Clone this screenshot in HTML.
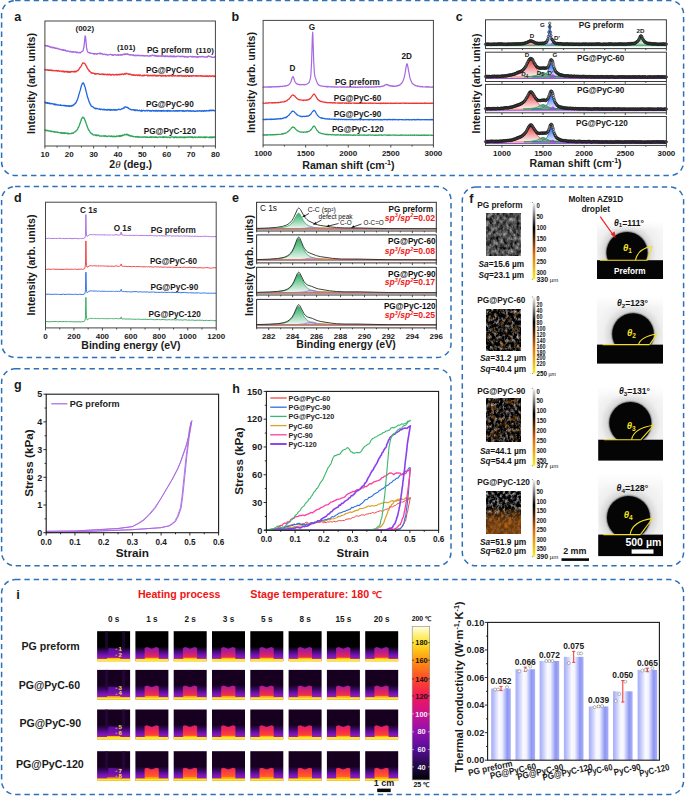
<!DOCTYPE html>
<html><head><meta charset="utf-8"><title>Figure</title>
<style>html,body{margin:0;padding:0;background:#fff;} svg{display:block;} text{font-family:"Liberation Sans", sans-serif;}</style>
</head><body>
<svg width="685" height="796" viewBox="0 0 685 796">
<defs>
<linearGradient id="cg0_0" x1="0" y1="0" x2="0" y2="1"><stop offset="0" stop-color="#e23a3a" stop-opacity="1"/><stop offset="0.55" stop-color="#e23a3a" stop-opacity="0.45"/><stop offset="1" stop-color="#e23a3a" stop-opacity="0.05"/></linearGradient>
<linearGradient id="cg0_1" x1="0" y1="0" x2="0" y2="1"><stop offset="0" stop-color="#1f5fe6" stop-opacity="1"/><stop offset="0.55" stop-color="#1f5fe6" stop-opacity="0.45"/><stop offset="1" stop-color="#1f5fe6" stop-opacity="0.05"/></linearGradient>
<linearGradient id="cg0_2" x1="0" y1="0" x2="0" y2="1"><stop offset="0" stop-color="#2a9a50" stop-opacity="1"/><stop offset="0.55" stop-color="#2a9a50" stop-opacity="0.45"/><stop offset="1" stop-color="#2a9a50" stop-opacity="0.05"/></linearGradient>
<linearGradient id="cg0_3" x1="0" y1="0" x2="0" y2="1"><stop offset="0" stop-color="#a040e0" stop-opacity="1"/><stop offset="0.55" stop-color="#a040e0" stop-opacity="0.45"/><stop offset="1" stop-color="#a040e0" stop-opacity="0.05"/></linearGradient>
<circle id="sc" cx="0" cy="0" r="1.2" fill="#999" fill-opacity="0.4" stroke="#000" stroke-width="0.5" stroke-opacity="0.9"/>
<linearGradient id="cg1_0" x1="0" y1="0" x2="0" y2="1"><stop offset="0" stop-color="#e23a3a" stop-opacity="1"/><stop offset="0.55" stop-color="#e23a3a" stop-opacity="0.45"/><stop offset="1" stop-color="#e23a3a" stop-opacity="0.05"/></linearGradient>
<linearGradient id="cg1_1" x1="0" y1="0" x2="0" y2="1"><stop offset="0" stop-color="#1f5fe6" stop-opacity="1"/><stop offset="0.55" stop-color="#1f5fe6" stop-opacity="0.45"/><stop offset="1" stop-color="#1f5fe6" stop-opacity="0.05"/></linearGradient>
<linearGradient id="cg1_2" x1="0" y1="0" x2="0" y2="1"><stop offset="0" stop-color="#2a9a50" stop-opacity="1"/><stop offset="0.55" stop-color="#2a9a50" stop-opacity="0.45"/><stop offset="1" stop-color="#2a9a50" stop-opacity="0.05"/></linearGradient>
<linearGradient id="cg1_3" x1="0" y1="0" x2="0" y2="1"><stop offset="0" stop-color="#a040e0" stop-opacity="1"/><stop offset="0.55" stop-color="#a040e0" stop-opacity="0.45"/><stop offset="1" stop-color="#a040e0" stop-opacity="0.05"/></linearGradient>
<linearGradient id="cg2_0" x1="0" y1="0" x2="0" y2="1"><stop offset="0" stop-color="#e23a3a" stop-opacity="1"/><stop offset="0.55" stop-color="#e23a3a" stop-opacity="0.45"/><stop offset="1" stop-color="#e23a3a" stop-opacity="0.05"/></linearGradient>
<linearGradient id="cg2_1" x1="0" y1="0" x2="0" y2="1"><stop offset="0" stop-color="#1f5fe6" stop-opacity="1"/><stop offset="0.55" stop-color="#1f5fe6" stop-opacity="0.45"/><stop offset="1" stop-color="#1f5fe6" stop-opacity="0.05"/></linearGradient>
<linearGradient id="cg2_2" x1="0" y1="0" x2="0" y2="1"><stop offset="0" stop-color="#2a9a50" stop-opacity="1"/><stop offset="0.55" stop-color="#2a9a50" stop-opacity="0.45"/><stop offset="1" stop-color="#2a9a50" stop-opacity="0.05"/></linearGradient>
<linearGradient id="cg2_3" x1="0" y1="0" x2="0" y2="1"><stop offset="0" stop-color="#a040e0" stop-opacity="1"/><stop offset="0.55" stop-color="#a040e0" stop-opacity="0.45"/><stop offset="1" stop-color="#a040e0" stop-opacity="0.05"/></linearGradient>
<linearGradient id="cg3_0" x1="0" y1="0" x2="0" y2="1"><stop offset="0" stop-color="#e23a3a" stop-opacity="1"/><stop offset="0.55" stop-color="#e23a3a" stop-opacity="0.45"/><stop offset="1" stop-color="#e23a3a" stop-opacity="0.05"/></linearGradient>
<linearGradient id="cg3_1" x1="0" y1="0" x2="0" y2="1"><stop offset="0" stop-color="#1f5fe6" stop-opacity="1"/><stop offset="0.55" stop-color="#1f5fe6" stop-opacity="0.45"/><stop offset="1" stop-color="#1f5fe6" stop-opacity="0.05"/></linearGradient>
<linearGradient id="cg3_2" x1="0" y1="0" x2="0" y2="1"><stop offset="0" stop-color="#2a9a50" stop-opacity="1"/><stop offset="0.55" stop-color="#2a9a50" stop-opacity="0.45"/><stop offset="1" stop-color="#2a9a50" stop-opacity="0.05"/></linearGradient>
<linearGradient id="cg3_3" x1="0" y1="0" x2="0" y2="1"><stop offset="0" stop-color="#a040e0" stop-opacity="1"/><stop offset="0.55" stop-color="#a040e0" stop-opacity="0.45"/><stop offset="1" stop-color="#a040e0" stop-opacity="0.05"/></linearGradient>
<linearGradient id="eg0" x1="0" y1="0" x2="0" y2="1"><stop offset="0" stop-color="#1fa85a" stop-opacity="0.95"/><stop offset="1" stop-color="#1fa85a" stop-opacity="0.05"/></linearGradient>
<linearGradient id="eg1" x1="0" y1="0" x2="0" y2="1"><stop offset="0" stop-color="#1fa85a" stop-opacity="0.95"/><stop offset="1" stop-color="#1fa85a" stop-opacity="0.05"/></linearGradient>
<linearGradient id="eg2" x1="0" y1="0" x2="0" y2="1"><stop offset="0" stop-color="#1fa85a" stop-opacity="0.95"/><stop offset="1" stop-color="#1fa85a" stop-opacity="0.05"/></linearGradient>
<linearGradient id="eg3" x1="0" y1="0" x2="0" y2="1"><stop offset="0" stop-color="#1fa85a" stop-opacity="0.95"/><stop offset="1" stop-color="#1fa85a" stop-opacity="0.05"/></linearGradient>
<filter id="tf0" x="0" y="0" width="100%" height="100%" filterUnits="objectBoundingBox" color-interpolation-filters="sRGB">
<feTurbulence type="fractalNoise" baseFrequency="0.3 0.22" numOctaves="4" seed="3"/>
<feColorMatrix type="matrix" values="0.95 0 0 0 -0.17  0.95 0 0 0 -0.17  0.95 0 0 0 -0.17  0 0 0 0 1"/>
</filter>
<filter id="tf0o" x="0" y="0" width="100%" height="100%" filterUnits="objectBoundingBox" color-interpolation-filters="sRGB">
<feTurbulence type="fractalNoise" baseFrequency="0.22 0.18" numOctaves="2" seed="14"/>
<feColorMatrix type="matrix" values="0 0 0 0 0.72  0 0 0 0 0.38  0 0 0 0 0.05  3.4 0 0 0 -2.2"/>
</filter>
<linearGradient id="fcb" x1="0" y1="0" x2="0" y2="1"><stop offset="0" stop-color="#f4f4f4"/><stop offset="0.33" stop-color="#000"/><stop offset="0.45" stop-color="#4a2000"/><stop offset="0.67" stop-color="#e07010"/><stop offset="1" stop-color="#f4f020"/></linearGradient>
<filter id="tf1" x="0" y="0" width="100%" height="100%" filterUnits="objectBoundingBox" color-interpolation-filters="sRGB">
<feTurbulence type="fractalNoise" baseFrequency="0.35 0.28" numOctaves="4" seed="8"/>
<feColorMatrix type="matrix" values="1.65 0 0 0 -0.72  1.65 0 0 0 -0.72  1.65 0 0 0 -0.72  0 0 0 0 1"/>
</filter>
<filter id="tf1o" x="0" y="0" width="100%" height="100%" filterUnits="objectBoundingBox" color-interpolation-filters="sRGB">
<feTurbulence type="fractalNoise" baseFrequency="0.22 0.18" numOctaves="2" seed="19"/>
<feColorMatrix type="matrix" values="0 0 0 0 0.72  0 0 0 0 0.38  0 0 0 0 0.05  3.4 0 0 0 -1.75"/>
</filter>
<filter id="tf2" x="0" y="0" width="100%" height="100%" filterUnits="objectBoundingBox" color-interpolation-filters="sRGB">
<feTurbulence type="fractalNoise" baseFrequency="0.35 0.28" numOctaves="4" seed="13"/>
<feColorMatrix type="matrix" values="1.65 0 0 0 -0.72  1.65 0 0 0 -0.72  1.65 0 0 0 -0.72  0 0 0 0 1"/>
</filter>
<filter id="tf2o" x="0" y="0" width="100%" height="100%" filterUnits="objectBoundingBox" color-interpolation-filters="sRGB">
<feTurbulence type="fractalNoise" baseFrequency="0.22 0.18" numOctaves="2" seed="24"/>
<feColorMatrix type="matrix" values="0 0 0 0 0.72  0 0 0 0 0.38  0 0 0 0 0.05  3.4 0 0 0 -1.7"/>
</filter>
<filter id="tf3" x="0" y="0" width="100%" height="100%" filterUnits="objectBoundingBox" color-interpolation-filters="sRGB">
<feTurbulence type="fractalNoise" baseFrequency="0.35 0.28" numOctaves="4" seed="18"/>
<feColorMatrix type="matrix" values="1.6 0 0 0 -0.66  1.6 0 0 0 -0.66  1.6 0 0 0 -0.66  0 0 0 0 1"/>
</filter>
<filter id="tf3o" x="0" y="0" width="100%" height="100%" filterUnits="objectBoundingBox" color-interpolation-filters="sRGB">
<feTurbulence type="fractalNoise" baseFrequency="0.22 0.18" numOctaves="2" seed="29"/>
<feColorMatrix type="matrix" values="0 0 0 0 0.72  0 0 0 0 0.38  0 0 0 0 0.05  3.4 0 0 0 -1.6"/>
</filter>
<linearGradient id="omask3g" x1="0" y1="0" x2="0" y2="1"><stop offset="0.35" stop-color="#000"/><stop offset="0.7" stop-color="#fff"/></linearGradient><mask id="omask3"><rect x="486.2" y="491.4" width="34.8" height="42.60000000000002" fill="url(#omask3g)"/></mask>
<radialGradient id="dbg0" cx="627.0" cy="252.5" r="38.949999999999996" gradientUnits="userSpaceOnUse"><stop offset="0.52" stop-color="#9a9a9a"/><stop offset="0.58" stop-color="#d8d8d8"/><stop offset="0.75" stop-color="#efefef"/><stop offset="1" stop-color="#f6f6f6"/></radialGradient>
<linearGradient id="dbg0v" x1="0" y1="0" x2="0" y2="1"><stop offset="0" stop-color="#fff" stop-opacity="1"/><stop offset="0.25" stop-color="#fff" stop-opacity="0"/></linearGradient>
<radialGradient id="dbg1" cx="633.0" cy="334.0" r="39.519999999999996" gradientUnits="userSpaceOnUse"><stop offset="0.52" stop-color="#9a9a9a"/><stop offset="0.58" stop-color="#d8d8d8"/><stop offset="0.75" stop-color="#efefef"/><stop offset="1" stop-color="#f6f6f6"/></radialGradient>
<linearGradient id="dbg1v" x1="0" y1="0" x2="0" y2="1"><stop offset="0" stop-color="#fff" stop-opacity="1"/><stop offset="0.25" stop-color="#fff" stop-opacity="0"/></linearGradient>
<radialGradient id="dbg2" cx="630.3" cy="423.0" r="39.9" gradientUnits="userSpaceOnUse"><stop offset="0.52" stop-color="#9a9a9a"/><stop offset="0.58" stop-color="#d8d8d8"/><stop offset="0.75" stop-color="#efefef"/><stop offset="1" stop-color="#f6f6f6"/></radialGradient>
<linearGradient id="dbg2v" x1="0" y1="0" x2="0" y2="1"><stop offset="0" stop-color="#fff" stop-opacity="1"/><stop offset="0.25" stop-color="#fff" stop-opacity="0"/></linearGradient>
<radialGradient id="dbg3" cx="628.5" cy="517.5" r="40.85" gradientUnits="userSpaceOnUse"><stop offset="0.52" stop-color="#9a9a9a"/><stop offset="0.58" stop-color="#d8d8d8"/><stop offset="0.75" stop-color="#efefef"/><stop offset="1" stop-color="#f6f6f6"/></radialGradient>
<linearGradient id="dbg3v" x1="0" y1="0" x2="0" y2="1"><stop offset="0" stop-color="#fff" stop-opacity="1"/><stop offset="0.25" stop-color="#fff" stop-opacity="0"/></linearGradient>
<linearGradient id="thbg0" x1="0" y1="0" x2="0" y2="1"><stop offset="0" stop-color="#000000"/><stop offset="0.52" stop-color="#000000"/><stop offset="0.66" stop-color="#3a0a66"/><stop offset="0.8" stop-color="#7412b4"/><stop offset="0.92" stop-color="#9a1cb8"/><stop offset="1" stop-color="#a822a0"/></linearGradient>
<linearGradient id="thsamp0" x1="0" y1="0" x2="0" y2="1"><stop offset="0" stop-color="#5a0c98"/><stop offset="0.6" stop-color="#7412b0"/><stop offset="0.85" stop-color="#a01898"/><stop offset="1" stop-color="#e83048"/></linearGradient>
<linearGradient id="thbg1" x1="0" y1="0" x2="0" y2="1"><stop offset="0" stop-color="#17001f"/><stop offset="0.52" stop-color="#17001f"/><stop offset="0.66" stop-color="#3a0a66"/><stop offset="0.8" stop-color="#7412b4"/><stop offset="0.92" stop-color="#9a1cb8"/><stop offset="1" stop-color="#a822a0"/></linearGradient>
<linearGradient id="thbg2" x1="0" y1="0" x2="0" y2="1"><stop offset="0" stop-color="#17001f"/><stop offset="0.52" stop-color="#17001f"/><stop offset="0.66" stop-color="#3a0a66"/><stop offset="0.8" stop-color="#7412b4"/><stop offset="0.92" stop-color="#9a1cb8"/><stop offset="1" stop-color="#a822a0"/></linearGradient>
<linearGradient id="thbg3" x1="0" y1="0" x2="0" y2="1"><stop offset="0" stop-color="#17001f"/><stop offset="0.52" stop-color="#17001f"/><stop offset="0.66" stop-color="#3a0a66"/><stop offset="0.8" stop-color="#7412b4"/><stop offset="0.92" stop-color="#9a1cb8"/><stop offset="1" stop-color="#a822a0"/></linearGradient>
<linearGradient id="thsampr0" x1="0" y1="0" x2="0" y2="1"><stop offset="0" stop-color="#8c1ca8"/><stop offset="0.4" stop-color="#b81c88"/><stop offset="0.8" stop-color="#e82858"/><stop offset="1" stop-color="#ff6a30"/></linearGradient>
<linearGradient id="thsampr1" x1="0" y1="0" x2="0" y2="1"><stop offset="0" stop-color="#a41c9c"/><stop offset="0.4" stop-color="#d02070"/><stop offset="0.8" stop-color="#f03048"/><stop offset="1" stop-color="#ff7028"/></linearGradient>
<linearGradient id="thsampr2" x1="0" y1="0" x2="0" y2="1"><stop offset="0" stop-color="#d0206c"/><stop offset="0.4" stop-color="#f02850"/><stop offset="0.8" stop-color="#ff4038"/><stop offset="1" stop-color="#ff8020"/></linearGradient>
<linearGradient id="thsampr3" x1="0" y1="0" x2="0" y2="1"><stop offset="0" stop-color="#ec2858"/><stop offset="0.4" stop-color="#ff4038"/><stop offset="0.8" stop-color="#ff6024"/><stop offset="1" stop-color="#ff9a18"/></linearGradient>
<linearGradient id="tcb" x1="0" y1="1" x2="0" y2="0"><stop offset="0" stop-color="#000004"/><stop offset="0.086" stop-color="#200a40"/><stop offset="0.2" stop-color="#560c96"/><stop offset="0.314" stop-color="#8e10b0"/><stop offset="0.43" stop-color="#cc1090"/><stop offset="0.543" stop-color="#f01858"/><stop offset="0.657" stop-color="#ff4a28"/><stop offset="0.771" stop-color="#ff9010"/><stop offset="0.886" stop-color="#ffe020"/><stop offset="1" stop-color="#ffffe0"/></linearGradient>
<linearGradient id="barg" x1="0" y1="0" x2="1" y2="0"><stop offset="0" stop-color="#a6aef8"/><stop offset="0.12" stop-color="#b8bef9"/><stop offset="0.4" stop-color="#fafaff"/><stop offset="0.55" stop-color="#f2f3ff"/><stop offset="0.82" stop-color="#8d96f3"/><stop offset="1" stop-color="#a9b0f6"/></linearGradient>
</defs>
<rect x="0" y="0" width="685" height="796" fill="#ffffff"/>
<rect x="1.6" y="0.6" width="682.0" height="174.9" rx="13.5" ry="13.5" fill="none" stroke="#2e70b8" stroke-width="1.5" stroke-dasharray="5.4 3.9"/>
<rect x="1.6" y="186.6" width="449.4" height="170.79999999999998" rx="13.5" ry="13.5" fill="none" stroke="#2e70b8" stroke-width="1.5" stroke-dasharray="5.4 3.9"/>
<rect x="462.3" y="187.0" width="221.3" height="378.79999999999995" rx="13.5" ry="13.5" fill="none" stroke="#2e70b8" stroke-width="1.5" stroke-dasharray="5.4 3.9"/>
<rect x="1.6" y="368.8" width="449.4" height="196.99999999999994" rx="13.5" ry="13.5" fill="none" stroke="#2e70b8" stroke-width="1.5" stroke-dasharray="5.4 3.9"/>
<rect x="1.6" y="579.6" width="682.0" height="214.79999999999995" rx="13.5" ry="13.5" fill="none" stroke="#2e70b8" stroke-width="1.5" stroke-dasharray="5.4 3.9"/>
<text x="14.30" y="20.50" font-size="12.5" text-anchor="start" font-weight="bold" fill="#1a1a1a">a</text>
<text x="35.38" y="83.50" font-size="10.5" text-anchor="middle" font-weight="bold" fill="#1a1a1a" textLength="101.00" lengthAdjust="spacingAndGlyphs" transform="rotate(-90 35.38 83.50)">Intensity (arb. units)</text>
<polyline points="44.9,45.4 45.3,45.4 45.6,45.9 46.0,45.5 46.4,46.0 47.1,45.7 47.5,46.2 47.8,45.9 48.2,46.3 48.6,46.1 48.9,46.2 49.6,47.0 50.0,46.5 51.1,47.5 51.8,47.2 52.2,47.8 52.6,47.1 52.9,47.9 53.3,47.5 54.0,47.5 54.8,48.3 55.1,47.8 55.5,48.3 55.9,48.4 56.2,48.2 56.6,48.5 57.0,48.1 57.7,48.5 58.1,49.0 58.8,48.8 59.1,49.1 59.9,49.1 60.2,49.6 60.6,49.6 61.0,49.3 62.1,50.1 62.8,49.7 63.2,50.4 63.5,49.7 64.3,50.5 64.6,50.0 65.0,50.4 65.4,50.1 65.7,50.8 66.1,50.9 66.5,50.8 66.8,51.2 67.2,50.8 67.6,51.2 68.6,51.2 69.4,51.8 69.7,51.5 70.1,51.7 70.5,51.2 70.8,51.8 71.2,51.8 71.6,52.2 71.9,52.1 72.3,51.6 73.0,52.1 73.4,51.6 73.8,52.0 74.1,51.8 74.9,51.8 75.2,52.4 75.6,51.9 76.3,52.2 76.7,52.7 77.1,52.0 78.1,52.8 78.9,52.8 79.2,52.3 80.0,52.4 80.3,52.8 80.7,52.8 81.1,52.0 82.5,51.4 82.9,50.9 83.3,49.8 84.0,46.7 85.1,36.0 85.5,36.6 86.6,47.9 87.3,51.0 88.0,52.3 88.4,52.6 89.5,52.7 89.8,53.3 90.2,52.9 91.7,53.5 92.4,53.3 93.5,53.8 93.9,53.5 94.2,54.3 95.0,53.6 96.0,53.8 96.4,53.6 96.8,54.2 97.1,54.3 97.5,53.8 98.6,53.3 99.0,53.4 99.3,53.3 99.7,53.8 100.1,53.2 100.4,53.1 100.8,54.0 101.5,53.5 101.9,53.9 102.3,53.6 103.0,54.6 103.7,54.4 104.1,54.1 104.5,54.2 104.8,54.1 105.2,54.7 105.5,54.5 105.9,54.7 106.3,54.4 106.6,54.3 107.0,54.9 107.4,55.0 108.8,54.9 109.2,54.5 109.6,54.7 110.3,54.3 110.7,54.3 111.4,54.6 112.1,55.2 112.5,54.8 112.9,55.2 113.2,55.3 113.6,55.3 114.0,54.7 114.3,54.6 115.4,54.6 116.1,55.3 116.5,55.2 116.9,54.9 117.6,55.2 118.0,54.5 118.7,55.3 119.4,55.1 120.2,54.5 120.5,55.1 120.9,54.6 121.6,55.1 122.0,54.6 122.4,54.5 122.7,55.0 123.5,54.1 123.8,54.0 124.2,54.0 124.5,54.6 124.9,54.4 125.3,53.8 125.6,54.3 126.0,54.4 126.7,53.9 127.1,54.1 127.5,53.8 127.8,53.7 128.2,54.7 128.9,54.5 129.3,54.9 129.7,54.6 130.0,55.0 130.4,55.1 130.8,54.6 131.9,54.8 132.2,55.2 132.6,54.9 133.0,55.1 133.3,54.9 133.7,55.6 134.0,55.1 135.1,55.7 135.5,55.3 135.9,55.8 136.2,55.4 137.0,55.5 137.3,55.1 137.7,55.5 138.4,55.1 138.8,55.8 139.2,55.3 139.9,55.8 140.6,55.5 141.7,55.9 142.1,55.3 142.5,55.7 142.8,55.5 143.2,55.5 143.5,56.0 143.9,55.7 145.0,56.1 145.4,55.7 146.8,55.9 147.2,55.7 147.9,55.8 148.3,56.2 148.7,56.0 149.4,56.2 149.8,55.5 150.5,56.1 150.9,56.0 151.2,55.4 151.6,55.3 151.9,55.6 152.3,55.2 152.7,55.3 153.0,55.1 153.4,55.6 154.1,55.9 154.5,55.3 154.9,55.8 155.2,55.8 155.6,55.4 156.0,56.1 156.3,56.3 156.7,55.6 157.1,56.3 157.4,55.9 157.8,56.0 158.2,56.4 158.5,56.3 158.9,55.7 159.6,56.1 160.4,55.8 161.1,56.3 161.4,55.7 161.8,56.2 162.5,55.7 163.3,56.3 163.6,56.2 164.0,55.8 164.4,56.6 164.7,56.5 165.1,56.7 165.5,55.9 165.8,56.0 166.2,55.8 166.6,56.5 166.9,56.1 167.3,55.9 168.0,56.7 168.4,56.6 168.8,56.1 169.1,56.0 169.5,56.7 169.9,56.4 170.2,56.5 170.6,56.0 170.9,56.0 171.3,56.5 172.0,56.0 172.4,56.8 172.8,56.5 173.1,56.7 173.5,56.0 173.9,56.7 174.2,56.0 174.6,56.8 175.3,56.3 176.1,56.9 176.4,56.3 176.8,56.2 177.2,56.5 177.9,56.2 178.6,56.1 179.7,56.4 180.1,56.8 180.4,56.4 180.8,56.6 181.2,56.3 181.5,56.5 181.9,56.2 182.3,56.4 182.6,56.2 183.0,56.8 183.7,56.4 184.5,57.0 184.8,56.3 185.2,57.0 185.6,56.6 186.3,57.0 186.7,56.6 187.8,57.2 188.1,56.6 188.5,57.0 190.3,56.4 191.0,56.4 191.4,57.0 191.8,56.6 192.5,56.4 192.9,57.1 193.2,57.2 194.0,56.6 195.1,56.8 195.4,56.5 195.8,56.8 196.2,56.7 196.5,57.3 196.9,57.3 197.6,56.7 198.0,57.3 198.3,56.7 198.7,56.8 199.1,56.5 199.4,56.8 200.2,56.9 200.5,56.7 200.9,56.9 201.3,56.5 201.6,56.7 202.0,56.6 202.4,56.9 202.7,56.5 203.1,56.5 203.5,56.8 203.8,56.7 204.2,57.0 206.0,57.2 206.4,56.8 206.8,56.7 207.1,57.2 207.5,56.4 207.8,56.8 208.2,56.5 208.6,55.8 208.9,56.4 209.7,56.4 210.4,56.9 210.8,56.5 211.1,56.9 211.5,56.9 211.9,57.3 212.6,57.3 213.0,57.1 213.3,57.4 214.1,57.3 214.8,56.7 215.2,56.8" fill="none" stroke="#a768e0" stroke-width="1.3" stroke-linejoin="round" stroke-linecap="round"/>
<polyline points="44.9,69.6 45.3,69.4 45.6,70.1 46.0,69.9 47.1,70.1 47.8,69.6 48.2,70.3 48.9,70.1 49.6,70.3 50.0,69.8 50.4,70.5 51.1,70.0 51.8,70.6 52.2,70.2 52.9,70.9 53.3,70.5 53.7,70.5 54.8,70.9 55.5,70.9 55.9,70.4 56.6,70.6 57.0,71.1 57.3,70.7 57.7,71.0 58.1,70.5 58.8,70.8 59.1,71.2 59.5,71.3 59.9,71.3 60.2,71.0 60.6,71.2 61.3,71.2 61.7,71.0 62.1,71.7 62.4,71.1 62.8,71.8 63.2,71.8 63.5,71.0 64.6,72.0 65.0,71.5 65.7,71.4 66.1,72.0 66.5,71.4 66.8,71.8 67.2,71.4 67.9,72.2 68.3,71.5 68.6,72.1 69.0,71.8 69.4,72.2 70.1,71.6 70.5,72.2 71.2,71.4 71.6,71.4 71.9,71.8 73.0,71.5 73.8,71.6 74.1,72.0 74.5,71.2 74.9,71.9 75.2,71.9 75.6,71.2 76.0,71.8 76.3,71.5 76.7,71.5 77.1,70.8 77.8,70.4 78.1,70.6 80.3,67.1 80.7,67.1 81.1,66.0 81.4,65.9 81.8,64.6 82.2,64.0 82.9,62.9 83.3,62.8 83.6,63.1 84.0,63.1 84.7,63.4 86.2,65.9 86.6,66.1 86.9,67.4 87.6,68.8 88.7,69.9 89.1,71.1 89.5,70.8 89.8,71.5 90.6,72.0 91.3,73.1 91.7,72.6 92.0,73.1 92.4,73.0 92.8,73.3 93.5,73.2 94.2,73.4 94.6,74.1 95.3,73.5 95.7,74.2 96.0,74.3 96.8,73.6 97.5,73.6 97.9,73.9 98.2,73.7 99.0,73.9 99.7,74.5 100.4,74.1 101.2,74.3 102.3,73.9 102.6,74.1 103.0,74.7 103.4,74.0 104.5,74.7 104.8,74.1 106.3,74.4 106.6,74.9 107.4,74.8 107.7,74.1 108.1,74.1 108.5,74.7 108.8,74.9 109.2,74.5 109.6,74.6 109.9,74.1 110.7,75.0 111.8,75.0 112.1,74.4 112.5,74.3 112.9,74.3 114.0,75.1 114.7,74.8 115.0,74.9 115.4,74.6 115.8,74.7 116.1,74.3 116.5,74.9 116.9,74.4 117.2,75.1 118.3,74.3 119.4,74.8 119.8,74.2 120.2,74.2 120.5,74.5 120.9,74.6 121.6,74.1 122.0,74.4 122.4,73.8 123.1,74.1 123.5,74.5 123.8,74.1 124.2,74.3 124.9,73.5 125.3,73.5 125.6,74.1 126.7,73.2 127.5,73.9 128.2,73.8 128.9,74.6 129.3,74.0 129.7,73.9 130.8,74.7 131.1,74.4 131.5,75.0 131.9,75.0 132.6,74.6 133.0,75.3 133.3,74.8 133.7,75.3 134.0,74.8 134.4,74.8 134.8,75.3 135.1,74.9 135.5,75.5 136.2,74.9 136.6,74.9 137.7,75.6 138.1,74.9 138.4,75.2 138.8,75.0 139.2,75.7 139.5,75.0 139.9,74.9 140.3,74.9 141.0,75.7 141.7,75.6 142.1,75.8 142.5,75.8 142.8,75.2 143.2,75.1 143.5,75.8 143.9,75.6 144.3,75.0 144.6,75.6 145.0,75.3 145.7,75.3 146.5,75.0 147.2,75.3 147.6,75.9 147.9,75.1 148.3,75.9 148.7,75.2 149.4,75.8 149.8,75.8 150.5,75.1 150.9,75.5 151.2,75.4 151.6,75.9 151.9,75.3 152.3,75.4 152.7,75.9 153.0,75.1 153.8,75.8 154.1,75.8 154.5,75.2 154.9,75.2 155.2,75.2 155.6,76.0 156.0,75.4 156.7,76.0 157.1,75.5 157.4,75.4 157.8,76.0 158.5,75.4 158.9,75.8 159.3,75.5 160.0,75.2 160.4,75.9 160.7,76.0 161.1,75.8 161.4,76.1 161.8,75.2 162.5,75.6 162.9,76.1 163.3,76.1 163.6,75.6 164.0,75.5 164.7,75.7 165.1,76.1 165.5,75.4 165.8,76.0 166.9,76.0 167.7,75.6 168.0,75.6 168.4,75.6 168.8,76.0 169.1,75.4 169.5,75.5 169.9,76.0 170.2,75.5 170.9,75.3 171.3,75.8 171.7,75.6 172.0,76.2 172.8,76.2 173.1,75.6 173.5,75.4 173.9,75.4 174.6,76.0 175.3,75.6 176.1,75.9 177.2,76.1 177.5,76.0 177.9,75.5 178.3,76.1 178.6,75.6 179.0,75.9 179.4,75.7 179.7,76.1 180.1,75.6 181.2,75.5 181.5,76.2 182.3,75.7 182.6,75.8 183.0,76.3 183.7,75.6 184.1,76.2 184.5,76.0 184.8,76.3 185.2,75.5 185.9,76.2 186.7,76.3 187.0,75.5 187.4,75.7 188.1,75.6 188.5,76.4 188.9,76.0 189.2,76.3 189.6,75.8 189.9,76.3 190.7,75.7 191.4,76.4 191.8,75.6 192.1,76.1 192.5,76.1 192.9,75.7 193.2,75.9 193.6,75.7 194.3,75.8 195.1,76.1 195.8,75.6 196.5,76.2 196.9,75.7 197.6,75.8 198.0,76.3 198.7,75.6 200.2,76.2 200.5,75.7 200.9,75.7 201.3,76.2 201.6,76.0 202.4,75.9 202.7,76.5 203.1,75.9 203.5,76.1 203.8,76.0 204.2,76.0 204.9,76.5 205.3,76.0 205.7,75.8 206.0,76.3 206.8,75.7 207.1,76.5 207.5,76.0 207.8,76.4 208.2,76.0 208.6,76.5 209.7,75.7 210.0,76.2 210.8,76.5 211.1,75.8 211.5,76.3 211.9,76.0 212.2,76.2 212.6,75.8 213.7,76.6 214.1,75.8 215.2,76.6" fill="none" stroke="#ee3535" stroke-width="1.3" stroke-linejoin="round" stroke-linecap="round"/>
<polyline points="44.9,102.1 45.3,102.2 45.6,103.0 46.0,103.1 46.7,102.4 47.1,103.2 47.5,102.8 47.8,103.4 48.2,103.2 48.6,103.5 48.9,102.9 49.3,103.6 49.6,103.1 50.4,103.8 50.7,103.9 51.1,103.4 52.2,103.9 52.9,103.7 54.0,104.6 54.4,103.9 55.1,104.7 55.5,104.1 55.9,104.9 56.2,104.3 56.6,104.8 57.3,105.0 57.7,104.7 58.4,105.1 58.8,105.0 59.1,105.3 59.9,105.2 60.2,104.8 60.6,105.4 61.3,105.2 61.7,105.7 62.1,105.7 62.8,105.3 63.2,105.6 63.5,105.3 63.9,105.4 64.3,105.7 64.6,105.4 65.4,105.9 65.7,105.5 66.1,106.0 66.5,105.6 66.8,106.2 67.2,106.2 67.9,105.6 68.3,106.0 68.6,105.9 69.0,106.5 69.4,105.7 69.7,106.3 70.1,106.4 70.5,106.1 70.8,106.1 71.2,105.5 71.6,106.1 71.9,105.6 72.3,105.9 72.7,105.7 73.0,104.9 73.4,105.3 73.8,105.2 74.1,104.1 74.9,104.1 75.2,103.2 75.6,103.4 76.0,102.3 76.3,102.2 76.7,100.9 77.4,99.9 80.0,90.9 80.3,90.2 81.4,85.6 81.8,85.0 82.2,83.6 83.3,82.8 83.6,83.6 84.0,84.0 84.7,86.3 85.1,86.8 85.5,89.0 86.9,94.3 87.3,96.3 89.5,102.7 89.8,102.9 90.2,104.3 90.6,104.4 91.3,106.2 91.7,106.2 92.0,106.7 92.8,106.7 93.5,107.4 93.9,108.0 94.6,108.2 95.0,108.7 95.3,108.1 96.0,108.7 96.4,108.3 96.8,108.3 97.1,108.7 97.5,108.5 97.9,108.8 98.2,108.8 98.6,109.1 99.0,109.2 99.3,108.9 99.7,109.3 100.4,109.0 100.8,109.7 101.2,109.1 101.9,109.1 102.6,109.8 104.1,109.2 104.5,109.8 105.2,109.5 105.5,109.8 105.9,109.7 106.3,110.1 107.0,109.5 107.4,110.1 107.7,109.4 108.1,109.8 109.2,109.5 109.6,110.1 109.9,109.4 110.7,110.3 111.0,109.6 111.4,109.6 111.8,110.0 112.1,109.9 112.9,110.2 113.2,109.6 114.0,109.8 114.3,109.5 114.7,110.3 115.4,110.1 115.8,109.5 116.1,110.2 116.9,109.8 117.2,110.1 118.0,109.5 119.1,109.2 119.8,109.7 120.5,109.7 121.3,108.9 121.6,109.0 122.0,108.8 122.4,108.9 123.1,108.1 123.8,108.3 124.2,107.4 124.5,107.8 124.9,106.8 125.6,106.8 126.4,107.4 127.1,107.1 127.5,107.8 127.8,107.6 128.2,107.7 128.6,108.6 128.9,108.5 129.7,109.0 130.0,109.4 130.4,109.1 130.8,109.6 131.1,109.6 131.5,109.9 131.9,109.6 132.2,109.9 133.3,109.7 133.7,110.1 134.0,109.7 134.4,110.5 134.8,109.9 135.1,109.8 135.5,109.9 135.9,110.7 136.2,110.2 137.0,110.0 137.3,110.0 137.7,110.6 138.8,110.7 139.2,110.1 139.5,110.6 139.9,110.4 140.3,110.9 141.0,111.0 141.4,110.2 141.7,111.0 142.5,111.1 142.8,110.3 143.9,110.3 144.3,111.0 145.0,110.8 145.4,111.0 146.5,110.4 146.8,110.4 147.2,111.0 147.6,110.5 148.3,110.7 148.7,110.3 149.4,110.6 149.8,111.0 150.1,110.7 150.5,110.6 150.9,111.2 151.2,110.8 151.6,111.1 151.9,110.9 152.3,110.4 153.4,111.0 153.8,110.7 154.1,111.0 154.9,110.6 155.2,111.1 155.6,110.5 156.0,111.1 156.3,110.5 156.7,110.4 157.8,111.3 158.2,110.4 158.5,110.8 158.9,110.8 159.3,111.1 159.6,110.6 160.0,110.8 160.4,110.7 160.7,111.1 161.1,110.6 161.4,111.3 161.8,110.7 162.2,110.6 162.5,111.0 163.3,110.5 163.6,111.0 164.0,110.5 164.4,111.1 165.1,111.1 165.8,110.7 166.6,110.8 166.9,111.2 167.3,110.5 167.7,111.2 168.0,110.5 168.8,110.7 169.1,111.2 169.9,110.8 170.2,111.2 170.6,110.6 172.0,111.1 173.5,110.6 173.9,111.2 174.6,111.1 175.0,110.6 175.7,111.1 176.4,110.6 177.2,111.3 177.5,110.7 178.3,110.7 179.0,111.2 179.4,110.6 180.8,110.9 181.2,110.6 181.5,110.8 181.9,110.6 182.3,111.3 183.0,110.6 183.4,111.3 183.7,110.6 184.5,111.4 185.9,110.7 186.3,111.1 186.7,110.6 187.4,110.8 187.8,110.5 188.5,111.2 189.2,110.9 189.6,111.1 190.3,110.6 190.7,111.0 191.0,110.9 191.8,111.3 192.1,110.9 192.9,111.2 193.6,110.7 194.3,111.3 195.1,111.1 195.4,111.3 196.9,110.8 197.3,111.1 197.6,110.6 198.3,111.2 199.1,111.1 199.4,110.7 200.5,111.0 200.9,110.9 201.6,111.3 202.0,110.6 202.4,111.1 202.7,111.2 203.1,110.8 203.5,110.9 203.8,111.3 204.2,110.5 204.6,110.9 204.9,110.6 205.3,111.1 205.7,111.2 206.4,110.4 206.8,110.8 207.5,110.9 207.8,110.7 208.6,110.9 209.3,110.4 209.7,110.8 210.0,110.1 210.4,110.5 210.8,110.3 211.1,110.6 211.5,110.1 211.9,110.9 212.6,110.1 213.3,110.5 213.7,110.2 214.1,110.6 214.8,110.8 215.2,110.5" fill="none" stroke="#1f66e0" stroke-width="1.3" stroke-linejoin="round" stroke-linecap="round"/>
<polyline points="44.9,129.9 45.3,129.9 46.0,130.7 46.7,130.2 47.1,130.8 47.5,130.5 48.2,130.4 48.6,131.0 48.9,131.1 49.6,131.0 50.0,131.1 50.4,130.9 50.7,131.6 51.1,131.1 51.8,131.7 52.2,131.7 52.9,131.4 53.3,131.7 53.7,131.4 54.0,132.1 54.4,131.7 54.8,132.2 55.1,131.8 56.2,132.1 57.0,131.9 57.3,132.6 57.7,132.2 59.9,132.8 60.2,132.6 60.6,133.1 61.0,133.1 61.3,132.4 61.7,133.2 62.1,133.3 62.4,133.2 62.8,132.7 63.2,133.3 63.5,133.2 63.9,132.7 64.3,132.7 64.6,133.6 65.7,132.9 66.5,133.1 66.8,133.6 67.6,133.1 67.9,133.8 68.3,133.7 68.6,133.2 69.0,133.8 69.4,133.6 70.5,133.7 71.2,133.6 71.6,133.0 71.9,133.4 72.3,133.2 72.7,133.3 73.0,132.9 73.4,133.2 74.1,132.3 74.9,131.8 75.2,131.9 75.6,131.2 76.0,131.2 76.3,130.5 76.7,130.3 77.8,128.9 78.1,127.4 78.5,127.4 80.0,123.6 80.7,121.2 81.1,120.7 81.4,119.0 82.2,118.1 82.5,117.1 83.3,117.4 83.6,117.9 84.0,117.8 84.4,119.0 84.7,119.4 85.1,120.4 85.5,121.7 85.8,122.0 86.2,123.7 86.9,125.5 87.3,126.9 87.6,127.4 88.7,130.2 89.1,130.4 90.6,133.0 90.9,132.9 91.3,133.7 91.7,133.6 92.0,133.9 92.4,133.9 93.1,135.0 93.5,134.8 93.9,135.1 94.2,134.8 95.0,134.9 96.0,135.6 96.4,134.9 96.8,135.6 97.1,135.8 97.9,135.1 98.2,135.4 98.6,135.2 99.0,135.4 99.3,136.1 99.7,135.8 100.8,136.2 101.2,136.0 103.0,136.1 103.4,135.8 103.7,136.2 104.1,136.0 104.5,136.3 104.8,135.7 105.5,135.7 105.9,136.4 106.3,136.5 107.0,136.1 107.4,136.5 107.7,136.5 108.5,136.0 109.9,136.2 110.7,136.7 111.0,135.9 111.4,136.4 111.8,135.9 112.1,136.0 112.5,136.6 112.9,136.4 113.2,136.7 114.0,135.9 115.0,136.8 115.4,136.8 115.8,136.3 116.5,136.0 116.9,136.5 117.2,136.1 118.3,135.8 118.7,136.4 119.1,135.8 119.4,136.6 119.8,135.7 120.2,136.4 120.5,135.6 120.9,135.5 121.3,136.0 121.6,135.5 122.0,135.8 122.7,135.0 123.1,135.5 123.8,135.3 124.2,135.0 124.5,134.3 124.9,134.7 125.3,134.7 125.6,134.4 126.0,134.8 126.4,134.2 126.7,134.9 127.1,134.8 127.5,134.3 127.8,134.5 128.2,135.2 128.6,135.5 128.9,135.0 129.7,135.8 130.0,135.5 130.4,136.2 131.1,135.7 131.9,136.3 132.2,136.2 132.6,136.5 133.0,136.1 133.3,136.7 133.7,136.4 134.0,136.7 135.1,136.6 135.9,137.1 137.3,136.4 137.7,137.3 138.1,137.0 138.4,137.2 138.8,136.7 139.5,137.4 140.6,136.8 141.0,136.9 141.4,137.3 141.7,136.9 142.8,137.4 143.2,137.3 143.9,136.6 145.7,137.4 146.1,136.7 146.5,137.4 147.2,137.4 147.9,136.9 148.3,137.4 149.0,137.3 149.4,137.5 150.1,136.7 150.9,137.4 151.2,136.8 151.6,137.3 151.9,137.5 152.3,136.9 153.0,137.3 153.8,136.9 154.1,136.9 154.5,137.4 154.9,137.4 155.6,136.8 156.0,137.4 156.3,137.4 156.7,136.9 157.4,137.5 157.8,137.5 158.2,137.2 158.9,137.2 159.3,136.9 160.0,136.9 160.4,137.3 160.7,137.0 161.1,137.2 161.4,137.1 161.8,137.2 162.5,136.8 162.9,137.6 163.6,136.8 164.0,137.3 164.4,137.4 164.7,136.9 165.1,137.3 165.5,137.0 165.8,137.2 166.2,136.8 166.6,136.8 166.9,137.6 168.4,137.0 168.8,137.4 169.1,137.1 169.5,137.6 169.9,137.4 170.6,137.6 170.9,137.0 171.3,136.8 171.7,136.9 172.8,136.8 173.5,137.5 173.9,137.2 174.2,137.6 174.6,137.6 175.0,136.8 175.3,137.3 176.1,136.9 176.4,137.6 176.8,137.0 177.9,137.6 178.6,137.1 179.0,137.2 179.4,136.9 179.7,137.6 180.1,137.7 180.4,137.0 180.8,136.8 181.5,137.1 181.9,137.6 182.6,137.5 183.0,136.8 183.4,137.5 184.1,137.4 184.5,137.7 184.8,136.8 185.2,136.9 185.6,137.5 185.9,137.6 186.7,137.1 187.4,137.5 187.8,136.9 188.1,137.1 188.9,136.9 189.2,137.2 189.6,136.9 190.3,136.9 190.7,137.4 191.0,136.8 191.4,137.4 191.8,137.0 192.1,136.8 192.5,137.6 192.9,137.0 193.2,137.6 194.0,137.6 194.3,136.9 194.7,137.2 195.1,136.9 195.4,137.6 196.9,137.1 197.3,137.5 197.6,137.2 198.0,137.4 198.3,136.9 199.1,136.9 199.4,137.5 200.2,136.9 200.5,137.6 200.9,137.1 201.3,137.2 201.6,137.0 202.0,137.1 202.4,137.6 203.1,137.0 203.5,137.3 203.8,137.1 204.2,137.6 204.6,136.9 204.9,137.7 205.3,136.9 205.7,137.6 206.4,137.0 206.8,137.3 207.8,137.0 208.2,137.2 208.6,137.7 209.3,137.7 209.7,136.9 210.0,137.1 210.4,137.6 210.8,136.9 211.1,137.5 211.5,137.1 211.9,137.7 212.2,136.8 212.6,137.6 213.0,137.1 213.7,136.8 214.1,137.6 214.8,137.0 215.2,137.2" fill="none" stroke="#2fa55a" stroke-width="1.3" stroke-linejoin="round" stroke-linecap="round"/>
<rect x="44.90" y="21.00" width="170.50" height="125.00" fill="none" stroke="#454545" stroke-width="1.0"/>
<line x1="44.90" y1="146.00" x2="44.90" y2="148.50" stroke="#3a3a3a" stroke-width="0.9"/>
<line x1="69.26" y1="146.00" x2="69.26" y2="148.50" stroke="#3a3a3a" stroke-width="0.9"/>
<line x1="93.61" y1="146.00" x2="93.61" y2="148.50" stroke="#3a3a3a" stroke-width="0.9"/>
<line x1="117.97" y1="146.00" x2="117.97" y2="148.50" stroke="#3a3a3a" stroke-width="0.9"/>
<line x1="142.33" y1="146.00" x2="142.33" y2="148.50" stroke="#3a3a3a" stroke-width="0.9"/>
<line x1="166.69" y1="146.00" x2="166.69" y2="148.50" stroke="#3a3a3a" stroke-width="0.9"/>
<line x1="191.04" y1="146.00" x2="191.04" y2="148.50" stroke="#3a3a3a" stroke-width="0.9"/>
<line x1="215.40" y1="146.00" x2="215.40" y2="148.50" stroke="#3a3a3a" stroke-width="0.9"/>
<line x1="57.08" y1="146.00" x2="57.08" y2="147.60" stroke="#3a3a3a" stroke-width="0.9"/>
<line x1="81.44" y1="146.00" x2="81.44" y2="147.60" stroke="#3a3a3a" stroke-width="0.9"/>
<line x1="105.79" y1="146.00" x2="105.79" y2="147.60" stroke="#3a3a3a" stroke-width="0.9"/>
<line x1="130.15" y1="146.00" x2="130.15" y2="147.60" stroke="#3a3a3a" stroke-width="0.9"/>
<line x1="154.51" y1="146.00" x2="154.51" y2="147.60" stroke="#3a3a3a" stroke-width="0.9"/>
<line x1="178.86" y1="146.00" x2="178.86" y2="147.60" stroke="#3a3a3a" stroke-width="0.9"/>
<line x1="203.22" y1="146.00" x2="203.22" y2="147.60" stroke="#3a3a3a" stroke-width="0.9"/>
<text x="44.90" y="157.20" font-size="8" text-anchor="middle" font-weight="bold" fill="#1a1a1a">10</text>
<text x="69.26" y="157.20" font-size="8" text-anchor="middle" font-weight="bold" fill="#1a1a1a">20</text>
<text x="93.61" y="157.20" font-size="8" text-anchor="middle" font-weight="bold" fill="#1a1a1a">30</text>
<text x="117.97" y="157.20" font-size="8" text-anchor="middle" font-weight="bold" fill="#1a1a1a">40</text>
<text x="142.33" y="157.20" font-size="8" text-anchor="middle" font-weight="bold" fill="#1a1a1a">50</text>
<text x="166.69" y="157.20" font-size="8" text-anchor="middle" font-weight="bold" fill="#1a1a1a">60</text>
<text x="191.04" y="157.20" font-size="8" text-anchor="middle" font-weight="bold" fill="#1a1a1a">70</text>
<text x="215.40" y="157.20" font-size="8" text-anchor="middle" font-weight="bold" fill="#1a1a1a">80</text>
<text x="84.80" y="31.00" font-size="7.6" text-anchor="middle" font-weight="bold" fill="#1a1a1a" textLength="18.60" lengthAdjust="spacingAndGlyphs">(002)</text>
<text x="126.20" y="49.80" font-size="7.6" text-anchor="middle" font-weight="bold" fill="#1a1a1a" textLength="18.60" lengthAdjust="spacingAndGlyphs">(101)</text>
<text x="146.90" y="53.30" font-size="8.2" text-anchor="start" font-weight="bold" fill="#1a1a1a" textLength="45.00" lengthAdjust="spacingAndGlyphs">PG preform</text>
<text x="204.80" y="53.30" font-size="7.6" text-anchor="middle" font-weight="bold" fill="#1a1a1a" textLength="18.20" lengthAdjust="spacingAndGlyphs">(110)</text>
<text x="146.00" y="73.00" font-size="8.2" text-anchor="start" font-weight="bold" fill="#1a1a1a" textLength="47.70" lengthAdjust="spacingAndGlyphs">PG@PyC-60</text>
<text x="146.00" y="107.20" font-size="8.2" text-anchor="start" font-weight="bold" fill="#1a1a1a" textLength="47.70" lengthAdjust="spacingAndGlyphs">PG@PyC-90</text>
<text x="143.70" y="133.80" font-size="8.2" text-anchor="start" font-weight="bold" fill="#1a1a1a" textLength="52.30" lengthAdjust="spacingAndGlyphs">PG@PyC-120</text>
<text x="109.3" y="168.0" font-size="10.5" font-weight="bold" fill="#1a1a1a">2<tspan font-family="Liberation Serif" font-style="italic" font-weight="normal" font-size="11">θ</tspan> (deg.)</text>
<text x="231.50" y="20.50" font-size="12.5" text-anchor="start" font-weight="bold" fill="#1a1a1a">b</text>
<text x="254.68" y="82.50" font-size="10.5" text-anchor="middle" font-weight="bold" fill="#1a1a1a" textLength="101.00" lengthAdjust="spacingAndGlyphs" transform="rotate(-90 254.68 82.50)">Intensity (arb. units)</text>
<polyline points="263.1,87.3 263.4,86.9 263.6,87.1 263.9,86.9 264.4,87.2 265.1,86.8 265.7,87.1 266.4,86.9 267.2,87.2 268.0,86.8 268.2,87.1 268.5,86.9 268.7,87.1 269.0,86.7 269.2,87.1 269.5,86.9 270.0,87.1 270.5,86.7 270.8,87.1 271.0,86.9 271.3,87.1 271.8,86.7 272.0,87.1 272.6,86.7 273.1,86.9 273.3,86.6 273.6,86.9 274.1,86.9 274.3,86.6 274.6,86.9 275.1,87.0 275.4,86.7 275.6,86.9 275.9,86.7 276.1,86.9 276.4,86.5 276.6,86.9 276.9,87.0 277.1,86.7 277.9,86.7 278.2,86.4 278.4,86.9 278.7,86.5 279.2,86.4 279.7,86.8 280.0,86.3 280.5,86.6 281.0,86.3 281.2,86.5 282.0,86.5 282.3,86.2 282.5,86.6 283.0,86.1 283.5,86.3 284.8,85.9 285.3,86.2 285.6,85.8 286.1,85.9 286.3,85.6 286.6,85.9 286.9,85.8 287.1,85.5 287.6,85.5 288.1,85.0 288.4,85.2 289.2,84.3 289.9,83.8 290.9,81.8 292.2,77.6 293.0,76.6 293.5,77.2 294.8,81.3 295.3,82.3 296.3,83.6 296.6,83.4 296.8,83.8 297.1,83.8 297.3,84.1 297.6,84.0 298.1,84.5 298.6,84.3 299.4,84.8 299.6,84.5 300.1,84.7 300.4,84.4 300.9,84.9 301.4,84.5 301.9,84.7 302.2,84.5 303.2,84.6 304.0,84.4 304.5,84.8 305.2,84.6 305.5,84.4 305.8,84.6 306.5,84.3 308.3,83.3 308.6,82.8 309.1,82.5 309.8,80.4 310.4,78.4 310.9,74.5 311.6,61.6 312.4,36.0 312.7,32.2 312.9,36.1 313.7,61.3 314.4,73.4 315.0,76.9 317.3,83.1 317.8,84.1 318.0,84.0 318.3,84.6 318.5,84.4 318.8,85.0 319.3,85.2 319.6,85.6 320.1,85.5 320.6,85.9 321.1,85.8 321.9,86.2 322.1,86.0 322.6,86.2 323.1,86.2 323.6,86.5 324.4,86.3 325.4,86.5 325.7,86.3 325.9,86.8 326.2,86.5 326.5,86.8 327.0,86.8 327.2,86.5 327.7,86.9 328.0,86.4 329.0,86.9 329.5,86.8 329.8,87.0 330.0,86.8 330.5,86.9 331.0,86.7 331.3,86.9 331.6,86.7 331.8,87.1 332.6,86.7 334.1,87.1 334.6,86.9 335.1,87.2 335.4,86.8 335.9,87.1 336.2,86.8 336.7,87.2 337.4,86.8 337.7,87.2 338.7,87.2 339.2,86.8 339.7,87.0 340.5,86.8 340.8,87.1 341.3,86.9 341.5,87.3 342.0,86.8 342.5,87.2 342.8,86.9 343.1,87.1 343.3,86.8 343.8,87.2 344.6,86.9 345.9,87.1 346.1,87.3 346.9,86.9 347.4,87.2 347.7,86.9 347.9,86.9 348.7,87.2 349.2,87.2 349.4,86.9 349.7,86.8 350.0,87.2 350.2,87.0 350.5,87.2 351.5,86.9 351.7,87.3 353.0,86.9 353.3,87.3 353.5,87.1 353.8,87.3 354.0,87.1 354.3,87.2 354.8,86.9 355.1,87.3 355.6,87.0 355.8,87.3 356.1,87.3 356.3,87.0 356.9,87.3 357.1,87.1 357.4,87.3 357.6,87.0 358.1,87.2 358.4,87.0 358.6,87.0 358.9,87.3 359.1,87.1 359.4,87.2 359.9,86.9 360.4,86.9 360.7,87.3 360.9,87.0 361.2,87.1 361.4,86.9 361.7,87.1 362.5,86.9 362.7,86.9 363.0,87.3 363.2,87.0 364.5,86.9 364.8,87.2 365.3,86.9 365.5,87.2 365.8,86.9 366.3,87.2 366.6,86.9 367.3,87.2 367.6,86.9 368.1,87.2 368.3,87.0 368.6,87.3 368.9,86.9 369.1,87.3 369.6,86.9 369.9,87.0 370.1,86.9 370.4,87.1 370.6,86.9 370.9,87.2 371.7,86.9 371.9,87.1 372.2,86.9 372.4,87.2 372.7,86.8 372.9,87.0 373.5,86.9 373.7,87.1 374.0,86.9 374.2,87.1 375.2,86.7 375.8,87.1 376.0,86.8 376.3,87.0 376.5,86.7 376.8,86.9 377.8,86.6 378.6,86.6 378.8,86.9 379.1,86.6 379.3,86.7 379.6,86.9 380.4,86.8 380.6,86.4 381.1,86.3 381.4,86.6 381.9,86.3 382.7,86.3 382.9,86.0 383.2,86.2 384.2,85.4 384.4,85.7 384.9,85.3 385.2,84.8 386.7,84.4 387.2,84.8 387.5,84.6 387.8,85.1 388.3,85.2 388.5,85.1 389.0,85.6 389.5,85.4 389.8,85.9 390.6,85.7 390.8,86.2 391.3,85.8 391.8,85.9 392.1,86.3 392.4,86.0 392.6,86.4 393.1,86.0 393.4,86.3 393.6,86.1 394.1,86.3 394.7,85.9 394.9,86.3 395.2,86.1 395.4,86.3 396.2,86.1 397.0,85.6 397.2,85.9 397.5,85.7 398.0,85.8 398.2,85.3 398.5,85.5 398.7,85.1 399.0,85.3 399.3,85.3 399.5,84.9 400.0,84.9 401.0,83.7 401.6,83.4 402.8,81.5 404.1,77.9 404.9,74.3 406.2,66.4 406.7,64.0 406.9,63.8 407.2,63.9 407.4,64.4 410.0,78.2 411.3,81.6 412.0,82.7 412.3,83.5 412.8,83.6 413.3,84.5 413.8,84.5 414.1,84.8 414.6,85.0 414.8,85.3 415.1,85.1 415.3,85.7 415.9,85.7 416.1,86.0 416.6,85.8 417.4,85.8 417.6,86.3 417.9,86.3 418.4,86.1 419.2,86.6 419.4,86.3 419.7,86.6 420.2,86.6 420.7,86.4 421.0,86.8 421.2,86.5 422.0,86.6 422.2,86.9 422.8,86.5 423.0,86.8 424.3,87.0 425.1,86.7 425.6,86.9 425.8,86.7 426.1,87.0 426.3,86.7 426.8,87.2 427.1,86.7 427.4,86.7 427.6,86.9 427.9,86.8 428.1,87.1 428.4,86.7 428.6,87.2 428.9,87.2 429.7,86.9 429.9,87.1 430.7,87.0 431.7,87.3 432.0,86.9 432.7,87.1 433.2,86.9" fill="none" stroke="#a768e0" stroke-width="1.2" stroke-linejoin="round" stroke-linecap="round"/>
<polyline points="263.1,102.9 263.9,103.3 265.4,103.2 265.7,102.8 265.9,103.1 266.4,102.9 266.9,103.2 267.7,102.9 268.2,103.2 268.5,102.7 269.0,103.0 269.5,102.7 269.7,103.0 270.0,102.9 271.0,102.9 271.5,102.7 271.8,102.7 272.0,103.1 272.6,102.7 272.8,103.0 273.3,102.6 273.6,102.8 273.8,102.7 274.3,102.8 274.6,102.6 274.9,102.8 275.1,102.5 275.6,102.8 275.9,102.5 276.1,102.6 276.4,102.5 276.9,102.8 277.1,102.6 277.7,102.7 277.9,102.4 278.2,102.8 278.7,102.3 278.9,102.6 279.4,102.3 279.7,102.6 280.0,102.4 280.2,102.5 280.5,102.1 280.7,102.4 281.0,102.0 281.5,102.1 281.7,101.9 282.0,102.1 282.3,101.9 282.8,102.0 283.0,101.9 283.3,102.0 284.0,101.7 284.3,101.8 284.8,101.2 285.1,101.5 285.3,101.2 285.6,101.3 286.1,101.1 286.3,100.6 287.1,100.6 287.6,99.8 287.9,99.9 288.1,99.4 288.6,99.3 288.9,98.8 289.2,98.9 289.9,97.7 290.4,97.4 291.5,95.8 291.7,95.8 292.0,95.3 292.5,95.0 292.7,95.1 293.2,94.9 293.5,95.3 293.8,95.3 294.5,96.1 294.8,95.9 295.8,97.5 296.1,97.7 296.3,97.6 296.8,98.5 297.8,98.9 298.1,99.4 298.4,99.3 298.6,99.6 299.1,99.5 299.6,99.7 299.9,100.1 300.4,99.8 301.4,100.2 302.2,100.0 302.4,100.3 303.0,100.0 303.5,100.5 303.7,100.0 304.2,100.3 304.5,100.1 305.2,100.1 306.3,100.3 306.5,99.8 306.8,100.0 307.3,100.1 308.6,99.4 308.8,99.6 309.3,99.4 309.8,98.7 310.1,98.8 310.9,98.0 313.4,94.3 314.2,94.1 314.4,94.1 314.7,94.8 315.0,95.0 316.2,96.9 317.5,99.3 317.8,99.2 318.0,99.8 318.5,99.9 319.3,100.9 319.6,100.7 320.3,101.4 320.6,101.1 321.1,101.7 321.3,101.4 321.9,101.5 322.6,102.0 322.9,101.8 323.4,101.9 323.9,102.3 324.4,102.1 324.9,102.5 325.4,102.2 325.7,102.6 325.9,102.6 326.5,102.3 327.2,102.7 327.5,102.6 327.7,102.8 328.0,102.5 328.5,102.8 329.0,102.6 329.3,102.8 329.8,102.5 330.0,102.7 330.3,102.5 330.5,102.8 330.8,102.7 331.3,102.8 331.6,102.7 331.8,102.8 332.1,102.6 332.3,103.0 332.6,102.9 332.8,103.1 333.1,102.6 333.6,103.0 334.1,102.7 334.6,102.7 334.9,103.1 335.1,102.7 335.4,103.1 335.6,102.9 336.7,103.0 337.2,102.9 337.4,103.1 337.7,102.9 338.2,103.1 338.7,102.9 339.2,103.3 339.7,102.9 340.2,103.3 340.5,102.9 340.8,102.8 341.5,103.2 341.8,103.0 342.0,103.3 342.3,102.9 342.5,103.2 342.8,102.9 343.1,102.8 344.1,103.1 344.3,102.9 344.6,103.3 344.8,103.0 345.4,102.9 345.9,103.3 346.4,102.9 346.6,103.3 346.9,103.0 347.1,103.4 347.4,103.1 347.9,103.0 348.2,103.3 348.7,103.0 348.9,103.3 349.2,102.9 349.4,103.3 349.7,102.9 350.0,103.2 350.2,103.1 350.5,103.3 350.7,102.9 351.5,103.4 352.3,103.0 353.5,103.0 353.8,103.3 354.3,103.1 354.6,103.4 354.8,103.0 355.1,103.2 355.3,103.0 355.6,103.4 355.8,103.4 356.1,103.1 356.3,103.3 356.6,103.3 356.9,103.1 357.6,103.4 357.9,103.0 358.1,103.3 358.6,103.2 359.1,103.4 359.4,103.0 359.7,103.4 359.9,103.1 360.4,103.4 360.7,103.0 361.2,103.4 361.7,103.0 362.0,103.0 362.2,103.4 362.5,103.0 362.7,103.4 363.0,103.0 363.2,103.3 363.5,103.0 364.0,103.3 364.3,103.0 364.8,103.4 365.5,103.5 365.8,103.0 366.3,103.4 366.8,103.0 367.1,103.2 368.1,103.0 368.3,103.5 368.6,103.1 368.9,103.4 369.1,103.0 369.4,103.2 369.6,103.0 369.9,103.2 370.1,103.1 370.4,103.3 370.6,103.0 370.9,103.3 371.4,103.0 372.2,103.4 372.7,103.1 372.9,103.5 374.0,103.1 374.7,103.0 375.0,103.2 375.5,103.3 376.0,103.0 376.3,103.3 377.0,103.3 377.5,103.5 378.6,103.1 379.1,103.5 379.3,103.2 380.1,103.1 380.4,103.5 380.6,103.0 381.1,103.5 381.4,103.1 381.6,103.3 382.7,103.1 382.9,103.4 383.4,103.5 383.7,103.0 383.9,103.3 384.2,103.2 384.4,103.3 384.9,103.2 385.2,103.5 385.5,103.0 385.7,103.4 386.2,103.3 386.7,103.5 387.0,103.1 387.5,103.4 387.8,103.2 388.0,103.4 388.3,103.2 389.0,103.3 389.3,103.2 389.5,103.3 390.1,103.1 390.3,103.3 390.6,103.1 390.8,103.5 391.1,103.2 391.3,103.4 392.4,103.1 392.6,103.5 392.9,103.3 393.6,103.4 394.1,103.1 394.4,103.4 394.7,103.2 395.7,103.4 395.9,103.0 396.4,103.4 396.7,103.4 397.0,103.1 397.7,103.1 398.2,103.4 399.0,103.1 399.5,103.5 400.0,103.2 400.8,103.4 401.0,103.1 401.3,103.4 402.1,103.1 402.8,103.2 403.1,103.0 403.6,103.3 403.9,103.0 404.1,103.1 404.4,103.4 404.6,103.2 405.1,103.1 405.4,103.4 405.6,103.1 406.2,103.4 406.4,103.1 406.9,103.4 407.7,103.0 408.5,103.4 408.7,103.2 409.5,103.4 409.7,103.2 410.5,103.5 410.8,103.1 411.0,103.5 412.3,103.1 412.5,103.4 412.8,103.2 413.6,103.5 414.1,103.0 414.3,103.3 414.8,103.3 415.1,103.4 415.3,103.2 415.9,103.5 416.1,103.2 417.4,103.4 417.9,103.0 418.2,103.4 418.7,103.4 418.9,103.4 419.2,103.1 419.7,103.1 419.9,103.4 420.2,103.1 420.5,103.1 420.7,103.4 421.2,103.1 421.5,103.4 421.7,103.4 422.2,103.1 422.5,103.4 422.8,103.2 423.3,103.5 423.8,103.5 424.0,103.1 424.5,103.3 424.8,103.0 425.1,103.5 425.3,103.2 426.1,103.2 426.3,103.5 427.4,103.1 427.9,103.5 428.4,103.5 428.6,103.2 429.1,103.1 429.4,103.3 430.7,103.2 430.9,103.4 431.2,103.1 431.4,103.5 432.0,103.1 432.5,103.3 433.2,103.2" fill="none" stroke="#ee3535" stroke-width="1.2" stroke-linejoin="round" stroke-linecap="round"/>
<polyline points="263.1,119.3 263.4,119.6 263.6,119.3 264.1,119.6 264.6,119.4 264.9,119.6 265.1,119.4 265.4,119.6 265.7,119.2 266.2,119.5 266.4,119.2 266.7,119.6 266.9,119.2 267.2,119.4 267.4,119.2 267.7,119.6 268.0,119.4 269.0,119.4 269.5,119.2 269.7,119.5 270.0,119.1 270.3,119.5 270.5,119.2 271.0,119.1 271.5,119.5 271.8,119.2 272.0,119.3 272.3,119.1 272.6,119.4 273.3,119.0 273.6,119.3 273.8,119.0 274.1,119.3 274.3,119.1 275.4,119.1 275.6,118.9 275.9,119.3 276.1,119.0 276.4,119.2 276.6,118.9 277.1,119.2 277.7,118.7 278.2,119.0 278.4,118.8 278.7,118.9 278.9,118.6 279.4,118.9 279.7,118.7 280.0,118.8 280.2,118.5 280.5,118.8 280.7,118.5 281.0,118.8 281.5,118.8 282.0,118.3 282.5,118.5 282.8,118.3 283.0,118.5 283.3,118.0 283.8,118.2 284.6,117.6 285.1,117.6 285.3,117.8 285.8,117.2 286.1,117.5 286.3,116.9 286.9,117.1 287.1,116.6 287.4,116.7 287.9,115.9 288.6,115.3 288.9,115.3 289.2,114.8 289.4,114.8 289.9,113.8 290.9,112.9 291.7,111.6 292.0,111.6 292.2,111.2 292.5,111.4 292.7,111.0 294.3,111.7 294.5,112.3 294.8,112.3 295.3,113.1 296.1,113.6 296.3,114.2 296.6,114.1 297.1,114.8 297.3,114.8 298.1,115.5 299.6,115.9 300.1,116.4 300.4,116.3 300.7,116.5 300.9,116.1 301.2,116.6 301.4,116.4 301.7,116.6 302.2,116.6 302.4,116.4 302.7,116.6 303.0,116.4 303.5,116.3 304.0,116.5 304.2,116.4 304.5,116.7 304.7,116.3 305.0,116.5 305.2,116.3 305.8,116.5 306.3,116.1 307.0,116.4 307.3,115.9 307.5,116.1 308.1,116.1 308.3,115.8 308.6,115.9 308.8,115.6 309.1,115.7 309.3,115.1 309.6,115.4 310.4,114.4 310.9,114.2 311.1,113.8 312.7,111.3 312.9,111.3 313.7,110.3 313.9,110.2 315.2,111.3 316.0,113.0 316.2,113.1 316.5,113.9 317.0,114.4 317.3,115.2 317.8,115.7 318.0,115.7 318.3,116.3 318.8,116.7 320.8,117.9 321.1,117.7 321.3,118.1 321.6,118.0 321.9,118.3 322.1,117.9 322.4,118.4 322.9,118.2 323.1,118.5 323.4,118.3 323.6,118.3 324.2,118.4 324.7,118.8 325.4,118.7 325.7,118.9 326.5,119.1 327.2,118.7 327.7,119.1 328.0,118.9 328.8,119.2 329.0,118.8 329.3,119.1 329.5,118.8 329.8,118.9 330.0,119.3 330.3,119.1 331.3,119.0 331.8,119.4 332.6,119.0 333.1,119.3 333.3,119.2 333.9,119.4 334.1,119.1 334.4,119.4 334.6,119.1 334.9,119.5 335.1,119.2 335.6,119.6 336.2,119.2 336.4,119.5 336.7,119.4 336.9,119.6 337.2,119.3 337.7,119.6 337.9,119.4 338.2,119.6 338.5,119.2 338.7,119.6 339.0,119.2 339.2,119.4 339.5,119.2 340.0,119.6 340.2,119.4 340.5,119.6 340.8,119.3 341.3,119.2 341.8,119.6 342.3,119.4 342.5,119.7 343.1,119.5 343.3,119.3 344.1,119.7 344.3,119.4 344.6,119.6 345.1,119.4 345.9,119.7 346.4,119.4 346.6,119.7 346.9,119.3 347.1,119.7 347.9,119.5 348.4,119.7 348.9,119.6 349.2,119.3 349.7,119.3 350.0,119.8 350.2,119.7 350.5,119.4 351.0,119.6 351.2,119.3 351.7,119.7 352.3,119.4 352.5,119.7 352.8,119.4 353.3,119.5 353.5,119.8 354.6,119.5 354.8,119.8 355.8,119.4 356.3,119.7 357.1,119.4 357.6,119.8 357.9,119.4 358.1,119.7 358.4,119.4 358.9,119.4 359.7,119.8 359.9,119.8 360.2,119.4 360.7,119.8 360.9,119.4 361.4,119.6 361.7,119.4 362.5,119.5 362.7,119.8 363.0,119.5 363.2,119.5 363.5,119.8 363.7,119.6 364.0,119.8 364.5,119.7 365.0,119.4 365.3,119.7 365.5,119.6 366.3,119.7 366.6,119.5 367.1,119.8 367.6,119.5 367.8,119.7 368.1,119.5 368.3,119.8 368.6,119.4 368.9,119.8 369.4,119.5 369.6,119.8 369.9,119.5 370.4,119.4 370.9,119.7 371.4,119.6 371.7,119.8 371.9,119.4 372.7,119.9 373.7,119.6 374.0,119.8 374.5,119.6 375.0,119.8 375.5,119.5 375.8,119.8 376.3,119.6 376.8,119.8 377.0,119.5 377.5,119.4 378.3,119.8 379.6,119.5 379.8,119.8 380.4,119.8 380.6,119.5 381.1,119.8 381.4,119.6 381.6,119.8 382.9,119.8 383.2,119.5 383.4,119.7 383.7,119.7 384.4,119.4 384.9,119.8 385.2,119.5 386.0,119.4 386.5,119.9 387.0,119.6 387.2,119.7 387.5,119.4 387.8,119.8 388.3,119.4 388.5,119.7 388.8,119.5 389.3,119.4 390.1,119.8 390.3,119.4 390.6,119.8 390.8,119.5 391.3,119.7 391.6,119.6 392.1,119.7 392.4,119.5 392.6,119.8 392.9,119.5 393.1,119.8 393.9,119.4 394.1,119.8 394.4,119.4 394.7,119.7 395.2,119.4 395.7,119.8 396.2,119.6 396.7,119.7 397.0,119.5 397.5,119.9 398.0,119.9 398.2,119.6 398.5,119.9 398.7,119.4 399.0,119.7 399.3,119.5 400.0,119.8 400.8,119.5 401.6,119.5 401.8,119.8 402.6,119.5 402.8,119.8 403.1,119.5 404.1,119.9 405.4,119.8 405.6,119.4 406.2,119.4 406.4,119.8 407.7,119.5 408.2,119.9 408.7,119.4 409.5,119.9 410.5,119.5 410.8,119.5 411.0,119.8 411.3,119.7 411.5,119.9 412.3,119.7 412.5,119.8 412.8,119.5 413.3,119.7 414.3,119.4 414.6,119.9 415.3,119.9 415.6,119.6 415.9,119.8 416.1,119.6 416.6,119.8 416.9,119.5 417.1,119.4 417.6,119.7 418.2,119.4 418.4,119.8 419.2,119.4 419.4,119.9 419.9,119.5 420.7,119.9 421.7,119.5 422.0,119.9 422.5,119.5 422.8,119.7 423.0,119.5 424.3,119.8 424.8,119.5 425.1,119.8 425.3,119.5 426.3,119.8 426.6,119.5 427.1,119.8 427.6,119.5 427.9,119.9 428.4,119.5 428.9,119.9 429.1,119.5 429.9,119.8 430.4,119.8 430.7,119.4 430.9,119.5 431.2,119.9 431.7,119.4 432.2,119.5 432.5,119.9 432.7,119.5 433.2,119.9" fill="none" stroke="#1f66e0" stroke-width="1.2" stroke-linejoin="round" stroke-linecap="round"/>
<polyline points="263.1,135.0 263.4,135.2 263.6,134.8 264.1,134.7 264.4,135.1 264.6,134.7 264.9,135.2 265.4,134.8 265.7,135.1 265.9,134.8 266.2,134.9 266.4,134.7 266.7,135.1 267.2,135.1 267.4,134.6 267.7,135.1 268.5,134.9 269.2,135.0 269.5,134.6 270.0,134.9 270.8,134.6 271.0,134.9 271.3,134.6 271.5,135.0 272.3,134.6 272.6,134.8 272.8,134.6 273.1,134.7 273.3,134.5 273.6,135.0 274.3,134.5 274.9,134.8 275.1,134.8 275.4,134.4 276.1,134.7 276.4,134.4 276.9,134.8 277.4,134.3 277.9,134.3 278.2,134.5 279.2,134.3 280.0,134.5 281.2,134.2 281.5,133.8 281.7,134.1 282.0,134.2 282.3,133.9 282.5,134.1 282.8,133.7 283.0,134.0 283.3,133.7 283.5,133.8 283.8,133.5 284.8,133.1 285.3,133.4 285.6,133.1 286.6,132.8 287.9,131.5 288.4,131.6 288.6,131.4 288.9,130.8 289.7,130.3 290.4,129.0 290.7,129.0 291.5,127.9 292.0,127.7 292.2,127.1 293.0,127.0 293.2,127.3 293.5,127.1 294.3,127.9 294.5,127.7 295.3,128.9 295.5,128.8 296.3,130.0 296.6,129.9 297.6,131.0 298.6,131.2 298.9,131.6 299.1,131.5 299.4,131.6 299.6,132.0 300.9,132.1 301.4,131.9 302.2,132.1 302.7,132.0 303.2,132.4 303.7,132.1 304.0,132.3 304.5,132.0 305.8,132.2 306.0,131.8 306.3,132.2 306.5,131.9 306.8,132.1 307.0,131.6 307.3,132.0 307.5,131.6 307.8,131.9 308.1,131.8 308.8,131.1 309.3,131.3 309.6,130.8 309.8,130.8 310.4,130.4 311.1,129.3 311.4,129.5 312.9,126.7 313.2,126.8 313.4,126.2 313.7,126.5 313.9,126.1 314.2,126.3 314.4,126.2 314.7,126.8 315.0,126.8 317.0,130.5 317.3,130.5 319.0,132.6 319.3,132.3 319.8,133.0 320.3,132.9 321.3,133.6 321.6,133.4 322.1,133.7 323.4,133.8 324.2,134.3 324.7,134.0 325.2,134.4 325.4,134.3 325.9,134.6 326.2,134.5 326.5,134.2 326.7,134.6 327.5,134.3 327.7,134.7 328.2,134.3 328.8,134.8 329.0,134.6 329.3,134.7 329.5,134.4 329.8,134.6 330.3,134.5 330.5,134.7 331.0,134.5 331.3,134.9 332.1,134.5 332.3,134.8 332.8,134.5 333.3,134.9 333.9,134.7 334.6,134.9 334.9,134.6 335.4,135.1 335.9,135.0 336.2,134.8 336.4,135.1 336.7,134.7 337.4,135.1 337.7,134.7 338.2,134.7 338.5,134.9 339.0,134.8 339.2,135.0 339.5,135.0 339.7,135.1 340.0,134.9 340.2,135.0 340.5,134.7 340.8,135.2 341.0,134.8 341.8,135.2 342.0,135.0 342.3,135.2 342.8,134.8 343.1,135.1 343.3,134.8 343.6,135.2 344.1,134.9 344.3,135.2 344.6,134.9 345.4,135.1 345.6,134.8 345.9,134.9 346.1,134.8 346.4,135.2 346.6,134.8 346.9,135.1 347.1,134.9 347.9,135.1 348.2,134.8 348.7,134.8 348.9,135.3 349.2,134.9 350.2,135.2 350.5,134.8 352.8,135.3 353.0,134.9 353.3,135.3 353.8,134.8 354.0,135.3 354.3,134.9 354.6,134.8 355.1,135.0 355.3,135.3 355.8,135.0 356.6,135.2 357.4,134.9 357.9,135.2 358.9,135.3 359.1,134.9 359.4,134.9 359.7,135.3 360.2,134.9 360.4,135.2 360.9,135.0 361.7,135.2 362.0,134.9 362.2,135.2 362.7,135.1 363.2,135.3 363.5,134.9 364.0,135.2 364.5,135.2 364.8,135.0 365.0,135.3 365.5,135.0 366.0,135.3 366.3,135.0 366.8,135.3 367.1,135.3 367.3,135.0 367.6,135.2 367.8,135.0 368.3,135.3 368.6,134.9 369.6,134.9 370.4,135.1 370.6,134.9 371.2,135.3 371.7,135.1 371.9,135.2 372.4,135.0 372.7,135.1 372.9,134.9 373.2,135.2 373.5,135.0 374.0,135.4 375.0,135.2 375.5,135.4 375.8,135.0 376.0,135.3 376.5,135.0 376.8,135.3 377.5,135.3 378.3,134.9 378.8,135.3 379.6,134.9 380.1,135.2 380.4,134.9 380.9,135.0 381.4,135.4 381.6,134.9 382.4,135.4 382.7,135.0 383.2,135.2 384.4,134.9 385.2,134.9 385.7,135.2 386.0,135.0 386.2,135.3 387.2,135.0 387.5,135.4 388.0,134.9 388.5,135.3 388.8,135.1 389.0,135.3 389.3,135.0 389.5,135.3 389.8,135.3 390.1,135.0 390.3,135.2 390.6,135.0 391.1,135.3 391.8,135.0 392.1,135.2 392.6,135.0 393.1,135.2 393.4,135.0 393.6,135.2 394.1,135.0 394.9,135.3 395.2,134.9 395.4,135.3 395.7,135.0 397.0,135.4 397.2,135.0 397.7,135.2 398.2,135.0 398.7,135.3 399.5,135.4 400.0,135.1 400.5,135.3 400.8,134.9 401.0,135.2 401.6,134.9 401.8,135.2 402.1,135.0 402.3,135.4 403.3,135.0 403.6,135.2 404.1,135.1 404.9,135.3 405.1,135.0 405.4,135.0 405.9,135.2 406.2,135.0 406.4,135.3 406.7,135.0 407.7,135.3 407.9,135.1 408.7,135.4 409.2,135.0 409.7,135.2 410.2,134.9 410.5,135.4 410.8,135.4 411.0,135.0 411.5,135.2 412.0,135.0 412.3,135.3 412.5,135.3 413.0,135.0 413.3,135.1 413.6,135.0 413.8,135.4 414.1,134.9 414.6,135.3 414.8,135.0 415.3,135.0 416.1,135.3 416.4,135.0 416.6,135.0 416.9,135.3 417.6,135.0 418.2,135.4 418.4,135.0 419.2,135.4 419.7,135.2 419.9,135.4 420.5,135.1 421.2,135.3 421.5,135.0 421.7,135.0 422.0,135.4 422.2,135.0 422.5,135.3 422.8,135.1 423.3,135.1 423.8,135.4 424.0,135.0 424.3,135.4 424.8,135.0 425.1,135.3 425.6,135.0 426.3,135.4 426.8,134.9 427.1,135.3 427.9,135.4 428.1,135.1 428.4,135.4 428.9,135.1 430.2,135.0 430.7,135.4 430.9,135.1 431.4,135.4 431.7,135.3 432.0,135.1 432.2,135.4 433.2,135.3" fill="none" stroke="#2fa55a" stroke-width="1.2" stroke-linejoin="round" stroke-linecap="round"/>
<rect x="263.10" y="20.40" width="170.30" height="124.60" fill="none" stroke="#454545" stroke-width="1.0"/>
<line x1="263.10" y1="145.00" x2="263.10" y2="147.50" stroke="#3a3a3a" stroke-width="0.9"/>
<line x1="305.68" y1="145.00" x2="305.68" y2="147.50" stroke="#3a3a3a" stroke-width="0.9"/>
<line x1="348.25" y1="145.00" x2="348.25" y2="147.50" stroke="#3a3a3a" stroke-width="0.9"/>
<line x1="390.82" y1="145.00" x2="390.82" y2="147.50" stroke="#3a3a3a" stroke-width="0.9"/>
<line x1="433.40" y1="145.00" x2="433.40" y2="147.50" stroke="#3a3a3a" stroke-width="0.9"/>
<line x1="284.39" y1="145.00" x2="284.39" y2="146.60" stroke="#3a3a3a" stroke-width="0.9"/>
<line x1="326.96" y1="145.00" x2="326.96" y2="146.60" stroke="#3a3a3a" stroke-width="0.9"/>
<line x1="369.54" y1="145.00" x2="369.54" y2="146.60" stroke="#3a3a3a" stroke-width="0.9"/>
<line x1="412.11" y1="145.00" x2="412.11" y2="146.60" stroke="#3a3a3a" stroke-width="0.9"/>
<text x="263.10" y="156.20" font-size="8" text-anchor="middle" font-weight="bold" fill="#1a1a1a">1000</text>
<text x="305.68" y="156.20" font-size="8" text-anchor="middle" font-weight="bold" fill="#1a1a1a">1500</text>
<text x="348.25" y="156.20" font-size="8" text-anchor="middle" font-weight="bold" fill="#1a1a1a">2000</text>
<text x="390.82" y="156.20" font-size="8" text-anchor="middle" font-weight="bold" fill="#1a1a1a">2500</text>
<text x="433.40" y="156.20" font-size="8" text-anchor="middle" font-weight="bold" fill="#1a1a1a">3000</text>
<text x="292.40" y="71.40" font-size="8.2" text-anchor="middle" font-weight="bold" fill="#1a1a1a">D</text>
<text x="311.90" y="29.60" font-size="8.2" text-anchor="middle" font-weight="bold" fill="#1a1a1a">G</text>
<text x="406.70" y="58.80" font-size="8.2" text-anchor="middle" font-weight="bold" fill="#1a1a1a">2D</text>
<text x="334.90" y="84.60" font-size="8.2" text-anchor="start" font-weight="bold" fill="#1a1a1a" textLength="45.00" lengthAdjust="spacingAndGlyphs">PG preform</text>
<text x="333.70" y="100.90" font-size="8.2" text-anchor="start" font-weight="bold" fill="#1a1a1a" textLength="47.60" lengthAdjust="spacingAndGlyphs">PG@PyC-60</text>
<text x="333.70" y="116.70" font-size="8.2" text-anchor="start" font-weight="bold" fill="#1a1a1a" textLength="47.60" lengthAdjust="spacingAndGlyphs">PG@PyC-90</text>
<text x="331.90" y="131.90" font-size="8.2" text-anchor="start" font-weight="bold" fill="#1a1a1a" textLength="52.00" lengthAdjust="spacingAndGlyphs">PG@PyC-120</text>
<text x="302.3" y="168.7" font-size="10.5" font-weight="bold" fill="#1a1a1a" textLength="92.3" lengthAdjust="spacingAndGlyphs">Raman shift (cm<tspan font-size="7" dy="-4">-1</tspan><tspan dy="4">)</tspan></text>
<text x="455.80" y="20.50" font-size="12.5" text-anchor="start" font-weight="bold" fill="#1a1a1a">c</text>
<text x="480.28" y="83.50" font-size="10.5" text-anchor="middle" font-weight="bold" fill="#1a1a1a" textLength="99.80" lengthAdjust="spacingAndGlyphs" transform="rotate(-90 480.28 83.50)">Intensity (arb. units)</text>
<path d="M519.0,44.2 L519.0,43.9 L523.0,43.6 L525.6,43.0 L527.3,42.4 L529.6,41.1 L530.6,40.8 L531.5,41.0 L534.2,42.4 L535.8,43.0 L538.5,43.6 L542.4,43.9 L542.4,44.2 Z" fill="url(#cg0_0)" stroke="#e23a3a" stroke-width="0.8"/>
<path d="M541.1,44.2 L541.1,43.9 L543.7,43.6 L545.4,43.0 L546.3,42.3 L547.3,40.8 L548.3,36.6 L549.6,23.8 L550.0,24.7 L551.3,37.7 L552.3,41.1 L552.9,42.2 L553.9,42.9 L555.6,43.5 L558.2,43.9 L558.2,44.2 Z" fill="url(#cg0_1)" stroke="#1f5fe6" stroke-width="0.8"/>
<path d="M628.2,44.2 L628.2,43.9 L633.8,43.3 L635.2,42.9 L636.5,42.2 L638.1,40.5 L640.1,36.6 L640.7,35.8 L641.1,35.8 L641.4,36.1 L643.7,40.5 L645.3,42.2 L646.7,42.9 L648.0,43.3 L653.6,43.9 L653.6,44.2 Z" fill="url(#cg0_2)" stroke="#2a9a50" stroke-width="0.8"/>
<path d="M551.3,44.2 L551.3,43.8 L552.9,42.7 L554.6,43.8 L554.6,44.2 Z" fill="url(#cg0_3)" stroke="#a040e0" stroke-width="0.8"/>
<line x1="485.50" y1="45.70" x2="666.40" y2="45.70" stroke="#2f9a5a" stroke-width="1.0"/>
<use href="#sc" x="485.5" y="44.4"/><use href="#sc" x="486.0" y="44.0"/><use href="#sc" x="486.4" y="44.3"/><use href="#sc" x="486.9" y="44.1"/><use href="#sc" x="487.3" y="44.4"/><use href="#sc" x="487.8" y="43.9"/><use href="#sc" x="488.2" y="44.2"/><use href="#sc" x="488.7" y="44.1"/><use href="#sc" x="489.1" y="44.4"/><use href="#sc" x="489.6" y="44.1"/><use href="#sc" x="490.0" y="44.4"/><use href="#sc" x="490.5" y="44.4"/><use href="#sc" x="490.9" y="44.4"/><use href="#sc" x="491.4" y="43.9"/><use href="#sc" x="491.8" y="44.5"/><use href="#sc" x="492.3" y="44.3"/><use href="#sc" x="492.7" y="44.3"/><use href="#sc" x="493.2" y="44.3"/><use href="#sc" x="493.6" y="43.8"/><use href="#sc" x="494.1" y="44.4"/><use href="#sc" x="494.5" y="44.2"/><use href="#sc" x="495.0" y="44.1"/><use href="#sc" x="495.4" y="44.0"/><use href="#sc" x="495.9" y="44.3"/><use href="#sc" x="496.4" y="44.3"/><use href="#sc" x="496.8" y="44.4"/><use href="#sc" x="497.3" y="43.9"/><use href="#sc" x="497.7" y="44.0"/><use href="#sc" x="498.2" y="44.0"/><use href="#sc" x="498.6" y="43.9"/><use href="#sc" x="499.1" y="44.0"/><use href="#sc" x="499.5" y="43.8"/><use href="#sc" x="500.0" y="44.3"/><use href="#sc" x="500.4" y="43.9"/><use href="#sc" x="500.9" y="43.8"/><use href="#sc" x="501.3" y="43.8"/><use href="#sc" x="501.8" y="44.3"/><use href="#sc" x="502.2" y="43.9"/><use href="#sc" x="502.7" y="44.1"/><use href="#sc" x="503.1" y="44.1"/><use href="#sc" x="503.6" y="44.3"/><use href="#sc" x="504.0" y="44.4"/><use href="#sc" x="504.5" y="44.0"/><use href="#sc" x="504.9" y="44.2"/><use href="#sc" x="505.4" y="44.4"/><use href="#sc" x="505.9" y="44.1"/><use href="#sc" x="506.3" y="44.4"/><use href="#sc" x="506.8" y="44.3"/><use href="#sc" x="507.2" y="44.0"/><use href="#sc" x="507.7" y="44.4"/><use href="#sc" x="508.1" y="44.1"/><use href="#sc" x="508.6" y="43.8"/><use href="#sc" x="509.0" y="44.1"/><use href="#sc" x="509.5" y="44.3"/><use href="#sc" x="509.9" y="44.1"/><use href="#sc" x="510.4" y="44.1"/><use href="#sc" x="510.8" y="44.0"/><use href="#sc" x="511.3" y="44.3"/><use href="#sc" x="511.7" y="44.2"/><use href="#sc" x="512.2" y="43.8"/><use href="#sc" x="512.6" y="43.9"/><use href="#sc" x="513.1" y="43.9"/><use href="#sc" x="513.5" y="44.3"/><use href="#sc" x="514.0" y="44.2"/><use href="#sc" x="514.4" y="43.7"/><use href="#sc" x="514.9" y="44.3"/><use href="#sc" x="515.3" y="43.7"/><use href="#sc" x="515.8" y="44.0"/><use href="#sc" x="516.3" y="43.9"/><use href="#sc" x="516.7" y="44.1"/><use href="#sc" x="517.2" y="43.9"/><use href="#sc" x="517.6" y="43.6"/><use href="#sc" x="518.1" y="43.9"/><use href="#sc" x="518.5" y="44.1"/><use href="#sc" x="519.0" y="44.1"/><use href="#sc" x="519.4" y="43.7"/><use href="#sc" x="519.9" y="43.6"/><use href="#sc" x="520.3" y="44.0"/><use href="#sc" x="520.8" y="44.0"/><use href="#sc" x="521.2" y="43.5"/><use href="#sc" x="521.7" y="43.9"/><use href="#sc" x="522.1" y="44.0"/><use href="#sc" x="522.6" y="43.5"/><use href="#sc" x="523.0" y="43.4"/><use href="#sc" x="523.5" y="43.6"/><use href="#sc" x="523.9" y="43.7"/><use href="#sc" x="524.4" y="43.1"/><use href="#sc" x="524.8" y="43.1"/><use href="#sc" x="525.3" y="43.0"/><use href="#sc" x="525.8" y="43.1"/><use href="#sc" x="526.2" y="42.6"/><use href="#sc" x="526.7" y="42.6"/><use href="#sc" x="527.1" y="42.4"/><use href="#sc" x="527.6" y="42.3"/><use href="#sc" x="528.0" y="41.7"/><use href="#sc" x="528.5" y="42.0"/><use href="#sc" x="528.9" y="41.7"/><use href="#sc" x="529.4" y="41.2"/><use href="#sc" x="529.8" y="41.1"/><use href="#sc" x="530.3" y="40.6"/><use href="#sc" x="530.7" y="41.0"/><use href="#sc" x="531.2" y="40.8"/><use href="#sc" x="531.6" y="41.1"/><use href="#sc" x="532.1" y="41.4"/><use href="#sc" x="532.5" y="41.3"/><use href="#sc" x="533.0" y="41.9"/><use href="#sc" x="533.4" y="41.7"/><use href="#sc" x="533.9" y="41.8"/><use href="#sc" x="534.3" y="42.4"/><use href="#sc" x="534.8" y="42.8"/><use href="#sc" x="535.2" y="43.0"/><use href="#sc" x="535.7" y="43.2"/><use href="#sc" x="536.2" y="43.0"/><use href="#sc" x="536.6" y="43.4"/><use href="#sc" x="537.1" y="43.2"/><use href="#sc" x="537.5" y="43.0"/><use href="#sc" x="538.0" y="43.4"/><use href="#sc" x="538.4" y="43.6"/><use href="#sc" x="538.9" y="43.4"/><use href="#sc" x="539.3" y="43.5"/><use href="#sc" x="539.8" y="43.3"/><use href="#sc" x="540.2" y="43.3"/><use href="#sc" x="540.7" y="43.4"/><use href="#sc" x="541.1" y="43.5"/><use href="#sc" x="541.6" y="43.5"/><use href="#sc" x="542.0" y="43.2"/><use href="#sc" x="542.5" y="43.1"/><use href="#sc" x="542.9" y="43.3"/><use href="#sc" x="543.4" y="43.5"/><use href="#sc" x="543.8" y="43.4"/><use href="#sc" x="544.3" y="43.0"/><use href="#sc" x="544.7" y="42.9"/><use href="#sc" x="545.2" y="42.9"/><use href="#sc" x="545.6" y="42.4"/><use href="#sc" x="546.1" y="42.4"/><use href="#sc" x="546.6" y="42.2"/><use href="#sc" x="547.0" y="41.0"/><use href="#sc" x="547.5" y="40.3"/><use href="#sc" x="547.9" y="38.8"/><use href="#sc" x="548.4" y="36.3"/><use href="#sc" x="548.8" y="32.2"/><use href="#sc" x="549.3" y="26.7"/><use href="#sc" x="549.7" y="23.3"/><use href="#sc" x="550.2" y="26.8"/><use href="#sc" x="550.6" y="32.2"/><use href="#sc" x="551.1" y="35.6"/><use href="#sc" x="551.5" y="38.6"/><use href="#sc" x="552.0" y="39.5"/><use href="#sc" x="552.4" y="39.9"/><use href="#sc" x="552.9" y="40.2"/><use href="#sc" x="553.3" y="41.4"/><use href="#sc" x="553.8" y="42.1"/><use href="#sc" x="554.2" y="42.2"/><use href="#sc" x="554.7" y="42.8"/><use href="#sc" x="555.1" y="43.2"/><use href="#sc" x="555.6" y="43.6"/><use href="#sc" x="556.1" y="43.3"/><use href="#sc" x="556.5" y="43.7"/><use href="#sc" x="557.0" y="43.4"/><use href="#sc" x="557.4" y="43.5"/><use href="#sc" x="557.9" y="43.5"/><use href="#sc" x="558.3" y="43.7"/><use href="#sc" x="558.8" y="43.9"/><use href="#sc" x="559.2" y="43.7"/><use href="#sc" x="559.7" y="43.6"/><use href="#sc" x="560.1" y="43.7"/><use href="#sc" x="560.6" y="43.6"/><use href="#sc" x="561.0" y="43.7"/><use href="#sc" x="561.5" y="43.8"/><use href="#sc" x="561.9" y="44.0"/><use href="#sc" x="562.4" y="43.8"/><use href="#sc" x="562.8" y="44.0"/><use href="#sc" x="563.3" y="44.0"/><use href="#sc" x="563.7" y="44.3"/><use href="#sc" x="564.2" y="44.0"/><use href="#sc" x="564.6" y="44.3"/><use href="#sc" x="565.1" y="44.0"/><use href="#sc" x="565.5" y="43.8"/><use href="#sc" x="566.0" y="44.1"/><use href="#sc" x="566.5" y="43.8"/><use href="#sc" x="566.9" y="43.8"/><use href="#sc" x="567.4" y="43.8"/><use href="#sc" x="567.8" y="44.2"/><use href="#sc" x="568.3" y="44.4"/><use href="#sc" x="568.7" y="44.0"/><use href="#sc" x="569.2" y="44.0"/><use href="#sc" x="569.6" y="44.0"/><use href="#sc" x="570.1" y="44.0"/><use href="#sc" x="570.5" y="44.2"/><use href="#sc" x="571.0" y="44.0"/><use href="#sc" x="571.4" y="43.9"/><use href="#sc" x="571.9" y="44.4"/><use href="#sc" x="572.3" y="44.2"/><use href="#sc" x="572.8" y="43.8"/><use href="#sc" x="573.2" y="44.4"/><use href="#sc" x="573.7" y="44.3"/><use href="#sc" x="574.1" y="44.0"/><use href="#sc" x="574.6" y="44.2"/><use href="#sc" x="575.0" y="44.4"/><use href="#sc" x="575.5" y="44.1"/><use href="#sc" x="576.0" y="44.1"/><use href="#sc" x="576.4" y="44.0"/><use href="#sc" x="576.9" y="44.2"/><use href="#sc" x="577.3" y="44.2"/><use href="#sc" x="577.8" y="44.3"/><use href="#sc" x="578.2" y="44.4"/><use href="#sc" x="578.7" y="43.9"/><use href="#sc" x="579.1" y="44.0"/><use href="#sc" x="579.6" y="44.4"/><use href="#sc" x="580.0" y="44.3"/><use href="#sc" x="580.5" y="44.2"/><use href="#sc" x="580.9" y="44.3"/><use href="#sc" x="581.4" y="44.0"/><use href="#sc" x="581.8" y="44.5"/><use href="#sc" x="582.3" y="44.2"/><use href="#sc" x="582.7" y="44.1"/><use href="#sc" x="583.2" y="43.9"/><use href="#sc" x="583.6" y="43.9"/><use href="#sc" x="584.1" y="44.4"/><use href="#sc" x="584.5" y="44.4"/><use href="#sc" x="585.0" y="43.8"/><use href="#sc" x="585.4" y="44.0"/><use href="#sc" x="585.9" y="44.1"/><use href="#sc" x="586.4" y="44.1"/><use href="#sc" x="586.8" y="44.1"/><use href="#sc" x="587.3" y="44.4"/><use href="#sc" x="587.7" y="44.0"/><use href="#sc" x="588.2" y="44.2"/><use href="#sc" x="588.6" y="44.5"/><use href="#sc" x="589.1" y="44.2"/><use href="#sc" x="589.5" y="44.1"/><use href="#sc" x="590.0" y="44.0"/><use href="#sc" x="590.4" y="44.1"/><use href="#sc" x="590.9" y="44.2"/><use href="#sc" x="591.3" y="44.4"/><use href="#sc" x="591.8" y="44.0"/><use href="#sc" x="592.2" y="44.1"/><use href="#sc" x="592.7" y="44.1"/><use href="#sc" x="593.1" y="44.1"/><use href="#sc" x="593.6" y="44.4"/><use href="#sc" x="594.0" y="44.2"/><use href="#sc" x="594.5" y="44.0"/><use href="#sc" x="594.9" y="44.0"/><use href="#sc" x="595.4" y="44.4"/><use href="#sc" x="595.8" y="43.9"/><use href="#sc" x="596.3" y="44.3"/><use href="#sc" x="596.8" y="43.8"/><use href="#sc" x="597.2" y="43.9"/><use href="#sc" x="597.7" y="43.8"/><use href="#sc" x="598.1" y="44.4"/><use href="#sc" x="598.6" y="43.9"/><use href="#sc" x="599.0" y="44.0"/><use href="#sc" x="599.5" y="43.8"/><use href="#sc" x="599.9" y="44.0"/><use href="#sc" x="600.4" y="44.3"/><use href="#sc" x="600.8" y="44.3"/><use href="#sc" x="601.3" y="44.4"/><use href="#sc" x="601.7" y="44.5"/><use href="#sc" x="602.2" y="44.2"/><use href="#sc" x="602.6" y="44.4"/><use href="#sc" x="603.1" y="43.9"/><use href="#sc" x="603.5" y="44.4"/><use href="#sc" x="604.0" y="44.1"/><use href="#sc" x="604.4" y="43.9"/><use href="#sc" x="604.9" y="44.3"/><use href="#sc" x="605.3" y="44.4"/><use href="#sc" x="605.8" y="44.1"/><use href="#sc" x="606.3" y="43.9"/><use href="#sc" x="606.7" y="44.4"/><use href="#sc" x="607.2" y="44.3"/><use href="#sc" x="607.6" y="44.2"/><use href="#sc" x="608.1" y="44.5"/><use href="#sc" x="608.5" y="43.8"/><use href="#sc" x="609.0" y="43.8"/><use href="#sc" x="609.4" y="43.9"/><use href="#sc" x="609.9" y="43.8"/><use href="#sc" x="610.3" y="44.3"/><use href="#sc" x="610.8" y="44.2"/><use href="#sc" x="611.2" y="43.9"/><use href="#sc" x="611.7" y="43.9"/><use href="#sc" x="612.1" y="43.9"/><use href="#sc" x="612.6" y="44.2"/><use href="#sc" x="613.0" y="44.2"/><use href="#sc" x="613.5" y="44.4"/><use href="#sc" x="613.9" y="44.0"/><use href="#sc" x="614.4" y="44.5"/><use href="#sc" x="614.8" y="44.1"/><use href="#sc" x="615.3" y="44.0"/><use href="#sc" x="615.7" y="43.9"/><use href="#sc" x="616.2" y="43.9"/><use href="#sc" x="616.7" y="44.4"/><use href="#sc" x="617.1" y="44.4"/><use href="#sc" x="617.6" y="44.2"/><use href="#sc" x="618.0" y="43.9"/><use href="#sc" x="618.5" y="43.9"/><use href="#sc" x="618.9" y="43.8"/><use href="#sc" x="619.4" y="44.0"/><use href="#sc" x="619.8" y="44.2"/><use href="#sc" x="620.3" y="43.8"/><use href="#sc" x="620.7" y="44.1"/><use href="#sc" x="621.2" y="44.2"/><use href="#sc" x="621.6" y="43.7"/><use href="#sc" x="622.1" y="44.0"/><use href="#sc" x="622.5" y="44.2"/><use href="#sc" x="623.0" y="44.1"/><use href="#sc" x="623.4" y="44.0"/><use href="#sc" x="623.9" y="44.3"/><use href="#sc" x="624.3" y="44.1"/><use href="#sc" x="624.8" y="43.9"/><use href="#sc" x="625.2" y="43.9"/><use href="#sc" x="625.7" y="44.3"/><use href="#sc" x="626.1" y="44.2"/><use href="#sc" x="626.6" y="44.2"/><use href="#sc" x="627.1" y="44.0"/><use href="#sc" x="627.5" y="43.7"/><use href="#sc" x="628.0" y="43.7"/><use href="#sc" x="628.4" y="43.8"/><use href="#sc" x="628.9" y="44.0"/><use href="#sc" x="629.3" y="43.5"/><use href="#sc" x="629.8" y="44.0"/><use href="#sc" x="630.2" y="44.0"/><use href="#sc" x="630.7" y="43.7"/><use href="#sc" x="631.1" y="43.3"/><use href="#sc" x="631.6" y="43.9"/><use href="#sc" x="632.0" y="43.5"/><use href="#sc" x="632.5" y="43.6"/><use href="#sc" x="632.9" y="43.5"/><use href="#sc" x="633.4" y="43.5"/><use href="#sc" x="633.8" y="43.2"/><use href="#sc" x="634.3" y="43.5"/><use href="#sc" x="634.7" y="43.4"/><use href="#sc" x="635.2" y="43.2"/><use href="#sc" x="635.6" y="42.8"/><use href="#sc" x="636.1" y="42.3"/><use href="#sc" x="636.6" y="42.1"/><use href="#sc" x="637.0" y="41.6"/><use href="#sc" x="637.5" y="41.6"/><use href="#sc" x="637.9" y="41.0"/><use href="#sc" x="638.4" y="40.3"/><use href="#sc" x="638.8" y="39.5"/><use href="#sc" x="639.3" y="38.7"/><use href="#sc" x="639.7" y="37.5"/><use href="#sc" x="640.2" y="36.4"/><use href="#sc" x="640.6" y="36.1"/><use href="#sc" x="641.1" y="35.7"/><use href="#sc" x="641.5" y="36.4"/><use href="#sc" x="642.0" y="36.9"/><use href="#sc" x="642.4" y="38.4"/><use href="#sc" x="642.9" y="39.1"/><use href="#sc" x="643.3" y="39.8"/><use href="#sc" x="643.8" y="40.9"/><use href="#sc" x="644.2" y="40.9"/><use href="#sc" x="644.7" y="42.0"/><use href="#sc" x="645.1" y="42.2"/><use href="#sc" x="645.6" y="42.1"/><use href="#sc" x="646.0" y="42.8"/><use href="#sc" x="646.5" y="42.9"/><use href="#sc" x="647.0" y="43.3"/><use href="#sc" x="647.4" y="43.2"/><use href="#sc" x="647.9" y="43.2"/><use href="#sc" x="648.3" y="43.7"/><use href="#sc" x="648.8" y="43.2"/><use href="#sc" x="649.2" y="43.7"/><use href="#sc" x="649.7" y="43.3"/><use href="#sc" x="650.1" y="43.5"/><use href="#sc" x="650.6" y="43.4"/><use href="#sc" x="651.0" y="44.0"/><use href="#sc" x="651.5" y="43.7"/><use href="#sc" x="651.9" y="44.0"/><use href="#sc" x="652.4" y="43.7"/><use href="#sc" x="652.8" y="44.0"/><use href="#sc" x="653.3" y="44.0"/><use href="#sc" x="653.7" y="43.6"/><use href="#sc" x="654.2" y="43.9"/><use href="#sc" x="654.6" y="44.1"/><use href="#sc" x="655.1" y="43.7"/><use href="#sc" x="655.5" y="44.1"/><use href="#sc" x="656.0" y="43.8"/><use href="#sc" x="656.5" y="43.9"/><use href="#sc" x="656.9" y="44.3"/><use href="#sc" x="657.4" y="44.3"/><use href="#sc" x="657.8" y="44.4"/><use href="#sc" x="658.3" y="44.0"/><use href="#sc" x="658.7" y="44.1"/><use href="#sc" x="659.2" y="44.3"/><use href="#sc" x="659.6" y="44.2"/><use href="#sc" x="660.1" y="44.0"/><use href="#sc" x="660.5" y="44.3"/><use href="#sc" x="661.0" y="44.0"/><use href="#sc" x="661.4" y="44.4"/><use href="#sc" x="661.9" y="44.1"/><use href="#sc" x="662.3" y="43.8"/><use href="#sc" x="662.8" y="44.3"/><use href="#sc" x="663.2" y="43.8"/><use href="#sc" x="663.7" y="44.2"/><use href="#sc" x="664.1" y="43.8"/><use href="#sc" x="664.6" y="44.4"/><use href="#sc" x="665.0" y="44.1"/><use href="#sc" x="665.5" y="44.3"/><use href="#sc" x="665.9" y="43.9"/><use href="#sc" x="666.4" y="44.2"/>
<rect x="485.50" y="19.80" width="180.90" height="28.80" fill="none" stroke="#3c3c3c" stroke-width="1.0"/>
<line x1="501.95" y1="48.60" x2="501.95" y2="50.80" stroke="#3a3a3a" stroke-width="0.9"/>
<line x1="543.06" y1="48.60" x2="543.06" y2="50.80" stroke="#3a3a3a" stroke-width="0.9"/>
<line x1="584.17" y1="48.60" x2="584.17" y2="50.80" stroke="#3a3a3a" stroke-width="0.9"/>
<line x1="625.29" y1="48.60" x2="625.29" y2="50.80" stroke="#3a3a3a" stroke-width="0.9"/>
<line x1="666.40" y1="48.60" x2="666.40" y2="50.80" stroke="#3a3a3a" stroke-width="0.9"/>
<line x1="522.50" y1="48.60" x2="522.50" y2="50.00" stroke="#3a3a3a" stroke-width="0.9"/>
<line x1="563.62" y1="48.60" x2="563.62" y2="50.00" stroke="#3a3a3a" stroke-width="0.9"/>
<line x1="604.73" y1="48.60" x2="604.73" y2="50.00" stroke="#3a3a3a" stroke-width="0.9"/>
<line x1="645.84" y1="48.60" x2="645.84" y2="50.00" stroke="#3a3a3a" stroke-width="0.9"/>
<text x="578.80" y="27.80" font-size="8.2" text-anchor="start" font-weight="bold" fill="#1a1a1a" textLength="44.90" lengthAdjust="spacingAndGlyphs">PG preform</text>
<path d="M489.8,77.0 L489.8,76.7 L502.3,76.4 L510.5,75.8 L515.4,75.0 L519.0,73.9 L521.7,72.4 L524.0,70.1 L526.0,67.1 L529.2,60.7 L529.9,59.9 L530.6,59.5 L531.2,59.6 L532.2,60.7 L535.5,67.1 L537.5,70.1 L539.8,72.4 L542.4,73.9 L546.0,75.0 L551.0,75.8 L559.2,76.4 L571.7,76.7 L571.7,77.0 Z" fill="url(#cg1_0)" stroke="#e23a3a" stroke-width="0.8"/>
<path d="M532.5,77.0 L532.5,76.7 L537.8,76.4 L541.4,75.9 L543.7,75.3 L545.4,74.3 L546.7,73.0 L547.7,71.5 L548.7,69.1 L550.3,64.1 L551.0,63.0 L551.3,63.0 L551.9,64.1 L553.6,69.1 L554.6,71.5 L555.6,73.0 L556.9,74.3 L558.5,75.3 L560.8,75.9 L564.4,76.4 L569.7,76.7 L569.7,77.0 Z" fill="url(#cg1_1)" stroke="#1f5fe6" stroke-width="0.8"/>
<path d="M524.0,77.0 L524.0,76.7 L530.9,76.3 L535.2,75.6 L537.8,74.8 L541.7,72.7 L543.1,72.4 L544.4,72.7 L548.3,74.8 L551.0,75.6 L555.2,76.3 L562.1,76.7 L562.1,77.0 Z" fill="url(#cg1_2)" stroke="#2a9a50" stroke-width="0.8"/>
<path d="M550.0,77.0 L550.0,76.7 L551.3,76.1 L552.9,74.4 L554.6,76.1 L555.9,76.7 L555.9,77.0 Z" fill="url(#cg1_3)" stroke="#a040e0" stroke-width="0.8"/>
<line x1="485.50" y1="78.50" x2="666.40" y2="78.50" stroke="#9a5ad8" stroke-width="1.0"/>
<use href="#sc" x="485.5" y="76.5"/><use href="#sc" x="486.0" y="76.4"/><use href="#sc" x="486.4" y="76.8"/><use href="#sc" x="486.9" y="76.3"/><use href="#sc" x="487.3" y="76.6"/><use href="#sc" x="487.8" y="76.3"/><use href="#sc" x="488.2" y="76.8"/><use href="#sc" x="488.7" y="76.8"/><use href="#sc" x="489.1" y="76.2"/><use href="#sc" x="489.6" y="76.5"/><use href="#sc" x="490.0" y="76.5"/><use href="#sc" x="490.5" y="76.7"/><use href="#sc" x="490.9" y="76.7"/><use href="#sc" x="491.4" y="76.4"/><use href="#sc" x="491.8" y="76.8"/><use href="#sc" x="492.3" y="76.3"/><use href="#sc" x="492.7" y="76.2"/><use href="#sc" x="493.2" y="76.7"/><use href="#sc" x="493.6" y="76.2"/><use href="#sc" x="494.1" y="76.2"/><use href="#sc" x="494.5" y="76.4"/><use href="#sc" x="495.0" y="76.3"/><use href="#sc" x="495.4" y="76.2"/><use href="#sc" x="495.9" y="76.7"/><use href="#sc" x="496.4" y="76.3"/><use href="#sc" x="496.8" y="76.5"/><use href="#sc" x="497.3" y="76.1"/><use href="#sc" x="497.7" y="76.6"/><use href="#sc" x="498.2" y="76.1"/><use href="#sc" x="498.6" y="76.5"/><use href="#sc" x="499.1" y="76.3"/><use href="#sc" x="499.5" y="76.5"/><use href="#sc" x="500.0" y="76.4"/><use href="#sc" x="500.4" y="76.3"/><use href="#sc" x="500.9" y="76.2"/><use href="#sc" x="501.3" y="76.4"/><use href="#sc" x="501.8" y="76.0"/><use href="#sc" x="502.2" y="75.8"/><use href="#sc" x="502.7" y="76.3"/><use href="#sc" x="503.1" y="76.2"/><use href="#sc" x="503.6" y="76.1"/><use href="#sc" x="504.0" y="76.1"/><use href="#sc" x="504.5" y="75.7"/><use href="#sc" x="504.9" y="75.8"/><use href="#sc" x="505.4" y="76.0"/><use href="#sc" x="505.9" y="76.1"/><use href="#sc" x="506.3" y="76.0"/><use href="#sc" x="506.8" y="75.4"/><use href="#sc" x="507.2" y="75.7"/><use href="#sc" x="507.7" y="75.6"/><use href="#sc" x="508.1" y="75.4"/><use href="#sc" x="508.6" y="75.2"/><use href="#sc" x="509.0" y="75.1"/><use href="#sc" x="509.5" y="75.2"/><use href="#sc" x="509.9" y="75.1"/><use href="#sc" x="510.4" y="74.9"/><use href="#sc" x="510.8" y="74.9"/><use href="#sc" x="511.3" y="74.9"/><use href="#sc" x="511.7" y="74.9"/><use href="#sc" x="512.2" y="74.7"/><use href="#sc" x="512.6" y="74.3"/><use href="#sc" x="513.1" y="74.6"/><use href="#sc" x="513.5" y="74.1"/><use href="#sc" x="514.0" y="74.4"/><use href="#sc" x="514.4" y="74.3"/><use href="#sc" x="514.9" y="73.5"/><use href="#sc" x="515.3" y="73.6"/><use href="#sc" x="515.8" y="73.7"/><use href="#sc" x="516.3" y="73.2"/><use href="#sc" x="516.7" y="73.1"/><use href="#sc" x="517.2" y="72.7"/><use href="#sc" x="517.6" y="72.4"/><use href="#sc" x="518.1" y="72.3"/><use href="#sc" x="518.5" y="72.1"/><use href="#sc" x="519.0" y="72.0"/><use href="#sc" x="519.4" y="72.0"/><use href="#sc" x="519.9" y="71.8"/><use href="#sc" x="520.3" y="71.9"/><use href="#sc" x="520.8" y="71.4"/><use href="#sc" x="521.2" y="71.0"/><use href="#sc" x="521.7" y="71.1"/><use href="#sc" x="522.1" y="70.6"/><use href="#sc" x="522.6" y="70.2"/><use href="#sc" x="523.0" y="70.0"/><use href="#sc" x="523.5" y="69.4"/><use href="#sc" x="523.9" y="68.7"/><use href="#sc" x="524.4" y="68.4"/><use href="#sc" x="524.8" y="67.5"/><use href="#sc" x="525.3" y="67.3"/><use href="#sc" x="525.8" y="66.1"/><use href="#sc" x="526.2" y="65.8"/><use href="#sc" x="526.7" y="64.3"/><use href="#sc" x="527.1" y="63.4"/><use href="#sc" x="527.6" y="62.8"/><use href="#sc" x="528.0" y="61.6"/><use href="#sc" x="528.5" y="60.9"/><use href="#sc" x="528.9" y="59.8"/><use href="#sc" x="529.4" y="59.6"/><use href="#sc" x="529.8" y="58.9"/><use href="#sc" x="530.3" y="58.5"/><use href="#sc" x="530.7" y="58.5"/><use href="#sc" x="531.2" y="58.7"/><use href="#sc" x="531.6" y="58.7"/><use href="#sc" x="532.1" y="59.3"/><use href="#sc" x="532.5" y="59.4"/><use href="#sc" x="533.0" y="60.2"/><use href="#sc" x="533.4" y="61.3"/><use href="#sc" x="533.9" y="62.6"/><use href="#sc" x="534.3" y="63.0"/><use href="#sc" x="534.8" y="64.0"/><use href="#sc" x="535.2" y="64.3"/><use href="#sc" x="535.7" y="65.3"/><use href="#sc" x="536.2" y="66.2"/><use href="#sc" x="536.6" y="66.6"/><use href="#sc" x="537.1" y="67.2"/><use href="#sc" x="537.5" y="67.0"/><use href="#sc" x="538.0" y="67.4"/><use href="#sc" x="538.4" y="67.6"/><use href="#sc" x="538.9" y="68.3"/><use href="#sc" x="539.3" y="67.8"/><use href="#sc" x="539.8" y="68.5"/><use href="#sc" x="540.2" y="68.0"/><use href="#sc" x="540.7" y="68.4"/><use href="#sc" x="541.1" y="68.1"/><use href="#sc" x="541.6" y="67.9"/><use href="#sc" x="542.0" y="68.3"/><use href="#sc" x="542.5" y="67.9"/><use href="#sc" x="542.9" y="68.1"/><use href="#sc" x="543.4" y="67.6"/><use href="#sc" x="543.8" y="68.2"/><use href="#sc" x="544.3" y="68.4"/><use href="#sc" x="544.7" y="67.9"/><use href="#sc" x="545.2" y="68.4"/><use href="#sc" x="545.6" y="68.1"/><use href="#sc" x="546.1" y="68.0"/><use href="#sc" x="546.6" y="68.0"/><use href="#sc" x="547.0" y="67.9"/><use href="#sc" x="547.5" y="67.7"/><use href="#sc" x="547.9" y="67.1"/><use href="#sc" x="548.4" y="66.3"/><use href="#sc" x="548.8" y="65.0"/><use href="#sc" x="549.3" y="63.8"/><use href="#sc" x="549.7" y="62.2"/><use href="#sc" x="550.2" y="61.3"/><use href="#sc" x="550.6" y="60.2"/><use href="#sc" x="551.1" y="59.6"/><use href="#sc" x="551.5" y="60.1"/><use href="#sc" x="552.0" y="60.2"/><use href="#sc" x="552.4" y="61.0"/><use href="#sc" x="552.9" y="62.1"/><use href="#sc" x="553.3" y="64.0"/><use href="#sc" x="553.8" y="66.3"/><use href="#sc" x="554.2" y="68.1"/><use href="#sc" x="554.7" y="69.0"/><use href="#sc" x="555.1" y="70.3"/><use href="#sc" x="555.6" y="71.2"/><use href="#sc" x="556.1" y="71.9"/><use href="#sc" x="556.5" y="72.4"/><use href="#sc" x="557.0" y="72.9"/><use href="#sc" x="557.4" y="72.9"/><use href="#sc" x="557.9" y="73.3"/><use href="#sc" x="558.3" y="73.8"/><use href="#sc" x="558.8" y="74.0"/><use href="#sc" x="559.2" y="74.5"/><use href="#sc" x="559.7" y="74.4"/><use href="#sc" x="560.1" y="74.9"/><use href="#sc" x="560.6" y="74.7"/><use href="#sc" x="561.0" y="74.7"/><use href="#sc" x="561.5" y="75.1"/><use href="#sc" x="561.9" y="75.1"/><use href="#sc" x="562.4" y="75.2"/><use href="#sc" x="562.8" y="75.6"/><use href="#sc" x="563.3" y="75.3"/><use href="#sc" x="563.7" y="75.7"/><use href="#sc" x="564.2" y="75.9"/><use href="#sc" x="564.6" y="75.7"/><use href="#sc" x="565.1" y="75.8"/><use href="#sc" x="565.5" y="76.1"/><use href="#sc" x="566.0" y="75.9"/><use href="#sc" x="566.5" y="75.7"/><use href="#sc" x="566.9" y="75.6"/><use href="#sc" x="567.4" y="75.7"/><use href="#sc" x="567.8" y="75.9"/><use href="#sc" x="568.3" y="75.8"/><use href="#sc" x="568.7" y="76.2"/><use href="#sc" x="569.2" y="76.1"/><use href="#sc" x="569.6" y="76.0"/><use href="#sc" x="570.1" y="76.2"/><use href="#sc" x="570.5" y="76.5"/><use href="#sc" x="571.0" y="76.1"/><use href="#sc" x="571.4" y="76.0"/><use href="#sc" x="571.9" y="76.1"/><use href="#sc" x="572.3" y="76.2"/><use href="#sc" x="572.8" y="76.6"/><use href="#sc" x="573.2" y="76.5"/><use href="#sc" x="573.7" y="76.3"/><use href="#sc" x="574.1" y="76.1"/><use href="#sc" x="574.6" y="76.1"/><use href="#sc" x="575.0" y="76.1"/><use href="#sc" x="575.5" y="76.7"/><use href="#sc" x="576.0" y="76.5"/><use href="#sc" x="576.4" y="76.2"/><use href="#sc" x="576.9" y="76.6"/><use href="#sc" x="577.3" y="76.2"/><use href="#sc" x="577.8" y="76.5"/><use href="#sc" x="578.2" y="76.4"/><use href="#sc" x="578.7" y="76.2"/><use href="#sc" x="579.1" y="76.7"/><use href="#sc" x="579.6" y="76.7"/><use href="#sc" x="580.0" y="76.6"/><use href="#sc" x="580.5" y="76.3"/><use href="#sc" x="580.9" y="76.7"/><use href="#sc" x="581.4" y="76.5"/><use href="#sc" x="581.8" y="76.7"/><use href="#sc" x="582.3" y="76.3"/><use href="#sc" x="582.7" y="76.9"/><use href="#sc" x="583.2" y="76.3"/><use href="#sc" x="583.6" y="76.4"/><use href="#sc" x="584.1" y="76.6"/><use href="#sc" x="584.5" y="76.4"/><use href="#sc" x="585.0" y="76.4"/><use href="#sc" x="585.4" y="76.8"/><use href="#sc" x="585.9" y="77.0"/><use href="#sc" x="586.4" y="76.6"/><use href="#sc" x="586.8" y="76.5"/><use href="#sc" x="587.3" y="76.8"/><use href="#sc" x="587.7" y="76.5"/><use href="#sc" x="588.2" y="76.6"/><use href="#sc" x="588.6" y="76.8"/><use href="#sc" x="589.1" y="76.7"/><use href="#sc" x="589.5" y="76.5"/><use href="#sc" x="590.0" y="76.4"/><use href="#sc" x="590.4" y="76.7"/><use href="#sc" x="590.9" y="77.1"/><use href="#sc" x="591.3" y="77.0"/><use href="#sc" x="591.8" y="76.5"/><use href="#sc" x="592.2" y="76.7"/><use href="#sc" x="592.7" y="76.7"/><use href="#sc" x="593.1" y="76.5"/><use href="#sc" x="593.6" y="76.9"/><use href="#sc" x="594.0" y="76.8"/><use href="#sc" x="594.5" y="77.0"/><use href="#sc" x="594.9" y="76.6"/><use href="#sc" x="595.4" y="77.1"/><use href="#sc" x="595.8" y="77.0"/><use href="#sc" x="596.3" y="76.8"/><use href="#sc" x="596.8" y="76.5"/><use href="#sc" x="597.2" y="76.8"/><use href="#sc" x="597.7" y="76.5"/><use href="#sc" x="598.1" y="76.9"/><use href="#sc" x="598.6" y="76.9"/><use href="#sc" x="599.0" y="76.8"/><use href="#sc" x="599.5" y="77.1"/><use href="#sc" x="599.9" y="76.5"/><use href="#sc" x="600.4" y="77.0"/><use href="#sc" x="600.8" y="77.0"/><use href="#sc" x="601.3" y="76.5"/><use href="#sc" x="601.7" y="76.7"/><use href="#sc" x="602.2" y="76.5"/><use href="#sc" x="602.6" y="76.9"/><use href="#sc" x="603.1" y="77.0"/><use href="#sc" x="603.5" y="76.7"/><use href="#sc" x="604.0" y="77.0"/><use href="#sc" x="604.4" y="76.7"/><use href="#sc" x="604.9" y="77.0"/><use href="#sc" x="605.3" y="76.7"/><use href="#sc" x="605.8" y="77.2"/><use href="#sc" x="606.3" y="76.8"/><use href="#sc" x="606.7" y="76.5"/><use href="#sc" x="607.2" y="76.6"/><use href="#sc" x="607.6" y="77.0"/><use href="#sc" x="608.1" y="77.1"/><use href="#sc" x="608.5" y="76.9"/><use href="#sc" x="609.0" y="76.6"/><use href="#sc" x="609.4" y="77.1"/><use href="#sc" x="609.9" y="77.0"/><use href="#sc" x="610.3" y="76.6"/><use href="#sc" x="610.8" y="76.8"/><use href="#sc" x="611.2" y="77.0"/><use href="#sc" x="611.7" y="76.5"/><use href="#sc" x="612.1" y="76.5"/><use href="#sc" x="612.6" y="76.8"/><use href="#sc" x="613.0" y="77.1"/><use href="#sc" x="613.5" y="77.2"/><use href="#sc" x="613.9" y="76.7"/><use href="#sc" x="614.4" y="77.2"/><use href="#sc" x="614.8" y="77.1"/><use href="#sc" x="615.3" y="77.1"/><use href="#sc" x="615.7" y="76.9"/><use href="#sc" x="616.2" y="77.2"/><use href="#sc" x="616.7" y="77.0"/><use href="#sc" x="617.1" y="77.2"/><use href="#sc" x="617.6" y="76.9"/><use href="#sc" x="618.0" y="76.7"/><use href="#sc" x="618.5" y="76.9"/><use href="#sc" x="618.9" y="76.9"/><use href="#sc" x="619.4" y="76.8"/><use href="#sc" x="619.8" y="76.8"/><use href="#sc" x="620.3" y="76.9"/><use href="#sc" x="620.7" y="76.9"/><use href="#sc" x="621.2" y="76.7"/><use href="#sc" x="621.6" y="76.7"/><use href="#sc" x="622.1" y="76.9"/><use href="#sc" x="622.5" y="76.9"/><use href="#sc" x="623.0" y="76.8"/><use href="#sc" x="623.4" y="77.0"/><use href="#sc" x="623.9" y="76.7"/><use href="#sc" x="624.3" y="76.9"/><use href="#sc" x="624.8" y="76.7"/><use href="#sc" x="625.2" y="77.1"/><use href="#sc" x="625.7" y="77.0"/><use href="#sc" x="626.1" y="77.1"/><use href="#sc" x="626.6" y="76.9"/><use href="#sc" x="627.1" y="76.7"/><use href="#sc" x="627.5" y="77.2"/><use href="#sc" x="628.0" y="76.9"/><use href="#sc" x="628.4" y="76.8"/><use href="#sc" x="628.9" y="76.8"/><use href="#sc" x="629.3" y="76.8"/><use href="#sc" x="629.8" y="77.1"/><use href="#sc" x="630.2" y="77.1"/><use href="#sc" x="630.7" y="76.9"/><use href="#sc" x="631.1" y="77.1"/><use href="#sc" x="631.6" y="76.7"/><use href="#sc" x="632.0" y="76.9"/><use href="#sc" x="632.5" y="76.8"/><use href="#sc" x="632.9" y="76.8"/><use href="#sc" x="633.4" y="76.8"/><use href="#sc" x="633.8" y="77.1"/><use href="#sc" x="634.3" y="77.1"/><use href="#sc" x="634.7" y="76.7"/><use href="#sc" x="635.2" y="76.7"/><use href="#sc" x="635.6" y="77.1"/><use href="#sc" x="636.1" y="77.0"/><use href="#sc" x="636.6" y="77.0"/><use href="#sc" x="637.0" y="77.0"/><use href="#sc" x="637.5" y="77.1"/><use href="#sc" x="637.9" y="76.8"/><use href="#sc" x="638.4" y="76.6"/><use href="#sc" x="638.8" y="76.8"/><use href="#sc" x="639.3" y="76.6"/><use href="#sc" x="639.7" y="77.2"/><use href="#sc" x="640.2" y="76.9"/><use href="#sc" x="640.6" y="77.0"/><use href="#sc" x="641.1" y="77.3"/><use href="#sc" x="641.5" y="77.1"/><use href="#sc" x="642.0" y="76.7"/><use href="#sc" x="642.4" y="76.8"/><use href="#sc" x="642.9" y="76.7"/><use href="#sc" x="643.3" y="77.1"/><use href="#sc" x="643.8" y="77.1"/><use href="#sc" x="644.2" y="76.9"/><use href="#sc" x="644.7" y="76.8"/><use href="#sc" x="645.1" y="76.8"/><use href="#sc" x="645.6" y="76.9"/><use href="#sc" x="646.0" y="77.1"/><use href="#sc" x="646.5" y="77.2"/><use href="#sc" x="647.0" y="77.2"/><use href="#sc" x="647.4" y="77.2"/><use href="#sc" x="647.9" y="76.9"/><use href="#sc" x="648.3" y="76.9"/><use href="#sc" x="648.8" y="76.8"/><use href="#sc" x="649.2" y="77.3"/><use href="#sc" x="649.7" y="76.7"/><use href="#sc" x="650.1" y="76.7"/><use href="#sc" x="650.6" y="76.8"/><use href="#sc" x="651.0" y="77.2"/><use href="#sc" x="651.5" y="77.2"/><use href="#sc" x="651.9" y="76.8"/><use href="#sc" x="652.4" y="77.2"/><use href="#sc" x="652.8" y="77.2"/><use href="#sc" x="653.3" y="76.9"/><use href="#sc" x="653.7" y="76.7"/><use href="#sc" x="654.2" y="77.1"/><use href="#sc" x="654.6" y="76.9"/><use href="#sc" x="655.1" y="76.7"/><use href="#sc" x="655.5" y="77.2"/><use href="#sc" x="656.0" y="76.9"/><use href="#sc" x="656.5" y="76.9"/><use href="#sc" x="656.9" y="77.0"/><use href="#sc" x="657.4" y="76.8"/><use href="#sc" x="657.8" y="76.6"/><use href="#sc" x="658.3" y="76.9"/><use href="#sc" x="658.7" y="76.9"/><use href="#sc" x="659.2" y="76.6"/><use href="#sc" x="659.6" y="76.9"/><use href="#sc" x="660.1" y="77.1"/><use href="#sc" x="660.5" y="76.8"/><use href="#sc" x="661.0" y="77.1"/><use href="#sc" x="661.4" y="77.0"/><use href="#sc" x="661.9" y="76.7"/><use href="#sc" x="662.3" y="76.6"/><use href="#sc" x="662.8" y="77.1"/><use href="#sc" x="663.2" y="77.0"/><use href="#sc" x="663.7" y="76.8"/><use href="#sc" x="664.1" y="76.7"/><use href="#sc" x="664.6" y="77.2"/><use href="#sc" x="665.0" y="77.2"/><use href="#sc" x="665.5" y="76.8"/><use href="#sc" x="665.9" y="77.0"/><use href="#sc" x="666.4" y="77.0"/>
<rect x="485.50" y="52.20" width="180.90" height="29.30" fill="none" stroke="#3c3c3c" stroke-width="1.0"/>
<line x1="501.95" y1="81.50" x2="501.95" y2="83.70" stroke="#3a3a3a" stroke-width="0.9"/>
<line x1="543.06" y1="81.50" x2="543.06" y2="83.70" stroke="#3a3a3a" stroke-width="0.9"/>
<line x1="584.17" y1="81.50" x2="584.17" y2="83.70" stroke="#3a3a3a" stroke-width="0.9"/>
<line x1="625.29" y1="81.50" x2="625.29" y2="83.70" stroke="#3a3a3a" stroke-width="0.9"/>
<line x1="666.40" y1="81.50" x2="666.40" y2="83.70" stroke="#3a3a3a" stroke-width="0.9"/>
<line x1="522.50" y1="81.50" x2="522.50" y2="82.90" stroke="#3a3a3a" stroke-width="0.9"/>
<line x1="563.62" y1="81.50" x2="563.62" y2="82.90" stroke="#3a3a3a" stroke-width="0.9"/>
<line x1="604.73" y1="81.50" x2="604.73" y2="82.90" stroke="#3a3a3a" stroke-width="0.9"/>
<line x1="645.84" y1="81.50" x2="645.84" y2="82.90" stroke="#3a3a3a" stroke-width="0.9"/>
<text x="577.00" y="61.00" font-size="8.2" text-anchor="start" font-weight="bold" fill="#1a1a1a" textLength="47.30" lengthAdjust="spacingAndGlyphs">PG@PyC-60</text>
<path d="M491.7,109.2 L491.7,108.9 L503.3,108.6 L510.8,108.1 L515.4,107.4 L519.0,106.4 L521.7,105.0 L524.0,102.9 L526.0,100.2 L529.2,94.3 L529.9,93.6 L530.6,93.2 L531.2,93.3 L532.2,94.3 L535.5,100.2 L537.5,102.9 L539.8,105.0 L542.4,106.4 L546.0,107.4 L550.6,108.1 L558.2,108.6 L569.7,108.9 L569.7,109.2 Z" fill="url(#cg2_0)" stroke="#e23a3a" stroke-width="0.8"/>
<path d="M531.9,109.2 L531.9,108.9 L537.8,108.6 L541.4,108.1 L543.7,107.3 L545.4,106.3 L546.7,104.9 L547.7,103.3 L548.7,100.8 L550.3,95.4 L551.0,94.3 L551.3,94.3 L551.9,95.4 L553.6,100.8 L554.6,103.3 L555.6,104.9 L556.9,106.3 L558.5,107.3 L560.8,108.1 L564.4,108.6 L570.4,108.9 L570.4,109.2 Z" fill="url(#cg2_1)" stroke="#1f5fe6" stroke-width="0.8"/>
<path d="M523.3,109.2 L523.3,108.9 L530.2,108.5 L534.8,107.9 L537.5,107.0 L541.4,104.9 L543.1,104.4 L544.7,104.9 L548.7,107.0 L551.3,107.9 L555.9,108.5 L562.8,108.9 L562.8,109.2 Z" fill="url(#cg2_2)" stroke="#2a9a50" stroke-width="0.8"/>
<path d="M550.0,109.2 L550.0,108.9 L551.3,108.3 L552.9,106.6 L554.6,108.3 L555.9,108.9 L555.9,109.2 Z" fill="url(#cg2_3)" stroke="#a040e0" stroke-width="0.8"/>
<line x1="485.50" y1="110.70" x2="666.40" y2="110.70" stroke="#9a5ad8" stroke-width="1.0"/>
<use href="#sc" x="485.5" y="108.7"/><use href="#sc" x="486.0" y="108.5"/><use href="#sc" x="486.4" y="108.7"/><use href="#sc" x="486.9" y="108.9"/><use href="#sc" x="487.3" y="108.9"/><use href="#sc" x="487.8" y="108.8"/><use href="#sc" x="488.2" y="108.5"/><use href="#sc" x="488.7" y="108.6"/><use href="#sc" x="489.1" y="108.7"/><use href="#sc" x="489.6" y="108.7"/><use href="#sc" x="490.0" y="108.7"/><use href="#sc" x="490.5" y="109.0"/><use href="#sc" x="490.9" y="108.5"/><use href="#sc" x="491.4" y="109.1"/><use href="#sc" x="491.8" y="108.5"/><use href="#sc" x="492.3" y="109.0"/><use href="#sc" x="492.7" y="108.5"/><use href="#sc" x="493.2" y="108.8"/><use href="#sc" x="493.6" y="108.6"/><use href="#sc" x="494.1" y="108.3"/><use href="#sc" x="494.5" y="108.9"/><use href="#sc" x="495.0" y="108.9"/><use href="#sc" x="495.4" y="108.5"/><use href="#sc" x="495.9" y="108.8"/><use href="#sc" x="496.4" y="108.6"/><use href="#sc" x="496.8" y="108.9"/><use href="#sc" x="497.3" y="108.2"/><use href="#sc" x="497.7" y="108.5"/><use href="#sc" x="498.2" y="108.3"/><use href="#sc" x="498.6" y="108.6"/><use href="#sc" x="499.1" y="108.7"/><use href="#sc" x="499.5" y="108.7"/><use href="#sc" x="500.0" y="108.5"/><use href="#sc" x="500.4" y="108.3"/><use href="#sc" x="500.9" y="108.6"/><use href="#sc" x="501.3" y="108.1"/><use href="#sc" x="501.8" y="108.2"/><use href="#sc" x="502.2" y="108.5"/><use href="#sc" x="502.7" y="108.2"/><use href="#sc" x="503.1" y="108.6"/><use href="#sc" x="503.6" y="107.9"/><use href="#sc" x="504.0" y="108.1"/><use href="#sc" x="504.5" y="107.9"/><use href="#sc" x="504.9" y="107.7"/><use href="#sc" x="505.4" y="107.8"/><use href="#sc" x="505.9" y="107.7"/><use href="#sc" x="506.3" y="107.9"/><use href="#sc" x="506.8" y="107.9"/><use href="#sc" x="507.2" y="107.9"/><use href="#sc" x="507.7" y="107.6"/><use href="#sc" x="508.1" y="107.9"/><use href="#sc" x="508.6" y="107.7"/><use href="#sc" x="509.0" y="107.9"/><use href="#sc" x="509.5" y="107.3"/><use href="#sc" x="509.9" y="107.4"/><use href="#sc" x="510.4" y="107.3"/><use href="#sc" x="510.8" y="107.2"/><use href="#sc" x="511.3" y="107.4"/><use href="#sc" x="511.7" y="106.8"/><use href="#sc" x="512.2" y="107.2"/><use href="#sc" x="512.6" y="106.7"/><use href="#sc" x="513.1" y="106.6"/><use href="#sc" x="513.5" y="106.6"/><use href="#sc" x="514.0" y="106.5"/><use href="#sc" x="514.4" y="106.1"/><use href="#sc" x="514.9" y="105.8"/><use href="#sc" x="515.3" y="106.3"/><use href="#sc" x="515.8" y="105.7"/><use href="#sc" x="516.3" y="105.3"/><use href="#sc" x="516.7" y="105.5"/><use href="#sc" x="517.2" y="105.3"/><use href="#sc" x="517.6" y="105.0"/><use href="#sc" x="518.1" y="104.8"/><use href="#sc" x="518.5" y="105.0"/><use href="#sc" x="519.0" y="104.5"/><use href="#sc" x="519.4" y="104.3"/><use href="#sc" x="519.9" y="104.5"/><use href="#sc" x="520.3" y="103.9"/><use href="#sc" x="520.8" y="103.8"/><use href="#sc" x="521.2" y="103.4"/><use href="#sc" x="521.7" y="103.5"/><use href="#sc" x="522.1" y="103.2"/><use href="#sc" x="522.6" y="102.7"/><use href="#sc" x="523.0" y="102.4"/><use href="#sc" x="523.5" y="101.9"/><use href="#sc" x="523.9" y="101.8"/><use href="#sc" x="524.4" y="101.1"/><use href="#sc" x="524.8" y="100.8"/><use href="#sc" x="525.3" y="99.9"/><use href="#sc" x="525.8" y="99.4"/><use href="#sc" x="526.2" y="98.2"/><use href="#sc" x="526.7" y="97.6"/><use href="#sc" x="527.1" y="97.3"/><use href="#sc" x="527.6" y="96.2"/><use href="#sc" x="528.0" y="95.3"/><use href="#sc" x="528.5" y="94.4"/><use href="#sc" x="528.9" y="93.6"/><use href="#sc" x="529.4" y="92.7"/><use href="#sc" x="529.8" y="92.1"/><use href="#sc" x="530.3" y="92.1"/><use href="#sc" x="530.7" y="92.0"/><use href="#sc" x="531.2" y="91.8"/><use href="#sc" x="531.6" y="92.3"/><use href="#sc" x="532.1" y="92.4"/><use href="#sc" x="532.5" y="93.4"/><use href="#sc" x="533.0" y="93.7"/><use href="#sc" x="533.4" y="94.7"/><use href="#sc" x="533.9" y="95.4"/><use href="#sc" x="534.3" y="96.3"/><use href="#sc" x="534.8" y="96.7"/><use href="#sc" x="535.2" y="97.7"/><use href="#sc" x="535.7" y="98.4"/><use href="#sc" x="536.2" y="98.6"/><use href="#sc" x="536.6" y="99.1"/><use href="#sc" x="537.1" y="99.8"/><use href="#sc" x="537.5" y="100.0"/><use href="#sc" x="538.0" y="100.3"/><use href="#sc" x="538.4" y="100.6"/><use href="#sc" x="538.9" y="100.6"/><use href="#sc" x="539.3" y="100.4"/><use href="#sc" x="539.8" y="100.5"/><use href="#sc" x="540.2" y="100.8"/><use href="#sc" x="540.7" y="100.5"/><use href="#sc" x="541.1" y="100.5"/><use href="#sc" x="541.6" y="100.2"/><use href="#sc" x="542.0" y="100.1"/><use href="#sc" x="542.5" y="100.4"/><use href="#sc" x="542.9" y="100.3"/><use href="#sc" x="543.4" y="100.2"/><use href="#sc" x="543.8" y="99.8"/><use href="#sc" x="544.3" y="100.2"/><use href="#sc" x="544.7" y="99.9"/><use href="#sc" x="545.2" y="100.6"/><use href="#sc" x="545.6" y="100.6"/><use href="#sc" x="546.1" y="100.3"/><use href="#sc" x="546.6" y="99.8"/><use href="#sc" x="547.0" y="99.9"/><use href="#sc" x="547.5" y="99.0"/><use href="#sc" x="547.9" y="98.8"/><use href="#sc" x="548.4" y="97.7"/><use href="#sc" x="548.8" y="96.2"/><use href="#sc" x="549.3" y="95.5"/><use href="#sc" x="549.7" y="93.8"/><use href="#sc" x="550.2" y="92.7"/><use href="#sc" x="550.6" y="91.6"/><use href="#sc" x="551.1" y="91.0"/><use href="#sc" x="551.5" y="91.4"/><use href="#sc" x="552.0" y="91.5"/><use href="#sc" x="552.4" y="92.9"/><use href="#sc" x="552.9" y="93.8"/><use href="#sc" x="553.3" y="95.5"/><use href="#sc" x="553.8" y="97.8"/><use href="#sc" x="554.2" y="99.4"/><use href="#sc" x="554.7" y="100.8"/><use href="#sc" x="555.1" y="102.3"/><use href="#sc" x="555.6" y="102.9"/><use href="#sc" x="556.1" y="103.6"/><use href="#sc" x="556.5" y="104.3"/><use href="#sc" x="557.0" y="104.8"/><use href="#sc" x="557.4" y="105.6"/><use href="#sc" x="557.9" y="106.0"/><use href="#sc" x="558.3" y="106.3"/><use href="#sc" x="558.8" y="106.6"/><use href="#sc" x="559.2" y="106.4"/><use href="#sc" x="559.7" y="106.9"/><use href="#sc" x="560.1" y="106.7"/><use href="#sc" x="560.6" y="107.3"/><use href="#sc" x="561.0" y="107.4"/><use href="#sc" x="561.5" y="107.4"/><use href="#sc" x="561.9" y="107.2"/><use href="#sc" x="562.4" y="107.2"/><use href="#sc" x="562.8" y="107.9"/><use href="#sc" x="563.3" y="107.7"/><use href="#sc" x="563.7" y="107.8"/><use href="#sc" x="564.2" y="108.1"/><use href="#sc" x="564.6" y="107.6"/><use href="#sc" x="565.1" y="108.1"/><use href="#sc" x="565.5" y="108.0"/><use href="#sc" x="566.0" y="108.2"/><use href="#sc" x="566.5" y="108.1"/><use href="#sc" x="566.9" y="107.9"/><use href="#sc" x="567.4" y="108.5"/><use href="#sc" x="567.8" y="108.1"/><use href="#sc" x="568.3" y="108.4"/><use href="#sc" x="568.7" y="108.5"/><use href="#sc" x="569.2" y="108.1"/><use href="#sc" x="569.6" y="108.5"/><use href="#sc" x="570.1" y="108.3"/><use href="#sc" x="570.5" y="108.2"/><use href="#sc" x="571.0" y="108.2"/><use href="#sc" x="571.4" y="108.8"/><use href="#sc" x="571.9" y="108.4"/><use href="#sc" x="572.3" y="108.5"/><use href="#sc" x="572.8" y="108.5"/><use href="#sc" x="573.2" y="108.2"/><use href="#sc" x="573.7" y="108.7"/><use href="#sc" x="574.1" y="108.8"/><use href="#sc" x="574.6" y="108.9"/><use href="#sc" x="575.0" y="108.5"/><use href="#sc" x="575.5" y="108.4"/><use href="#sc" x="576.0" y="108.5"/><use href="#sc" x="576.4" y="108.8"/><use href="#sc" x="576.9" y="108.8"/><use href="#sc" x="577.3" y="108.6"/><use href="#sc" x="577.8" y="108.7"/><use href="#sc" x="578.2" y="108.5"/><use href="#sc" x="578.7" y="109.0"/><use href="#sc" x="579.1" y="108.7"/><use href="#sc" x="579.6" y="108.8"/><use href="#sc" x="580.0" y="109.0"/><use href="#sc" x="580.5" y="108.6"/><use href="#sc" x="580.9" y="108.9"/><use href="#sc" x="581.4" y="108.7"/><use href="#sc" x="581.8" y="109.0"/><use href="#sc" x="582.3" y="108.5"/><use href="#sc" x="582.7" y="108.7"/><use href="#sc" x="583.2" y="108.9"/><use href="#sc" x="583.6" y="108.8"/><use href="#sc" x="584.1" y="108.8"/><use href="#sc" x="584.5" y="108.9"/><use href="#sc" x="585.0" y="108.7"/><use href="#sc" x="585.4" y="108.8"/><use href="#sc" x="585.9" y="108.5"/><use href="#sc" x="586.4" y="109.1"/><use href="#sc" x="586.8" y="108.7"/><use href="#sc" x="587.3" y="109.1"/><use href="#sc" x="587.7" y="108.9"/><use href="#sc" x="588.2" y="109.0"/><use href="#sc" x="588.6" y="109.0"/><use href="#sc" x="589.1" y="108.6"/><use href="#sc" x="589.5" y="109.1"/><use href="#sc" x="590.0" y="108.8"/><use href="#sc" x="590.4" y="109.2"/><use href="#sc" x="590.9" y="109.1"/><use href="#sc" x="591.3" y="109.1"/><use href="#sc" x="591.8" y="109.2"/><use href="#sc" x="592.2" y="108.9"/><use href="#sc" x="592.7" y="109.1"/><use href="#sc" x="593.1" y="109.3"/><use href="#sc" x="593.6" y="108.7"/><use href="#sc" x="594.0" y="108.7"/><use href="#sc" x="594.5" y="108.9"/><use href="#sc" x="594.9" y="109.0"/><use href="#sc" x="595.4" y="108.7"/><use href="#sc" x="595.8" y="108.8"/><use href="#sc" x="596.3" y="109.2"/><use href="#sc" x="596.8" y="108.9"/><use href="#sc" x="597.2" y="108.7"/><use href="#sc" x="597.7" y="108.8"/><use href="#sc" x="598.1" y="109.0"/><use href="#sc" x="598.6" y="108.8"/><use href="#sc" x="599.0" y="109.0"/><use href="#sc" x="599.5" y="109.0"/><use href="#sc" x="599.9" y="109.0"/><use href="#sc" x="600.4" y="109.0"/><use href="#sc" x="600.8" y="109.2"/><use href="#sc" x="601.3" y="108.7"/><use href="#sc" x="601.7" y="109.3"/><use href="#sc" x="602.2" y="108.8"/><use href="#sc" x="602.6" y="108.7"/><use href="#sc" x="603.1" y="109.2"/><use href="#sc" x="603.5" y="109.1"/><use href="#sc" x="604.0" y="109.1"/><use href="#sc" x="604.4" y="108.8"/><use href="#sc" x="604.9" y="109.2"/><use href="#sc" x="605.3" y="108.9"/><use href="#sc" x="605.8" y="109.2"/><use href="#sc" x="606.3" y="108.8"/><use href="#sc" x="606.7" y="109.1"/><use href="#sc" x="607.2" y="109.1"/><use href="#sc" x="607.6" y="109.0"/><use href="#sc" x="608.1" y="109.0"/><use href="#sc" x="608.5" y="108.7"/><use href="#sc" x="609.0" y="109.2"/><use href="#sc" x="609.4" y="109.2"/><use href="#sc" x="609.9" y="108.8"/><use href="#sc" x="610.3" y="109.1"/><use href="#sc" x="610.8" y="109.2"/><use href="#sc" x="611.2" y="108.8"/><use href="#sc" x="611.7" y="109.3"/><use href="#sc" x="612.1" y="109.3"/><use href="#sc" x="612.6" y="108.8"/><use href="#sc" x="613.0" y="108.9"/><use href="#sc" x="613.5" y="108.8"/><use href="#sc" x="613.9" y="108.9"/><use href="#sc" x="614.4" y="108.8"/><use href="#sc" x="614.8" y="109.1"/><use href="#sc" x="615.3" y="108.9"/><use href="#sc" x="615.7" y="108.9"/><use href="#sc" x="616.2" y="109.1"/><use href="#sc" x="616.7" y="109.0"/><use href="#sc" x="617.1" y="109.3"/><use href="#sc" x="617.6" y="109.2"/><use href="#sc" x="618.0" y="108.8"/><use href="#sc" x="618.5" y="108.9"/><use href="#sc" x="618.9" y="108.7"/><use href="#sc" x="619.4" y="109.0"/><use href="#sc" x="619.8" y="108.8"/><use href="#sc" x="620.3" y="109.2"/><use href="#sc" x="620.7" y="109.3"/><use href="#sc" x="621.2" y="109.4"/><use href="#sc" x="621.6" y="108.9"/><use href="#sc" x="622.1" y="108.8"/><use href="#sc" x="622.5" y="109.3"/><use href="#sc" x="623.0" y="109.0"/><use href="#sc" x="623.4" y="109.4"/><use href="#sc" x="623.9" y="109.0"/><use href="#sc" x="624.3" y="109.0"/><use href="#sc" x="624.8" y="108.8"/><use href="#sc" x="625.2" y="109.4"/><use href="#sc" x="625.7" y="109.1"/><use href="#sc" x="626.1" y="109.1"/><use href="#sc" x="626.6" y="109.1"/><use href="#sc" x="627.1" y="109.3"/><use href="#sc" x="627.5" y="109.3"/><use href="#sc" x="628.0" y="109.1"/><use href="#sc" x="628.4" y="108.9"/><use href="#sc" x="628.9" y="109.0"/><use href="#sc" x="629.3" y="109.4"/><use href="#sc" x="629.8" y="109.0"/><use href="#sc" x="630.2" y="109.2"/><use href="#sc" x="630.7" y="109.2"/><use href="#sc" x="631.1" y="109.1"/><use href="#sc" x="631.6" y="109.2"/><use href="#sc" x="632.0" y="108.9"/><use href="#sc" x="632.5" y="109.2"/><use href="#sc" x="632.9" y="109.4"/><use href="#sc" x="633.4" y="108.8"/><use href="#sc" x="633.8" y="109.0"/><use href="#sc" x="634.3" y="109.4"/><use href="#sc" x="634.7" y="109.5"/><use href="#sc" x="635.2" y="108.8"/><use href="#sc" x="635.6" y="109.2"/><use href="#sc" x="636.1" y="109.2"/><use href="#sc" x="636.6" y="109.4"/><use href="#sc" x="637.0" y="109.1"/><use href="#sc" x="637.5" y="108.9"/><use href="#sc" x="637.9" y="109.0"/><use href="#sc" x="638.4" y="109.3"/><use href="#sc" x="638.8" y="109.3"/><use href="#sc" x="639.3" y="108.9"/><use href="#sc" x="639.7" y="109.2"/><use href="#sc" x="640.2" y="109.2"/><use href="#sc" x="640.6" y="109.2"/><use href="#sc" x="641.1" y="108.8"/><use href="#sc" x="641.5" y="109.1"/><use href="#sc" x="642.0" y="109.0"/><use href="#sc" x="642.4" y="109.2"/><use href="#sc" x="642.9" y="109.0"/><use href="#sc" x="643.3" y="108.9"/><use href="#sc" x="643.8" y="109.3"/><use href="#sc" x="644.2" y="109.0"/><use href="#sc" x="644.7" y="109.3"/><use href="#sc" x="645.1" y="109.0"/><use href="#sc" x="645.6" y="109.2"/><use href="#sc" x="646.0" y="109.4"/><use href="#sc" x="646.5" y="108.9"/><use href="#sc" x="647.0" y="109.3"/><use href="#sc" x="647.4" y="108.8"/><use href="#sc" x="647.9" y="109.4"/><use href="#sc" x="648.3" y="108.8"/><use href="#sc" x="648.8" y="109.3"/><use href="#sc" x="649.2" y="109.0"/><use href="#sc" x="649.7" y="108.9"/><use href="#sc" x="650.1" y="109.1"/><use href="#sc" x="650.6" y="109.1"/><use href="#sc" x="651.0" y="109.1"/><use href="#sc" x="651.5" y="108.9"/><use href="#sc" x="651.9" y="109.2"/><use href="#sc" x="652.4" y="109.0"/><use href="#sc" x="652.8" y="109.5"/><use href="#sc" x="653.3" y="109.1"/><use href="#sc" x="653.7" y="109.1"/><use href="#sc" x="654.2" y="109.0"/><use href="#sc" x="654.6" y="109.5"/><use href="#sc" x="655.1" y="109.0"/><use href="#sc" x="655.5" y="109.2"/><use href="#sc" x="656.0" y="109.4"/><use href="#sc" x="656.5" y="109.1"/><use href="#sc" x="656.9" y="109.3"/><use href="#sc" x="657.4" y="109.0"/><use href="#sc" x="657.8" y="108.9"/><use href="#sc" x="658.3" y="108.8"/><use href="#sc" x="658.7" y="109.1"/><use href="#sc" x="659.2" y="109.4"/><use href="#sc" x="659.6" y="108.9"/><use href="#sc" x="660.1" y="109.1"/><use href="#sc" x="660.5" y="109.3"/><use href="#sc" x="661.0" y="109.0"/><use href="#sc" x="661.4" y="108.9"/><use href="#sc" x="661.9" y="109.2"/><use href="#sc" x="662.3" y="109.1"/><use href="#sc" x="662.8" y="109.5"/><use href="#sc" x="663.2" y="109.4"/><use href="#sc" x="663.7" y="109.0"/><use href="#sc" x="664.1" y="109.2"/><use href="#sc" x="664.6" y="109.1"/><use href="#sc" x="665.0" y="108.8"/><use href="#sc" x="665.5" y="109.1"/><use href="#sc" x="665.9" y="109.4"/><use href="#sc" x="666.4" y="109.0"/>
<rect x="485.50" y="84.40" width="180.90" height="28.40" fill="none" stroke="#3c3c3c" stroke-width="1.0"/>
<line x1="501.95" y1="112.80" x2="501.95" y2="115.00" stroke="#3a3a3a" stroke-width="0.9"/>
<line x1="543.06" y1="112.80" x2="543.06" y2="115.00" stroke="#3a3a3a" stroke-width="0.9"/>
<line x1="584.17" y1="112.80" x2="584.17" y2="115.00" stroke="#3a3a3a" stroke-width="0.9"/>
<line x1="625.29" y1="112.80" x2="625.29" y2="115.00" stroke="#3a3a3a" stroke-width="0.9"/>
<line x1="666.40" y1="112.80" x2="666.40" y2="115.00" stroke="#3a3a3a" stroke-width="0.9"/>
<line x1="522.50" y1="112.80" x2="522.50" y2="114.20" stroke="#3a3a3a" stroke-width="0.9"/>
<line x1="563.62" y1="112.80" x2="563.62" y2="114.20" stroke="#3a3a3a" stroke-width="0.9"/>
<line x1="604.73" y1="112.80" x2="604.73" y2="114.20" stroke="#3a3a3a" stroke-width="0.9"/>
<line x1="645.84" y1="112.80" x2="645.84" y2="114.20" stroke="#3a3a3a" stroke-width="0.9"/>
<text x="577.00" y="93.30" font-size="8.2" text-anchor="start" font-weight="bold" fill="#1a1a1a" textLength="47.30" lengthAdjust="spacingAndGlyphs">PG@PyC-90</text>
<path d="M491.7,142.0 L491.7,141.7 L503.3,141.4 L510.8,140.9 L515.4,140.2 L519.0,139.2 L521.7,137.8 L524.0,135.7 L526.0,133.0 L529.2,127.1 L529.9,126.4 L530.6,126.0 L531.2,126.1 L532.2,127.1 L535.5,133.0 L537.5,135.7 L539.8,137.8 L542.4,139.2 L546.0,140.2 L550.6,140.9 L558.2,141.4 L569.7,141.7 L569.7,142.0 Z" fill="url(#cg3_0)" stroke="#e23a3a" stroke-width="0.8"/>
<path d="M531.9,142.0 L531.9,141.7 L537.8,141.4 L541.4,140.9 L543.7,140.2 L545.4,139.2 L546.7,137.8 L547.7,136.1 L548.7,133.7 L550.3,128.4 L551.0,127.3 L551.3,127.3 L551.9,128.4 L553.6,133.7 L554.6,136.1 L555.6,137.8 L556.9,139.2 L558.5,140.2 L560.8,140.9 L564.4,141.4 L570.4,141.7 L570.4,142.0 Z" fill="url(#cg3_1)" stroke="#1f5fe6" stroke-width="0.8"/>
<path d="M524.0,142.0 L524.0,141.7 L530.9,141.3 L535.2,140.6 L537.8,139.8 L541.7,137.7 L543.1,137.4 L544.4,137.7 L548.3,139.8 L551.0,140.6 L555.2,141.3 L562.1,141.7 L562.1,142.0 Z" fill="url(#cg3_2)" stroke="#2a9a50" stroke-width="0.8"/>
<path d="M550.3,142.0 L550.3,141.7 L551.6,141.1 L552.9,140.0 L554.2,141.1 L555.6,141.7 L555.6,142.0 Z" fill="url(#cg3_3)" stroke="#a040e0" stroke-width="0.8"/>
<line x1="485.50" y1="143.50" x2="666.40" y2="143.50" stroke="#9a5ad8" stroke-width="1.0"/>
<use href="#sc" x="485.5" y="141.7"/><use href="#sc" x="486.0" y="141.8"/><use href="#sc" x="486.4" y="141.3"/><use href="#sc" x="486.9" y="141.9"/><use href="#sc" x="487.3" y="141.3"/><use href="#sc" x="487.8" y="141.5"/><use href="#sc" x="488.2" y="141.8"/><use href="#sc" x="488.7" y="141.3"/><use href="#sc" x="489.1" y="141.5"/><use href="#sc" x="489.6" y="141.3"/><use href="#sc" x="490.0" y="141.6"/><use href="#sc" x="490.5" y="141.2"/><use href="#sc" x="490.9" y="141.3"/><use href="#sc" x="491.4" y="141.3"/><use href="#sc" x="491.8" y="141.2"/><use href="#sc" x="492.3" y="141.2"/><use href="#sc" x="492.7" y="141.3"/><use href="#sc" x="493.2" y="141.5"/><use href="#sc" x="493.6" y="141.2"/><use href="#sc" x="494.1" y="141.7"/><use href="#sc" x="494.5" y="141.4"/><use href="#sc" x="495.0" y="141.3"/><use href="#sc" x="495.4" y="141.2"/><use href="#sc" x="495.9" y="141.6"/><use href="#sc" x="496.4" y="141.1"/><use href="#sc" x="496.8" y="141.5"/><use href="#sc" x="497.3" y="141.1"/><use href="#sc" x="497.7" y="141.7"/><use href="#sc" x="498.2" y="141.3"/><use href="#sc" x="498.6" y="141.4"/><use href="#sc" x="499.1" y="141.5"/><use href="#sc" x="499.5" y="141.0"/><use href="#sc" x="500.0" y="140.9"/><use href="#sc" x="500.4" y="141.4"/><use href="#sc" x="500.9" y="141.3"/><use href="#sc" x="501.3" y="141.3"/><use href="#sc" x="501.8" y="141.0"/><use href="#sc" x="502.2" y="141.1"/><use href="#sc" x="502.7" y="140.9"/><use href="#sc" x="503.1" y="141.0"/><use href="#sc" x="503.6" y="140.9"/><use href="#sc" x="504.0" y="141.0"/><use href="#sc" x="504.5" y="140.8"/><use href="#sc" x="504.9" y="140.7"/><use href="#sc" x="505.4" y="141.0"/><use href="#sc" x="505.9" y="140.5"/><use href="#sc" x="506.3" y="141.0"/><use href="#sc" x="506.8" y="140.7"/><use href="#sc" x="507.2" y="140.5"/><use href="#sc" x="507.7" y="140.3"/><use href="#sc" x="508.1" y="140.5"/><use href="#sc" x="508.6" y="140.5"/><use href="#sc" x="509.0" y="140.6"/><use href="#sc" x="509.5" y="140.2"/><use href="#sc" x="509.9" y="140.2"/><use href="#sc" x="510.4" y="140.4"/><use href="#sc" x="510.8" y="139.9"/><use href="#sc" x="511.3" y="140.3"/><use href="#sc" x="511.7" y="140.1"/><use href="#sc" x="512.2" y="140.1"/><use href="#sc" x="512.6" y="139.9"/><use href="#sc" x="513.1" y="139.3"/><use href="#sc" x="513.5" y="139.6"/><use href="#sc" x="514.0" y="139.3"/><use href="#sc" x="514.4" y="138.9"/><use href="#sc" x="514.9" y="139.3"/><use href="#sc" x="515.3" y="138.9"/><use href="#sc" x="515.8" y="138.8"/><use href="#sc" x="516.3" y="138.5"/><use href="#sc" x="516.7" y="137.9"/><use href="#sc" x="517.2" y="138.3"/><use href="#sc" x="517.6" y="137.7"/><use href="#sc" x="518.1" y="137.6"/><use href="#sc" x="518.5" y="137.6"/><use href="#sc" x="519.0" y="137.2"/><use href="#sc" x="519.4" y="137.2"/><use href="#sc" x="519.9" y="137.2"/><use href="#sc" x="520.3" y="136.6"/><use href="#sc" x="520.8" y="136.8"/><use href="#sc" x="521.2" y="136.2"/><use href="#sc" x="521.7" y="136.2"/><use href="#sc" x="522.1" y="136.0"/><use href="#sc" x="522.6" y="135.7"/><use href="#sc" x="523.0" y="134.9"/><use href="#sc" x="523.5" y="134.6"/><use href="#sc" x="523.9" y="134.7"/><use href="#sc" x="524.4" y="133.8"/><use href="#sc" x="524.8" y="133.3"/><use href="#sc" x="525.3" y="132.7"/><use href="#sc" x="525.8" y="132.2"/><use href="#sc" x="526.2" y="131.5"/><use href="#sc" x="526.7" y="130.7"/><use href="#sc" x="527.1" y="129.7"/><use href="#sc" x="527.6" y="128.9"/><use href="#sc" x="528.0" y="128.0"/><use href="#sc" x="528.5" y="127.0"/><use href="#sc" x="528.9" y="126.7"/><use href="#sc" x="529.4" y="126.1"/><use href="#sc" x="529.8" y="125.4"/><use href="#sc" x="530.3" y="125.2"/><use href="#sc" x="530.7" y="124.7"/><use href="#sc" x="531.2" y="125.0"/><use href="#sc" x="531.6" y="124.9"/><use href="#sc" x="532.1" y="125.7"/><use href="#sc" x="532.5" y="126.3"/><use href="#sc" x="533.0" y="127.1"/><use href="#sc" x="533.4" y="127.8"/><use href="#sc" x="533.9" y="128.6"/><use href="#sc" x="534.3" y="129.0"/><use href="#sc" x="534.8" y="130.1"/><use href="#sc" x="535.2" y="130.5"/><use href="#sc" x="535.7" y="131.0"/><use href="#sc" x="536.2" y="131.6"/><use href="#sc" x="536.6" y="132.4"/><use href="#sc" x="537.1" y="132.8"/><use href="#sc" x="537.5" y="133.1"/><use href="#sc" x="538.0" y="133.3"/><use href="#sc" x="538.4" y="133.1"/><use href="#sc" x="538.9" y="133.2"/><use href="#sc" x="539.3" y="133.6"/><use href="#sc" x="539.8" y="133.3"/><use href="#sc" x="540.2" y="133.4"/><use href="#sc" x="540.7" y="133.2"/><use href="#sc" x="541.1" y="133.1"/><use href="#sc" x="541.6" y="133.4"/><use href="#sc" x="542.0" y="133.0"/><use href="#sc" x="542.5" y="133.4"/><use href="#sc" x="542.9" y="133.0"/><use href="#sc" x="543.4" y="133.3"/><use href="#sc" x="543.8" y="133.0"/><use href="#sc" x="544.3" y="133.0"/><use href="#sc" x="544.7" y="133.2"/><use href="#sc" x="545.2" y="132.9"/><use href="#sc" x="545.6" y="133.2"/><use href="#sc" x="546.1" y="133.1"/><use href="#sc" x="546.6" y="132.7"/><use href="#sc" x="547.0" y="132.9"/><use href="#sc" x="547.5" y="132.1"/><use href="#sc" x="547.9" y="131.2"/><use href="#sc" x="548.4" y="131.0"/><use href="#sc" x="548.8" y="129.4"/><use href="#sc" x="549.3" y="128.2"/><use href="#sc" x="549.7" y="126.6"/><use href="#sc" x="550.2" y="125.4"/><use href="#sc" x="550.6" y="124.8"/><use href="#sc" x="551.1" y="124.3"/><use href="#sc" x="551.5" y="124.4"/><use href="#sc" x="552.0" y="124.9"/><use href="#sc" x="552.4" y="126.0"/><use href="#sc" x="552.9" y="127.8"/><use href="#sc" x="553.3" y="129.2"/><use href="#sc" x="553.8" y="131.6"/><use href="#sc" x="554.2" y="133.2"/><use href="#sc" x="554.7" y="134.0"/><use href="#sc" x="555.1" y="135.5"/><use href="#sc" x="555.6" y="135.8"/><use href="#sc" x="556.1" y="137.0"/><use href="#sc" x="556.5" y="137.6"/><use href="#sc" x="557.0" y="138.0"/><use href="#sc" x="557.4" y="138.3"/><use href="#sc" x="557.9" y="138.8"/><use href="#sc" x="558.3" y="138.6"/><use href="#sc" x="558.8" y="139.2"/><use href="#sc" x="559.2" y="139.2"/><use href="#sc" x="559.7" y="139.5"/><use href="#sc" x="560.1" y="139.5"/><use href="#sc" x="560.6" y="140.0"/><use href="#sc" x="561.0" y="140.0"/><use href="#sc" x="561.5" y="140.3"/><use href="#sc" x="561.9" y="140.3"/><use href="#sc" x="562.4" y="140.4"/><use href="#sc" x="562.8" y="140.7"/><use href="#sc" x="563.3" y="140.7"/><use href="#sc" x="563.7" y="140.6"/><use href="#sc" x="564.2" y="140.5"/><use href="#sc" x="564.6" y="141.0"/><use href="#sc" x="565.1" y="140.7"/><use href="#sc" x="565.5" y="140.5"/><use href="#sc" x="566.0" y="140.7"/><use href="#sc" x="566.5" y="141.1"/><use href="#sc" x="566.9" y="141.3"/><use href="#sc" x="567.4" y="141.1"/><use href="#sc" x="567.8" y="141.1"/><use href="#sc" x="568.3" y="141.4"/><use href="#sc" x="568.7" y="141.3"/><use href="#sc" x="569.2" y="141.1"/><use href="#sc" x="569.6" y="141.1"/><use href="#sc" x="570.1" y="141.4"/><use href="#sc" x="570.5" y="141.1"/><use href="#sc" x="571.0" y="141.0"/><use href="#sc" x="571.4" y="141.4"/><use href="#sc" x="571.9" y="141.5"/><use href="#sc" x="572.3" y="141.1"/><use href="#sc" x="572.8" y="141.5"/><use href="#sc" x="573.2" y="141.6"/><use href="#sc" x="573.7" y="141.1"/><use href="#sc" x="574.1" y="141.1"/><use href="#sc" x="574.6" y="141.4"/><use href="#sc" x="575.0" y="141.3"/><use href="#sc" x="575.5" y="141.8"/><use href="#sc" x="576.0" y="141.8"/><use href="#sc" x="576.4" y="141.4"/><use href="#sc" x="576.9" y="141.7"/><use href="#sc" x="577.3" y="141.6"/><use href="#sc" x="577.8" y="141.3"/><use href="#sc" x="578.2" y="141.9"/><use href="#sc" x="578.7" y="141.3"/><use href="#sc" x="579.1" y="141.2"/><use href="#sc" x="579.6" y="141.5"/><use href="#sc" x="580.0" y="141.2"/><use href="#sc" x="580.5" y="141.6"/><use href="#sc" x="580.9" y="141.5"/><use href="#sc" x="581.4" y="141.9"/><use href="#sc" x="581.8" y="141.5"/><use href="#sc" x="582.3" y="141.9"/><use href="#sc" x="582.7" y="141.8"/><use href="#sc" x="583.2" y="141.7"/><use href="#sc" x="583.6" y="141.5"/><use href="#sc" x="584.1" y="141.5"/><use href="#sc" x="584.5" y="141.6"/><use href="#sc" x="585.0" y="141.6"/><use href="#sc" x="585.4" y="141.8"/><use href="#sc" x="585.9" y="141.7"/><use href="#sc" x="586.4" y="141.6"/><use href="#sc" x="586.8" y="141.8"/><use href="#sc" x="587.3" y="142.0"/><use href="#sc" x="587.7" y="141.5"/><use href="#sc" x="588.2" y="141.6"/><use href="#sc" x="588.6" y="141.4"/><use href="#sc" x="589.1" y="141.4"/><use href="#sc" x="589.5" y="141.4"/><use href="#sc" x="590.0" y="141.7"/><use href="#sc" x="590.4" y="142.0"/><use href="#sc" x="590.9" y="141.9"/><use href="#sc" x="591.3" y="142.1"/><use href="#sc" x="591.8" y="142.0"/><use href="#sc" x="592.2" y="141.8"/><use href="#sc" x="592.7" y="141.8"/><use href="#sc" x="593.1" y="141.4"/><use href="#sc" x="593.6" y="141.7"/><use href="#sc" x="594.0" y="141.6"/><use href="#sc" x="594.5" y="141.9"/><use href="#sc" x="594.9" y="141.5"/><use href="#sc" x="595.4" y="141.8"/><use href="#sc" x="595.8" y="141.7"/><use href="#sc" x="596.3" y="141.8"/><use href="#sc" x="596.8" y="141.7"/><use href="#sc" x="597.2" y="141.5"/><use href="#sc" x="597.7" y="142.0"/><use href="#sc" x="598.1" y="142.0"/><use href="#sc" x="598.6" y="141.9"/><use href="#sc" x="599.0" y="141.5"/><use href="#sc" x="599.5" y="141.9"/><use href="#sc" x="599.9" y="142.1"/><use href="#sc" x="600.4" y="142.1"/><use href="#sc" x="600.8" y="142.0"/><use href="#sc" x="601.3" y="141.5"/><use href="#sc" x="601.7" y="142.1"/><use href="#sc" x="602.2" y="141.9"/><use href="#sc" x="602.6" y="141.7"/><use href="#sc" x="603.1" y="142.1"/><use href="#sc" x="603.5" y="142.1"/><use href="#sc" x="604.0" y="142.1"/><use href="#sc" x="604.4" y="141.7"/><use href="#sc" x="604.9" y="141.9"/><use href="#sc" x="605.3" y="141.8"/><use href="#sc" x="605.8" y="141.7"/><use href="#sc" x="606.3" y="142.0"/><use href="#sc" x="606.7" y="141.9"/><use href="#sc" x="607.2" y="141.7"/><use href="#sc" x="607.6" y="141.9"/><use href="#sc" x="608.1" y="142.1"/><use href="#sc" x="608.5" y="141.9"/><use href="#sc" x="609.0" y="142.1"/><use href="#sc" x="609.4" y="141.9"/><use href="#sc" x="609.9" y="142.2"/><use href="#sc" x="610.3" y="141.5"/><use href="#sc" x="610.8" y="141.8"/><use href="#sc" x="611.2" y="141.9"/><use href="#sc" x="611.7" y="142.0"/><use href="#sc" x="612.1" y="142.2"/><use href="#sc" x="612.6" y="142.0"/><use href="#sc" x="613.0" y="141.9"/><use href="#sc" x="613.5" y="142.0"/><use href="#sc" x="613.9" y="141.9"/><use href="#sc" x="614.4" y="142.0"/><use href="#sc" x="614.8" y="142.2"/><use href="#sc" x="615.3" y="141.5"/><use href="#sc" x="615.7" y="141.8"/><use href="#sc" x="616.2" y="142.1"/><use href="#sc" x="616.7" y="141.6"/><use href="#sc" x="617.1" y="142.1"/><use href="#sc" x="617.6" y="141.6"/><use href="#sc" x="618.0" y="142.0"/><use href="#sc" x="618.5" y="142.1"/><use href="#sc" x="618.9" y="141.7"/><use href="#sc" x="619.4" y="141.8"/><use href="#sc" x="619.8" y="141.7"/><use href="#sc" x="620.3" y="142.0"/><use href="#sc" x="620.7" y="141.9"/><use href="#sc" x="621.2" y="142.0"/><use href="#sc" x="621.6" y="141.8"/><use href="#sc" x="622.1" y="142.0"/><use href="#sc" x="622.5" y="142.2"/><use href="#sc" x="623.0" y="142.1"/><use href="#sc" x="623.4" y="142.2"/><use href="#sc" x="623.9" y="141.7"/><use href="#sc" x="624.3" y="141.9"/><use href="#sc" x="624.8" y="141.8"/><use href="#sc" x="625.2" y="141.8"/><use href="#sc" x="625.7" y="142.1"/><use href="#sc" x="626.1" y="141.7"/><use href="#sc" x="626.6" y="141.9"/><use href="#sc" x="627.1" y="142.1"/><use href="#sc" x="627.5" y="142.2"/><use href="#sc" x="628.0" y="141.6"/><use href="#sc" x="628.4" y="141.7"/><use href="#sc" x="628.9" y="141.9"/><use href="#sc" x="629.3" y="142.2"/><use href="#sc" x="629.8" y="141.7"/><use href="#sc" x="630.2" y="142.2"/><use href="#sc" x="630.7" y="141.8"/><use href="#sc" x="631.1" y="141.9"/><use href="#sc" x="631.6" y="142.2"/><use href="#sc" x="632.0" y="141.6"/><use href="#sc" x="632.5" y="141.8"/><use href="#sc" x="632.9" y="141.7"/><use href="#sc" x="633.4" y="141.7"/><use href="#sc" x="633.8" y="141.8"/><use href="#sc" x="634.3" y="142.1"/><use href="#sc" x="634.7" y="142.0"/><use href="#sc" x="635.2" y="141.7"/><use href="#sc" x="635.6" y="142.1"/><use href="#sc" x="636.1" y="141.9"/><use href="#sc" x="636.6" y="141.7"/><use href="#sc" x="637.0" y="142.1"/><use href="#sc" x="637.5" y="142.1"/><use href="#sc" x="637.9" y="141.7"/><use href="#sc" x="638.4" y="142.2"/><use href="#sc" x="638.8" y="142.1"/><use href="#sc" x="639.3" y="141.7"/><use href="#sc" x="639.7" y="141.6"/><use href="#sc" x="640.2" y="142.2"/><use href="#sc" x="640.6" y="142.2"/><use href="#sc" x="641.1" y="141.6"/><use href="#sc" x="641.5" y="142.1"/><use href="#sc" x="642.0" y="142.1"/><use href="#sc" x="642.4" y="142.0"/><use href="#sc" x="642.9" y="142.2"/><use href="#sc" x="643.3" y="142.3"/><use href="#sc" x="643.8" y="141.8"/><use href="#sc" x="644.2" y="142.2"/><use href="#sc" x="644.7" y="142.2"/><use href="#sc" x="645.1" y="141.8"/><use href="#sc" x="645.6" y="142.1"/><use href="#sc" x="646.0" y="142.1"/><use href="#sc" x="646.5" y="142.2"/><use href="#sc" x="647.0" y="142.0"/><use href="#sc" x="647.4" y="141.8"/><use href="#sc" x="647.9" y="141.8"/><use href="#sc" x="648.3" y="142.0"/><use href="#sc" x="648.8" y="141.7"/><use href="#sc" x="649.2" y="142.2"/><use href="#sc" x="649.7" y="142.2"/><use href="#sc" x="650.1" y="141.8"/><use href="#sc" x="650.6" y="142.1"/><use href="#sc" x="651.0" y="142.1"/><use href="#sc" x="651.5" y="141.7"/><use href="#sc" x="651.9" y="142.1"/><use href="#sc" x="652.4" y="142.1"/><use href="#sc" x="652.8" y="141.8"/><use href="#sc" x="653.3" y="141.7"/><use href="#sc" x="653.7" y="141.8"/><use href="#sc" x="654.2" y="142.1"/><use href="#sc" x="654.6" y="141.9"/><use href="#sc" x="655.1" y="142.2"/><use href="#sc" x="655.5" y="141.7"/><use href="#sc" x="656.0" y="141.7"/><use href="#sc" x="656.5" y="141.8"/><use href="#sc" x="656.9" y="142.2"/><use href="#sc" x="657.4" y="141.7"/><use href="#sc" x="657.8" y="141.6"/><use href="#sc" x="658.3" y="142.1"/><use href="#sc" x="658.7" y="141.7"/><use href="#sc" x="659.2" y="142.1"/><use href="#sc" x="659.6" y="141.7"/><use href="#sc" x="660.1" y="141.8"/><use href="#sc" x="660.5" y="142.1"/><use href="#sc" x="661.0" y="142.2"/><use href="#sc" x="661.4" y="141.9"/><use href="#sc" x="661.9" y="141.9"/><use href="#sc" x="662.3" y="141.6"/><use href="#sc" x="662.8" y="141.8"/><use href="#sc" x="663.2" y="141.8"/><use href="#sc" x="663.7" y="142.2"/><use href="#sc" x="664.1" y="142.1"/><use href="#sc" x="664.6" y="142.2"/><use href="#sc" x="665.0" y="142.0"/><use href="#sc" x="665.5" y="142.1"/><use href="#sc" x="665.9" y="141.7"/><use href="#sc" x="666.4" y="141.9"/>
<rect x="485.50" y="116.50" width="180.90" height="28.90" fill="none" stroke="#3c3c3c" stroke-width="1.0"/>
<line x1="501.95" y1="145.40" x2="501.95" y2="147.60" stroke="#3a3a3a" stroke-width="0.9"/>
<line x1="543.06" y1="145.40" x2="543.06" y2="147.60" stroke="#3a3a3a" stroke-width="0.9"/>
<line x1="584.17" y1="145.40" x2="584.17" y2="147.60" stroke="#3a3a3a" stroke-width="0.9"/>
<line x1="625.29" y1="145.40" x2="625.29" y2="147.60" stroke="#3a3a3a" stroke-width="0.9"/>
<line x1="666.40" y1="145.40" x2="666.40" y2="147.60" stroke="#3a3a3a" stroke-width="0.9"/>
<line x1="522.50" y1="145.40" x2="522.50" y2="146.80" stroke="#3a3a3a" stroke-width="0.9"/>
<line x1="563.62" y1="145.40" x2="563.62" y2="146.80" stroke="#3a3a3a" stroke-width="0.9"/>
<line x1="604.73" y1="145.40" x2="604.73" y2="146.80" stroke="#3a3a3a" stroke-width="0.9"/>
<line x1="645.84" y1="145.40" x2="645.84" y2="146.80" stroke="#3a3a3a" stroke-width="0.9"/>
<text x="576.00" y="125.70" font-size="8.2" text-anchor="start" font-weight="bold" fill="#1a1a1a" textLength="51.90" lengthAdjust="spacingAndGlyphs">PG@PyC-120</text>
<text x="501.95" y="155.90" font-size="8" text-anchor="middle" font-weight="bold" fill="#1a1a1a">1000</text>
<text x="543.06" y="155.90" font-size="8" text-anchor="middle" font-weight="bold" fill="#1a1a1a">1500</text>
<text x="584.17" y="155.90" font-size="8" text-anchor="middle" font-weight="bold" fill="#1a1a1a">2000</text>
<text x="625.29" y="155.90" font-size="8" text-anchor="middle" font-weight="bold" fill="#1a1a1a">2500</text>
<text x="666.40" y="155.90" font-size="8" text-anchor="middle" font-weight="bold" fill="#1a1a1a">3000</text>
<text x="529.6" y="166.5" font-size="10.5" font-weight="bold" fill="#1a1a1a" textLength="92" lengthAdjust="spacingAndGlyphs">Raman shift (cm<tspan font-size="7" dy="-4">-1</tspan><tspan dy="4">)</tspan></text>
<text x="532.00" y="38.00" font-size="6.2" text-anchor="middle" font-weight="bold" fill="#1a1a1a">D</text>
<text x="542.50" y="27.00" font-size="6.2" text-anchor="middle" font-weight="bold" fill="#1a1a1a">G</text>
<text x="557.00" y="40.00" font-size="6.2" text-anchor="middle" font-weight="bold" fill="#1a1a1a">D'</text>
<text x="640.50" y="32.80" font-size="6.2" text-anchor="middle" font-weight="bold" fill="#1a1a1a">2D</text>
<text x="527.00" y="57.00" font-size="6.2" text-anchor="middle" font-weight="bold" fill="#1a1a1a">D</text>
<text x="555.00" y="57.00" font-size="6.2" text-anchor="middle" font-weight="bold" fill="#1a1a1a">G</text>
<text x="523.50" y="76.00" font-size="6.2" text-anchor="middle" font-weight="bold" fill="#1a1a1a">D</text>
<text x="527.00" y="77.50" font-size="4.5" text-anchor="middle" font-weight="bold" fill="#1a1a1a">4</text>
<text x="539.00" y="74.50" font-size="6.2" text-anchor="middle" font-weight="bold" fill="#1a1a1a">D</text>
<text x="542.50" y="76.00" font-size="4.5" text-anchor="middle" font-weight="bold" fill="#1a1a1a">3</text>
<text x="550.50" y="74.50" font-size="6.2" text-anchor="middle" font-weight="bold" fill="#1a1a1a">D'</text>
<text x="14.00" y="201.80" font-size="12.5" text-anchor="start" font-weight="bold" fill="#1a1a1a">d</text>
<text x="35.38" y="265.00" font-size="10.5" text-anchor="middle" font-weight="bold" fill="#1a1a1a" textLength="101.00" lengthAdjust="spacingAndGlyphs" transform="rotate(-90 35.38 265.00)">Intensity (arb. units)</text>
<polyline points="45.5,238.3 47.2,238.5 48.1,238.3 49.8,238.3 50.6,238.6 53.2,238.4 54.9,238.6 55.7,238.4 57.4,238.6 58.3,238.3 60.0,238.3 61.7,238.6 62.6,238.3 64.3,238.7 66.0,238.4 67.7,238.6 69.4,238.3 72.0,238.7 75.4,238.4 77.9,238.7 79.6,238.7 80.5,238.5 81.3,238.7 82.2,238.3 83.1,238.6 84.8,237.8 85.2,236.8 85.5,234.2 85.9,214.6 86.3,232.0 86.6,235.2 86.8,236.1 87.0,236.1 87.1,236.4 88.6,235.4 88.8,235.4 89.4,234.5 90.3,234.8 90.5,234.5 90.7,234.8 91.8,234.5 92.0,234.8 92.4,234.7 92.6,234.9 93.3,234.6 93.7,234.8 94.5,234.6 94.7,234.9 96.0,234.7 96.2,234.9 98.2,234.7 98.4,235.0 99.2,234.7 99.7,234.7 99.9,235.0 100.1,234.7 100.5,235.0 101.4,234.8 101.6,235.0 102.2,234.8 103.1,235.1 103.3,234.9 103.5,235.1 103.7,234.7 103.9,235.1 104.1,234.7 104.8,235.0 105.2,234.8 105.4,235.0 105.8,235.0 106.3,234.8 106.5,235.1 107.1,234.8 107.8,235.1 108.6,235.0 108.8,234.9 109.5,235.1 109.7,234.9 110.3,234.8 110.8,235.1 111.2,234.9 111.4,235.1 111.6,234.9 111.8,235.1 112.2,234.9 112.7,235.0 112.9,234.9 113.3,235.2 113.5,235.0 113.7,235.1 114.4,234.9 114.8,235.2 115.0,234.8 115.2,234.9 115.9,234.7 116.3,234.2 116.5,234.9 116.9,234.8 117.2,235.2 117.4,235.0 117.8,234.9 119.7,235.1 120.1,234.8 120.4,235.0 120.6,234.7 121.1,232.1 121.8,234.7 121.8,234.5 121.9,234.8 121.9,234.6 122.8,235.1 123.0,235.0 123.2,235.3 123.4,235.0 123.9,235.3 124.1,235.0 124.9,235.4 125.1,235.1 126.2,235.4 127.1,235.2 127.9,235.5 128.8,235.4 129.6,235.2 131.3,235.5 132.2,235.2 133.0,235.5 135.6,235.4 136.4,235.2 137.3,235.6 138.1,235.3 139.0,235.6 140.7,235.4 143.3,235.6 144.1,235.3 145.0,235.7 145.8,235.5 148.4,235.7 150.9,235.4 151.8,235.6 152.7,235.5 153.5,235.8 155.2,235.7 156.1,235.9 157.8,235.9 158.6,235.6 160.3,235.9 162.0,235.6 162.9,236.0 163.8,235.8 165.5,236.0 167.2,235.7 168.0,236.0 169.7,235.7 170.6,235.8 171.4,236.1 174.0,235.8 174.8,236.1 177.4,235.9 179.1,236.2 180.0,235.9 180.8,236.0 181.7,235.9 182.5,236.3 183.4,235.9 185.9,236.2 186.8,235.9 187.7,236.2 190.2,236.1 191.9,236.4 192.8,236.1 193.6,236.4 196.2,236.2 199.6,236.5 201.3,236.4 202.2,236.6 203.9,236.2 207.3,236.4 208.1,236.3 209.0,236.7 209.8,236.5 210.7,236.7 213.3,236.7 214.1,236.5 215.0,236.7 215.8,236.5" fill="none" stroke="#a768e0" stroke-width="0.9" stroke-linejoin="round" stroke-linecap="round"/>
<polyline points="45.5,269.2 47.2,269.3 48.1,269.1 51.5,269.4 52.3,269.1 54.0,269.1 54.9,269.3 58.3,269.3 60.0,269.4 64.3,269.4 66.0,269.1 69.4,269.3 72.8,269.2 73.7,269.5 74.5,269.1 75.4,269.1 76.2,269.4 81.3,269.1 82.2,269.4 83.1,269.3 84.8,268.3 85.2,266.8 85.5,262.9 85.9,240.9 86.3,261.6 86.6,265.7 87.0,267.1 87.9,266.9 88.6,266.6 88.8,266.1 89.0,266.2 89.2,265.8 89.6,265.9 89.8,265.6 90.1,265.8 90.3,265.6 90.9,265.8 91.3,265.6 91.8,265.8 92.0,265.7 92.6,266.0 93.0,265.7 93.3,265.9 93.5,265.8 93.7,266.0 93.9,265.7 94.5,266.0 94.7,265.7 95.2,265.7 96.0,266.0 96.7,265.9 97.1,266.1 97.3,265.9 97.5,266.1 97.7,265.8 97.9,266.1 99.0,265.8 99.2,266.1 99.4,265.9 99.7,266.0 100.5,265.9 100.9,266.1 101.4,265.8 101.6,266.1 102.0,265.8 102.4,265.9 102.6,266.1 103.3,265.9 104.8,266.2 105.4,265.9 106.3,266.2 106.9,266.0 107.1,266.3 107.8,265.9 108.0,266.3 108.2,266.0 108.4,266.3 108.6,266.0 109.3,266.3 109.7,266.0 110.3,266.3 111.4,266.0 111.6,266.4 111.8,266.0 112.0,266.2 112.5,266.1 112.9,266.4 113.1,266.1 113.7,266.3 114.2,266.1 114.4,266.4 114.6,266.0 115.7,266.1 116.3,265.5 116.7,266.2 116.9,266.0 117.8,266.4 118.0,266.1 118.4,266.4 118.9,266.1 119.3,266.4 119.7,266.1 119.9,266.2 120.6,265.7 121.2,263.9 121.7,265.8 121.8,265.7 121.9,265.9 121.9,265.8 122.1,266.2 122.8,266.4 123.2,266.2 123.4,266.4 124.3,266.2 124.5,266.5 125.3,266.3 127.9,266.6 128.8,266.4 131.3,266.7 134.7,266.5 135.6,266.8 138.1,266.5 139.0,266.5 139.9,266.9 140.7,266.5 141.6,266.8 145.8,266.8 146.7,266.6 147.5,267.0 148.4,266.7 153.5,267.1 154.4,266.7 155.2,266.7 156.9,267.1 157.8,266.8 159.5,267.1 160.3,266.9 162.0,267.2 165.5,267.0 166.3,267.3 168.9,267.1 171.4,267.3 172.3,267.2 173.1,267.4 177.4,267.3 178.3,267.5 179.1,267.2 180.0,267.5 181.7,267.4 182.5,267.5 184.2,267.1 185.9,267.5 186.8,267.4 187.7,267.7 189.4,267.3 191.1,267.4 191.9,267.6 195.3,267.5 196.2,267.8 201.3,267.7 202.2,267.9 204.7,267.9 205.6,267.6 208.1,267.7 209.8,268.1 211.5,268.1 212.4,267.8 215.8,267.8" fill="none" stroke="#ee3535" stroke-width="0.9" stroke-linejoin="round" stroke-linecap="round"/>
<polyline points="45.5,294.3 49.8,294.2 52.3,294.4 55.7,294.2 57.4,294.4 58.3,294.2 59.2,294.5 60.0,294.5 63.4,294.2 66.0,294.6 66.8,294.2 67.7,294.2 70.3,294.4 71.1,294.2 72.0,294.5 72.8,294.3 73.7,294.6 74.5,294.3 76.2,294.3 77.1,294.6 77.9,294.4 78.8,294.5 79.6,294.2 82.2,294.5 83.1,294.5 84.8,293.6 85.0,293.5 85.2,292.5 85.5,289.3 85.9,272.2 86.4,289.2 86.7,291.7 86.9,292.4 87.0,292.3 87.3,292.6 87.9,292.0 88.3,292.0 89.2,291.1 89.6,291.1 89.8,290.8 90.1,291.1 90.3,290.8 90.5,291.0 90.9,290.8 91.1,291.2 91.5,290.9 92.0,291.0 92.4,290.8 92.8,291.1 93.0,290.9 93.9,291.2 94.3,290.9 94.5,291.2 95.2,290.9 96.0,291.3 96.5,290.9 96.7,291.2 96.9,291.0 97.5,291.3 97.7,291.1 98.4,291.0 98.8,291.2 99.0,291.1 99.2,291.3 99.7,291.0 100.3,291.4 100.5,291.0 100.7,291.3 101.4,291.1 101.8,291.3 103.1,291.1 103.9,291.5 104.3,291.2 105.0,291.4 105.2,291.2 105.6,291.5 105.8,291.2 106.1,291.5 106.3,291.3 106.7,291.5 106.9,291.2 107.3,291.5 107.5,291.1 108.6,291.5 109.0,291.1 109.7,291.3 109.9,291.2 110.3,291.4 110.5,291.3 110.8,291.5 111.0,291.3 111.2,291.6 111.4,291.3 112.0,291.3 112.2,291.5 112.5,291.2 113.1,291.6 113.5,291.2 114.2,291.5 114.4,291.3 114.6,291.5 115.4,291.3 115.7,291.5 116.3,290.9 116.5,291.2 116.9,291.2 117.2,291.6 118.0,291.4 118.2,291.6 118.6,291.3 118.9,291.4 119.3,291.3 119.5,291.7 119.9,291.5 120.1,291.2 120.4,291.2 120.6,290.9 120.7,291.1 121.2,289.3 121.5,290.6 121.9,291.4 122.1,291.2 122.4,291.5 122.6,291.4 123.0,291.5 123.2,291.8 123.4,291.4 123.6,291.6 123.9,291.4 124.1,291.8 124.3,291.6 124.9,291.7 125.1,291.6 127.9,291.8 128.8,291.6 129.6,291.9 133.0,291.8 133.9,291.6 137.3,291.7 138.1,292.0 140.7,291.8 142.4,292.1 144.1,291.9 145.0,292.0 147.5,291.9 148.4,292.2 150.1,292.3 150.9,292.0 152.7,292.1 153.5,292.0 156.9,292.4 157.8,292.3 160.3,292.4 162.0,292.1 162.9,292.5 164.6,292.2 167.2,292.5 168.9,292.2 169.7,292.5 170.6,292.3 177.4,292.6 180.0,292.4 180.8,292.8 184.2,292.3 185.1,292.7 186.8,292.6 188.5,292.9 189.4,292.7 194.5,293.0 198.7,292.8 199.6,293.1 201.3,293.2 202.2,292.9 203.0,293.2 203.9,292.9 205.6,293.0 206.4,293.3 209.0,293.1 209.8,293.4 210.7,293.1 212.4,293.3 215.0,293.1 215.8,293.4" fill="none" stroke="#1f66e0" stroke-width="0.9" stroke-linejoin="round" stroke-linecap="round"/>
<polyline points="45.5,321.5 50.6,321.8 52.3,321.5 53.2,321.6 56.6,321.5 58.3,321.8 60.0,321.5 61.7,321.7 64.3,321.5 66.0,321.7 66.8,321.5 67.7,321.8 68.5,321.6 69.4,321.7 71.1,321.6 72.0,321.9 72.8,321.7 76.2,321.9 77.9,321.7 81.3,321.9 83.1,321.5 83.9,321.5 84.8,320.8 85.0,320.4 85.4,317.9 85.9,297.4 86.4,316.0 86.7,318.7 87.0,319.7 87.1,319.5 87.7,319.7 88.1,319.4 88.3,319.0 89.4,318.3 89.6,318.5 89.8,318.3 90.3,318.5 90.9,318.5 91.3,318.2 91.5,318.6 92.2,318.2 92.4,318.5 93.0,318.3 93.3,318.6 93.7,318.4 93.9,318.6 94.1,318.3 94.7,318.7 95.0,318.3 95.4,318.6 95.6,318.3 96.0,318.6 96.5,318.6 96.7,318.4 96.9,318.7 97.1,318.5 97.7,318.7 98.8,318.4 99.2,318.7 99.7,318.7 99.9,318.4 100.3,318.6 100.5,318.4 100.9,318.8 101.4,318.6 102.0,318.8 102.4,318.4 102.6,318.8 102.9,318.5 103.7,318.7 104.3,318.5 104.6,318.7 105.0,318.6 105.2,318.8 105.8,318.9 106.1,318.5 107.1,318.9 107.3,318.6 107.8,318.9 108.4,318.6 109.0,318.8 109.3,318.6 109.7,318.9 109.9,318.6 110.1,318.8 110.3,318.6 110.5,318.9 110.8,318.7 111.0,318.9 111.2,318.7 111.4,318.9 111.6,318.7 112.2,318.6 112.7,319.0 112.9,318.7 113.1,318.9 113.3,318.6 113.5,318.8 114.0,318.6 114.2,318.8 114.6,318.7 114.8,318.9 116.1,318.2 116.7,318.8 116.9,318.6 117.2,318.9 117.6,318.8 117.8,319.0 118.2,318.7 118.6,318.7 119.3,319.0 119.5,318.7 119.7,318.6 119.9,319.0 120.1,318.7 120.6,318.7 120.6,318.3 120.7,318.5 121.2,316.9 121.7,318.6 121.8,318.5 121.9,318.8 122.1,318.7 122.8,319.1 123.2,318.8 124.1,319.1 124.3,318.8 125.1,319.1 127.1,319.0 130.5,319.0 131.3,319.2 133.9,319.1 134.7,319.3 136.4,319.4 137.3,319.1 138.1,319.1 139.0,319.3 139.9,319.1 140.7,319.4 142.4,319.3 144.1,319.4 145.0,319.2 146.7,319.5 149.2,319.3 151.8,319.3 152.7,319.6 154.4,319.7 158.6,319.5 160.3,319.8 162.0,319.5 167.2,319.9 169.7,319.6 170.6,319.9 174.0,319.7 175.7,320.0 177.4,319.7 178.3,319.8 179.1,320.1 180.8,319.8 182.5,320.2 184.2,319.8 185.9,319.8 187.7,320.2 189.4,320.0 190.2,320.3 191.9,320.0 192.8,320.0 194.5,320.4 196.2,320.4 197.0,320.1 197.9,320.3 198.7,320.2 201.3,320.3 202.2,320.2 203.0,320.4 204.7,320.6 206.4,320.3 207.3,320.6 208.1,320.5 209.0,320.6 210.7,320.3 211.5,320.6 212.4,320.4 213.3,320.7 215.8,320.6" fill="none" stroke="#2fa55a" stroke-width="0.9" stroke-linejoin="round" stroke-linecap="round"/>
<rect x="45.50" y="202.20" width="170.70" height="125.70" fill="none" stroke="#454545" stroke-width="1.0"/>
<line x1="45.50" y1="327.90" x2="45.50" y2="330.40" stroke="#3a3a3a" stroke-width="0.9"/>
<line x1="73.95" y1="327.90" x2="73.95" y2="330.40" stroke="#3a3a3a" stroke-width="0.9"/>
<line x1="102.40" y1="327.90" x2="102.40" y2="330.40" stroke="#3a3a3a" stroke-width="0.9"/>
<line x1="130.85" y1="327.90" x2="130.85" y2="330.40" stroke="#3a3a3a" stroke-width="0.9"/>
<line x1="159.30" y1="327.90" x2="159.30" y2="330.40" stroke="#3a3a3a" stroke-width="0.9"/>
<line x1="187.75" y1="327.90" x2="187.75" y2="330.40" stroke="#3a3a3a" stroke-width="0.9"/>
<line x1="216.20" y1="327.90" x2="216.20" y2="330.40" stroke="#3a3a3a" stroke-width="0.9"/>
<line x1="59.73" y1="327.90" x2="59.73" y2="329.50" stroke="#3a3a3a" stroke-width="0.9"/>
<line x1="88.17" y1="327.90" x2="88.17" y2="329.50" stroke="#3a3a3a" stroke-width="0.9"/>
<line x1="116.62" y1="327.90" x2="116.62" y2="329.50" stroke="#3a3a3a" stroke-width="0.9"/>
<line x1="145.07" y1="327.90" x2="145.07" y2="329.50" stroke="#3a3a3a" stroke-width="0.9"/>
<line x1="173.53" y1="327.90" x2="173.53" y2="329.50" stroke="#3a3a3a" stroke-width="0.9"/>
<line x1="201.97" y1="327.90" x2="201.97" y2="329.50" stroke="#3a3a3a" stroke-width="0.9"/>
<text x="45.50" y="338.80" font-size="8" text-anchor="middle" font-weight="bold" fill="#1a1a1a">0</text>
<text x="73.95" y="338.80" font-size="8" text-anchor="middle" font-weight="bold" fill="#1a1a1a">200</text>
<text x="102.40" y="338.80" font-size="8" text-anchor="middle" font-weight="bold" fill="#1a1a1a">400</text>
<text x="130.85" y="338.80" font-size="8" text-anchor="middle" font-weight="bold" fill="#1a1a1a">600</text>
<text x="159.30" y="338.80" font-size="8" text-anchor="middle" font-weight="bold" fill="#1a1a1a">800</text>
<text x="187.75" y="338.80" font-size="8" text-anchor="middle" font-weight="bold" fill="#1a1a1a">1000</text>
<text x="216.20" y="338.80" font-size="8" text-anchor="middle" font-weight="bold" fill="#1a1a1a">1200</text>
<text x="80.1" y="212.5" font-size="8.2" font-weight="bold" fill="#1a1a1a">C 1<tspan font-style="italic">s</tspan></text>
<text x="113.7" y="230.8" font-size="8.2" font-weight="bold" fill="#1a1a1a">O 1<tspan font-style="italic">s</tspan></text>
<text x="150.70" y="233.20" font-size="8.2" text-anchor="start" font-weight="bold" fill="#1a1a1a" textLength="45.20" lengthAdjust="spacingAndGlyphs">PG preform</text>
<text x="149.90" y="264.30" font-size="8.2" text-anchor="start" font-weight="bold" fill="#1a1a1a" textLength="47.20" lengthAdjust="spacingAndGlyphs">PG@PyC-60</text>
<text x="150.50" y="290.10" font-size="8.2" text-anchor="start" font-weight="bold" fill="#1a1a1a" textLength="47.70" lengthAdjust="spacingAndGlyphs">PG@PyC-90</text>
<text x="148.60" y="317.40" font-size="8.2" text-anchor="start" font-weight="bold" fill="#1a1a1a" textLength="52.20" lengthAdjust="spacingAndGlyphs">PG@PyC-120</text>
<text x="81.30" y="348.60" font-size="10.5" text-anchor="start" font-weight="bold" fill="#1a1a1a" textLength="99.30" lengthAdjust="spacingAndGlyphs">Binding energy (eV)</text>
<text x="232.00" y="201.80" font-size="12.5" text-anchor="start" font-weight="bold" fill="#1a1a1a">e</text>
<text x="253.38" y="265.50" font-size="10.5" text-anchor="middle" font-weight="bold" fill="#1a1a1a" textLength="101.00" lengthAdjust="spacingAndGlyphs" transform="rotate(-90 253.38 265.50)">Intensity (arb. units)</text>
<path d="M256.7,228.9 L256.7,228.7 L269.9,228.4 L278.3,228.0 L283.7,227.3 L287.3,226.3 L289.6,225.2 L292.0,223.1 L293.8,220.7 L297.4,214.0 L298.0,213.4 L298.6,213.2 L299.2,213.4 L299.8,214.0 L303.4,220.7 L304.6,222.4 L306.4,224.3 L308.2,225.5 L310.6,226.5 L313.0,227.2 L316.6,227.8 L325.6,228.4 L341.7,228.7 L436.3,228.9 Z" fill="url(#eg0)" stroke="#2fb060" stroke-width="0.8"/>
<path d="M256.7,228.9 L297.4,228.7 L304.0,228.3 L311.8,227.3 L320.8,228.4 L331.5,228.8 L436.3,228.9 Z" fill="#b060e0" fill-opacity="0.35" stroke="#b060e0" stroke-width="0.7"/>
<path d="M256.7,228.9 L303.4,228.7 L311.8,228.4 L323.8,227.6 L336.9,228.5 L348.9,228.7 L436.3,228.9 Z" fill="#d0a020" fill-opacity="0.35" stroke="#d0a020" stroke-width="0.7"/>
<path d="M256.7,228.9 L326.8,228.8 L358.5,228.3 L386.6,228.8 L436.3,228.9 Z" fill="#e06070" fill-opacity="0.35" stroke="#e06070" stroke-width="0.7"/>
<polyline points="256.7,228.4 268.7,228.0 276.5,227.4 282.5,226.4 286.7,225.0 289.6,223.1 292.0,220.5 293.8,217.4 297.4,209.4 298.0,208.6 298.6,208.1 299.2,208.2 300.4,209.4 303.4,214.9 305.2,217.7 307.0,219.6 308.8,221.0 314.2,223.6 317.2,224.7 320.2,225.4 329.7,226.8 336.3,227.5 344.1,227.9 359.1,228.0 388.4,228.6 436.3,228.8" fill="none" stroke="#2a2a2a" stroke-width="0.9" stroke-linejoin="round" stroke-linecap="round"/>
<line x1="256.60" y1="229.50" x2="436.30" y2="229.50" stroke="#999" stroke-width="0.8"/>
<rect x="256.60" y="202.30" width="179.70" height="28.70" fill="none" stroke="#2e2e2e" stroke-width="1.0"/>
<line x1="268.70" y1="231.00" x2="268.70" y2="233.20" stroke="#3a3a3a" stroke-width="0.9"/>
<line x1="292.64" y1="231.00" x2="292.64" y2="233.20" stroke="#3a3a3a" stroke-width="0.9"/>
<line x1="316.58" y1="231.00" x2="316.58" y2="233.20" stroke="#3a3a3a" stroke-width="0.9"/>
<line x1="340.52" y1="231.00" x2="340.52" y2="233.20" stroke="#3a3a3a" stroke-width="0.9"/>
<line x1="364.46" y1="231.00" x2="364.46" y2="233.20" stroke="#3a3a3a" stroke-width="0.9"/>
<line x1="388.40" y1="231.00" x2="388.40" y2="233.20" stroke="#3a3a3a" stroke-width="0.9"/>
<line x1="412.34" y1="231.00" x2="412.34" y2="233.20" stroke="#3a3a3a" stroke-width="0.9"/>
<line x1="436.28" y1="231.00" x2="436.28" y2="233.20" stroke="#3a3a3a" stroke-width="0.9"/>
<line x1="256.73" y1="231.00" x2="256.73" y2="232.40" stroke="#3a3a3a" stroke-width="0.9"/>
<line x1="280.67" y1="231.00" x2="280.67" y2="232.40" stroke="#3a3a3a" stroke-width="0.9"/>
<line x1="304.61" y1="231.00" x2="304.61" y2="232.40" stroke="#3a3a3a" stroke-width="0.9"/>
<line x1="328.55" y1="231.00" x2="328.55" y2="232.40" stroke="#3a3a3a" stroke-width="0.9"/>
<line x1="352.49" y1="231.00" x2="352.49" y2="232.40" stroke="#3a3a3a" stroke-width="0.9"/>
<line x1="376.43" y1="231.00" x2="376.43" y2="232.40" stroke="#3a3a3a" stroke-width="0.9"/>
<line x1="400.37" y1="231.00" x2="400.37" y2="232.40" stroke="#3a3a3a" stroke-width="0.9"/>
<line x1="424.31" y1="231.00" x2="424.31" y2="232.40" stroke="#3a3a3a" stroke-width="0.9"/>
<text x="433.10" y="211.80" font-size="8.5" text-anchor="end" font-weight="bold" fill="#111" textLength="44.50" lengthAdjust="spacingAndGlyphs">PG preform</text>
<text x="435.0" y="220.5" font-size="8.6" font-weight="bold" font-style="italic" fill="#f01818" text-anchor="end">sp<tspan font-size="5.5" dy="-3.3">3</tspan><tspan dy="3.3">/sp</tspan><tspan font-size="5.5" dy="-3.3">2</tspan><tspan dy="3.3" font-style="normal">=0.02</tspan></text>
<path d="M256.7,260.0 L256.7,259.7 L269.9,259.4 L278.3,258.8 L283.7,257.8 L287.3,256.5 L289.6,254.9 L290.8,253.7 L292.0,252.1 L293.8,248.8 L297.4,239.7 L298.0,238.9 L298.6,238.6 L299.2,238.9 L299.8,239.7 L303.4,248.8 L304.6,251.1 L306.4,253.7 L308.2,255.4 L310.6,256.8 L313.0,257.7 L316.6,258.4 L325.6,259.3 L341.7,259.7 L436.3,260.0 Z" fill="url(#eg1)" stroke="#2fb060" stroke-width="0.8"/>
<path d="M256.7,260.0 L297.4,259.7 L304.0,259.2 L310.0,258.1 L311.8,257.9 L320.8,259.4 L331.5,259.8 L436.3,260.0 Z" fill="#b060e0" fill-opacity="0.35" stroke="#b060e0" stroke-width="0.7"/>
<path d="M256.7,260.0 L303.4,259.8 L311.8,259.5 L323.8,258.7 L336.9,259.6 L348.9,259.8 L436.3,260.0 Z" fill="#d0a020" fill-opacity="0.35" stroke="#d0a020" stroke-width="0.7"/>
<path d="M256.7,260.0 L326.8,259.9 L358.5,259.4 L386.6,259.9 L436.3,260.0 Z" fill="#e06070" fill-opacity="0.35" stroke="#e06070" stroke-width="0.7"/>
<polyline points="256.7,259.6 269.3,259.2 277.7,258.5 283.1,257.6 285.5,256.8 287.3,255.9 289.6,254.2 290.8,253.0 292.0,251.3 293.8,247.8 297.4,238.4 298.0,237.5 298.6,237.1 299.2,237.3 299.8,238.1 303.4,246.6 304.6,248.8 306.4,251.0 307.6,252.0 309.4,252.9 316.6,255.7 320.2,256.6 332.7,258.4 341.7,259.0 359.1,259.1 387.8,259.7 436.3,259.9" fill="none" stroke="#2a2a2a" stroke-width="0.9" stroke-linejoin="round" stroke-linecap="round"/>
<line x1="256.60" y1="260.60" x2="436.30" y2="260.60" stroke="#999" stroke-width="0.8"/>
<rect x="256.60" y="234.90" width="179.70" height="28.00" fill="none" stroke="#2e2e2e" stroke-width="1.0"/>
<line x1="268.70" y1="262.90" x2="268.70" y2="265.10" stroke="#3a3a3a" stroke-width="0.9"/>
<line x1="292.64" y1="262.90" x2="292.64" y2="265.10" stroke="#3a3a3a" stroke-width="0.9"/>
<line x1="316.58" y1="262.90" x2="316.58" y2="265.10" stroke="#3a3a3a" stroke-width="0.9"/>
<line x1="340.52" y1="262.90" x2="340.52" y2="265.10" stroke="#3a3a3a" stroke-width="0.9"/>
<line x1="364.46" y1="262.90" x2="364.46" y2="265.10" stroke="#3a3a3a" stroke-width="0.9"/>
<line x1="388.40" y1="262.90" x2="388.40" y2="265.10" stroke="#3a3a3a" stroke-width="0.9"/>
<line x1="412.34" y1="262.90" x2="412.34" y2="265.10" stroke="#3a3a3a" stroke-width="0.9"/>
<line x1="436.28" y1="262.90" x2="436.28" y2="265.10" stroke="#3a3a3a" stroke-width="0.9"/>
<line x1="256.73" y1="262.90" x2="256.73" y2="264.30" stroke="#3a3a3a" stroke-width="0.9"/>
<line x1="280.67" y1="262.90" x2="280.67" y2="264.30" stroke="#3a3a3a" stroke-width="0.9"/>
<line x1="304.61" y1="262.90" x2="304.61" y2="264.30" stroke="#3a3a3a" stroke-width="0.9"/>
<line x1="328.55" y1="262.90" x2="328.55" y2="264.30" stroke="#3a3a3a" stroke-width="0.9"/>
<line x1="352.49" y1="262.90" x2="352.49" y2="264.30" stroke="#3a3a3a" stroke-width="0.9"/>
<line x1="376.43" y1="262.90" x2="376.43" y2="264.30" stroke="#3a3a3a" stroke-width="0.9"/>
<line x1="400.37" y1="262.90" x2="400.37" y2="264.30" stroke="#3a3a3a" stroke-width="0.9"/>
<line x1="424.31" y1="262.90" x2="424.31" y2="264.30" stroke="#3a3a3a" stroke-width="0.9"/>
<text x="435.60" y="243.90" font-size="8.5" text-anchor="end" font-weight="bold" fill="#111" textLength="47.50" lengthAdjust="spacingAndGlyphs">PG@PyC-60</text>
<text x="435.0" y="254.1" font-size="8.6" font-weight="bold" font-style="italic" fill="#f01818" text-anchor="end">sp<tspan font-size="5.5" dy="-3.3">3</tspan><tspan dy="3.3">/sp</tspan><tspan font-size="5.5" dy="-3.3">2</tspan><tspan dy="3.3" font-style="normal">=0.08</tspan></text>
<path d="M256.7,292.8 L256.7,292.5 L269.9,292.2 L278.3,291.7 L283.7,290.9 L287.3,289.7 L289.6,288.3 L292.0,285.8 L293.8,282.8 L297.4,274.8 L298.0,274.1 L298.6,273.8 L299.2,274.1 L299.8,274.8 L303.4,282.8 L304.6,284.9 L306.4,287.2 L308.2,288.7 L310.6,290.0 L313.0,290.7 L316.6,291.4 L325.6,292.2 L341.7,292.5 L436.3,292.8 Z" fill="url(#eg2)" stroke="#2fb060" stroke-width="0.8"/>
<path d="M256.7,292.8 L285.5,292.7 L297.4,292.4 L304.0,291.8 L310.0,290.4 L311.8,290.2 L313.6,290.4 L317.8,291.5 L320.8,292.0 L325.0,292.4 L331.5,292.6 L356.1,292.8 L436.3,292.8 Z" fill="#b060e0" fill-opacity="0.35" stroke="#b060e0" stroke-width="0.7"/>
<path d="M256.7,292.8 L303.4,292.6 L311.8,292.3 L323.8,291.5 L336.9,292.4 L348.9,292.6 L436.3,292.8 Z" fill="#d0a020" fill-opacity="0.35" stroke="#d0a020" stroke-width="0.7"/>
<path d="M256.7,292.8 L326.8,292.7 L358.5,292.2 L386.6,292.7 L436.3,292.8 Z" fill="#e06070" fill-opacity="0.35" stroke="#e06070" stroke-width="0.7"/>
<polyline points="256.7,292.4 269.3,292.0 277.7,291.4 283.1,290.6 285.5,289.9 287.3,289.1 289.6,287.6 292.0,284.9 293.8,281.8 297.4,273.4 298.0,272.6 298.6,272.2 299.2,272.4 299.8,273.1 304.0,281.5 305.2,283.1 307.0,284.7 308.2,285.3 311.8,286.4 316.0,288.2 318.4,288.9 329.7,290.8 336.3,291.5 344.1,291.8 359.1,291.9 388.4,292.5 436.3,292.7" fill="none" stroke="#2a2a2a" stroke-width="0.9" stroke-linejoin="round" stroke-linecap="round"/>
<line x1="256.60" y1="293.40" x2="436.30" y2="293.40" stroke="#999" stroke-width="0.8"/>
<rect x="256.60" y="267.30" width="179.70" height="27.70" fill="none" stroke="#2e2e2e" stroke-width="1.0"/>
<line x1="268.70" y1="295.00" x2="268.70" y2="297.20" stroke="#3a3a3a" stroke-width="0.9"/>
<line x1="292.64" y1="295.00" x2="292.64" y2="297.20" stroke="#3a3a3a" stroke-width="0.9"/>
<line x1="316.58" y1="295.00" x2="316.58" y2="297.20" stroke="#3a3a3a" stroke-width="0.9"/>
<line x1="340.52" y1="295.00" x2="340.52" y2="297.20" stroke="#3a3a3a" stroke-width="0.9"/>
<line x1="364.46" y1="295.00" x2="364.46" y2="297.20" stroke="#3a3a3a" stroke-width="0.9"/>
<line x1="388.40" y1="295.00" x2="388.40" y2="297.20" stroke="#3a3a3a" stroke-width="0.9"/>
<line x1="412.34" y1="295.00" x2="412.34" y2="297.20" stroke="#3a3a3a" stroke-width="0.9"/>
<line x1="436.28" y1="295.00" x2="436.28" y2="297.20" stroke="#3a3a3a" stroke-width="0.9"/>
<line x1="256.73" y1="295.00" x2="256.73" y2="296.40" stroke="#3a3a3a" stroke-width="0.9"/>
<line x1="280.67" y1="295.00" x2="280.67" y2="296.40" stroke="#3a3a3a" stroke-width="0.9"/>
<line x1="304.61" y1="295.00" x2="304.61" y2="296.40" stroke="#3a3a3a" stroke-width="0.9"/>
<line x1="328.55" y1="295.00" x2="328.55" y2="296.40" stroke="#3a3a3a" stroke-width="0.9"/>
<line x1="352.49" y1="295.00" x2="352.49" y2="296.40" stroke="#3a3a3a" stroke-width="0.9"/>
<line x1="376.43" y1="295.00" x2="376.43" y2="296.40" stroke="#3a3a3a" stroke-width="0.9"/>
<line x1="400.37" y1="295.00" x2="400.37" y2="296.40" stroke="#3a3a3a" stroke-width="0.9"/>
<line x1="424.31" y1="295.00" x2="424.31" y2="296.40" stroke="#3a3a3a" stroke-width="0.9"/>
<text x="435.60" y="276.60" font-size="8.5" text-anchor="end" font-weight="bold" fill="#111" textLength="47.50" lengthAdjust="spacingAndGlyphs">PG@PyC-90</text>
<text x="435.0" y="285.4" font-size="8.6" font-weight="bold" font-style="italic" fill="#f01818" text-anchor="end">sp<tspan font-size="5.5" dy="-3.3">3</tspan><tspan dy="3.3">/sp</tspan><tspan font-size="5.5" dy="-3.3">2</tspan><tspan dy="3.3" font-style="normal">=0.17</tspan></text>
<path d="M256.7,325.0 L256.7,324.7 L269.9,324.4 L278.3,323.9 L283.7,323.1 L287.3,322.0 L289.6,320.6 L292.0,318.1 L293.8,315.2 L297.4,307.4 L298.0,306.7 L298.6,306.4 L299.2,306.7 L299.8,307.4 L303.4,315.2 L304.6,317.3 L306.4,319.5 L308.2,321.0 L310.6,322.2 L313.0,323.0 L316.6,323.6 L325.6,324.4 L341.7,324.8 L436.3,325.0 Z" fill="url(#eg3)" stroke="#2fb060" stroke-width="0.8"/>
<path d="M256.7,325.0 L285.5,324.8 L297.4,324.5 L304.0,323.8 L310.0,322.2 L311.8,321.9 L313.6,322.2 L317.8,323.5 L320.8,324.0 L325.0,324.5 L331.5,324.7 L356.1,324.9 L436.3,325.0 Z" fill="#b060e0" fill-opacity="0.35" stroke="#b060e0" stroke-width="0.7"/>
<path d="M256.7,325.0 L303.4,324.8 L311.8,324.5 L323.8,323.7 L336.9,324.6 L348.9,324.8 L436.3,325.0 Z" fill="#d0a020" fill-opacity="0.35" stroke="#d0a020" stroke-width="0.7"/>
<path d="M256.7,325.0 L326.8,324.9 L358.5,324.4 L386.6,324.9 L436.3,325.0 Z" fill="#e06070" fill-opacity="0.35" stroke="#e06070" stroke-width="0.7"/>
<polyline points="256.7,324.6 269.3,324.2 277.7,323.7 283.1,322.8 285.5,322.1 287.3,321.3 289.6,319.8 292.0,317.2 293.8,314.2 297.4,305.9 298.0,305.1 298.6,304.7 299.2,304.9 299.8,305.6 304.0,313.7 305.2,315.2 307.0,316.7 308.2,317.2 312.4,318.4 316.0,320.1 318.4,320.9 320.8,321.5 330.3,323.0 336.3,323.7 344.1,324.0 359.1,324.1 388.4,324.7 436.3,324.9" fill="none" stroke="#2a2a2a" stroke-width="0.9" stroke-linejoin="round" stroke-linecap="round"/>
<line x1="256.60" y1="325.60" x2="436.30" y2="325.60" stroke="#999" stroke-width="0.8"/>
<rect x="256.60" y="299.40" width="179.70" height="28.50" fill="none" stroke="#2e2e2e" stroke-width="1.0"/>
<line x1="268.70" y1="327.90" x2="268.70" y2="330.10" stroke="#3a3a3a" stroke-width="0.9"/>
<line x1="292.64" y1="327.90" x2="292.64" y2="330.10" stroke="#3a3a3a" stroke-width="0.9"/>
<line x1="316.58" y1="327.90" x2="316.58" y2="330.10" stroke="#3a3a3a" stroke-width="0.9"/>
<line x1="340.52" y1="327.90" x2="340.52" y2="330.10" stroke="#3a3a3a" stroke-width="0.9"/>
<line x1="364.46" y1="327.90" x2="364.46" y2="330.10" stroke="#3a3a3a" stroke-width="0.9"/>
<line x1="388.40" y1="327.90" x2="388.40" y2="330.10" stroke="#3a3a3a" stroke-width="0.9"/>
<line x1="412.34" y1="327.90" x2="412.34" y2="330.10" stroke="#3a3a3a" stroke-width="0.9"/>
<line x1="436.28" y1="327.90" x2="436.28" y2="330.10" stroke="#3a3a3a" stroke-width="0.9"/>
<line x1="256.73" y1="327.90" x2="256.73" y2="329.30" stroke="#3a3a3a" stroke-width="0.9"/>
<line x1="280.67" y1="327.90" x2="280.67" y2="329.30" stroke="#3a3a3a" stroke-width="0.9"/>
<line x1="304.61" y1="327.90" x2="304.61" y2="329.30" stroke="#3a3a3a" stroke-width="0.9"/>
<line x1="328.55" y1="327.90" x2="328.55" y2="329.30" stroke="#3a3a3a" stroke-width="0.9"/>
<line x1="352.49" y1="327.90" x2="352.49" y2="329.30" stroke="#3a3a3a" stroke-width="0.9"/>
<line x1="376.43" y1="327.90" x2="376.43" y2="329.30" stroke="#3a3a3a" stroke-width="0.9"/>
<line x1="400.37" y1="327.90" x2="400.37" y2="329.30" stroke="#3a3a3a" stroke-width="0.9"/>
<line x1="424.31" y1="327.90" x2="424.31" y2="329.30" stroke="#3a3a3a" stroke-width="0.9"/>
<text x="435.60" y="308.70" font-size="8.5" text-anchor="end" font-weight="bold" fill="#111" textLength="51.70" lengthAdjust="spacingAndGlyphs">PG@PyC-120</text>
<text x="435.0" y="317.8" font-size="8.6" font-weight="bold" font-style="italic" fill="#f01818" text-anchor="end">sp<tspan font-size="5.5" dy="-3.3">3</tspan><tspan dy="3.3">/sp</tspan><tspan font-size="5.5" dy="-3.3">2</tspan><tspan dy="3.3" font-style="normal">=0.25</tspan></text>
<text x="268.70" y="338.50" font-size="8" text-anchor="middle" font-weight="bold" fill="#1a1a1a">282</text>
<text x="292.64" y="338.50" font-size="8" text-anchor="middle" font-weight="bold" fill="#1a1a1a">284</text>
<text x="316.58" y="338.50" font-size="8" text-anchor="middle" font-weight="bold" fill="#1a1a1a">286</text>
<text x="340.52" y="338.50" font-size="8" text-anchor="middle" font-weight="bold" fill="#1a1a1a">288</text>
<text x="364.46" y="338.50" font-size="8" text-anchor="middle" font-weight="bold" fill="#1a1a1a">290</text>
<text x="388.40" y="338.50" font-size="8" text-anchor="middle" font-weight="bold" fill="#1a1a1a">292</text>
<text x="412.34" y="338.50" font-size="8" text-anchor="middle" font-weight="bold" fill="#1a1a1a">294</text>
<text x="436.28" y="338.50" font-size="8" text-anchor="middle" font-weight="bold" fill="#1a1a1a">296</text>
<text x="259.90" y="210.60" font-size="8.6" text-anchor="start" font-weight="normal" fill="#111" textLength="17.00" lengthAdjust="spacingAndGlyphs">C 1s</text>
<text x="307.70" y="212.20" font-size="6.6" text-anchor="start" font-weight="normal" fill="#111" textLength="28.00" lengthAdjust="spacingAndGlyphs">C-C (sp²)</text>
<text x="318.60" y="218.60" font-size="6.6" text-anchor="start" font-weight="normal" fill="#111" textLength="34.00" lengthAdjust="spacingAndGlyphs">defect peak</text>
<text x="340.00" y="224.90" font-size="6.6" text-anchor="start" font-weight="normal" fill="#111" textLength="11.60" lengthAdjust="spacingAndGlyphs">C-O</text>
<text x="363.60" y="224.90" font-size="6.6" text-anchor="start" font-weight="normal" fill="#111" textLength="20.20" lengthAdjust="spacingAndGlyphs">O-C=O</text>
<line x1="309.00" y1="213.50" x2="302.50" y2="217.00" stroke="#111" stroke-width="0.8"/>
<path d="M302.50,217.00 L304.38,214.41 L305.70,216.86 Z" fill="#111"/>
<line x1="321.50" y1="220.00" x2="313.50" y2="224.50" stroke="#111" stroke-width="0.8"/>
<path d="M313.50,224.50 L315.33,221.87 L316.69,224.30 Z" fill="#111"/>
<line x1="338.50" y1="223.50" x2="326.50" y2="226.50" stroke="#111" stroke-width="0.8"/>
<path d="M326.50,226.50 L328.96,224.45 L329.63,227.15 Z" fill="#111"/>
<line x1="361.50" y1="224.00" x2="351.50" y2="227.50" stroke="#111" stroke-width="0.8"/>
<path d="M351.50,227.50 L353.76,225.23 L354.68,227.86 Z" fill="#111"/>
<text x="296.30" y="348.40" font-size="10.5" text-anchor="start" font-weight="bold" fill="#1a1a1a" textLength="99.40" lengthAdjust="spacingAndGlyphs">Binding energy (eV)</text>
<text x="469.20" y="203.40" font-size="12.5" text-anchor="start" font-weight="bold" fill="#1a1a1a">f</text>
<text x="477.20" y="208.30" font-size="8.8" text-anchor="start" font-weight="bold" fill="#1a1a1a" textLength="45.50" lengthAdjust="spacingAndGlyphs">PG preform</text>
<rect x="486.2" y="213.0" width="34.8" height="43.0" fill="#777" filter="url(#tf0)"/>
<rect x="486.2" y="213.0" width="34.8" height="43.0" fill="#000" filter="url(#tf0o)" opacity="0.09"/>
<rect x="532.70" y="202.50" width="2.60" height="76.80" fill="url(#fcb)"/>
<line x1="531.90" y1="202.50" x2="533.00" y2="202.50" stroke="#555" stroke-width="0.6"/>
<line x1="531.90" y1="279.30" x2="533.00" y2="279.30" stroke="#555" stroke-width="0.6"/>
<text x="536.40" y="207.60" font-size="7.0" text-anchor="start" font-weight="bold" fill="#1a1a1a" textLength="3.35" lengthAdjust="spacingAndGlyphs">0</text>
<text x="536.40" y="218.81" font-size="7.0" text-anchor="start" font-weight="bold" fill="#1a1a1a" textLength="6.70" lengthAdjust="spacingAndGlyphs">50</text>
<text x="536.40" y="230.02" font-size="7.0" text-anchor="start" font-weight="bold" fill="#1a1a1a" textLength="10.05" lengthAdjust="spacingAndGlyphs">100</text>
<text x="536.40" y="241.24" font-size="7.0" text-anchor="start" font-weight="bold" fill="#1a1a1a" textLength="10.05" lengthAdjust="spacingAndGlyphs">150</text>
<text x="536.40" y="252.45" font-size="7.0" text-anchor="start" font-weight="bold" fill="#1a1a1a" textLength="10.05" lengthAdjust="spacingAndGlyphs">200</text>
<text x="536.40" y="263.66" font-size="7.0" text-anchor="start" font-weight="bold" fill="#1a1a1a" textLength="10.05" lengthAdjust="spacingAndGlyphs">250</text>
<text x="536.40" y="274.87" font-size="7.0" text-anchor="start" font-weight="bold" fill="#1a1a1a" textLength="10.05" lengthAdjust="spacingAndGlyphs">300</text>
<text x="536.4" y="281.6" font-size="7" font-weight="bold" fill="#111">330<tspan font-weight="normal" font-size="6"> µm</tspan></text>
<text x="478.6" y="267.3" font-size="9" font-weight="bold" fill="#111" textLength="45.5" lengthAdjust="spacingAndGlyphs"><tspan font-style="italic">Sa</tspan>=15.6 µm</text>
<text x="478.6" y="277.5" font-size="9" font-weight="bold" fill="#111" textLength="45.5" lengthAdjust="spacingAndGlyphs"><tspan font-style="italic">Sq</tspan>=23.1 µm</text>
<text x="477.20" y="302.50" font-size="8.8" text-anchor="start" font-weight="bold" fill="#1a1a1a" textLength="48.20" lengthAdjust="spacingAndGlyphs">PG@PyC-60</text>
<rect x="486.2" y="309.0" width="34.8" height="41.69999999999999" fill="#777" filter="url(#tf1)"/>
<rect x="486.2" y="309.0" width="34.8" height="41.69999999999999" fill="#000" filter="url(#tf1o)" opacity="0.50"/>
<rect x="532.70" y="296.90" width="2.60" height="76.60" fill="url(#fcb)"/>
<line x1="531.90" y1="296.90" x2="533.00" y2="296.90" stroke="#555" stroke-width="0.6"/>
<line x1="531.90" y1="373.50" x2="533.00" y2="373.50" stroke="#555" stroke-width="0.6"/>
<text x="536.40" y="301.40" font-size="6.3" text-anchor="start" font-weight="bold" fill="#1a1a1a" textLength="3.00" lengthAdjust="spacingAndGlyphs">0</text>
<text x="536.40" y="307.30" font-size="6.3" text-anchor="start" font-weight="bold" fill="#1a1a1a" textLength="6.00" lengthAdjust="spacingAndGlyphs">20</text>
<text x="536.40" y="313.21" font-size="6.3" text-anchor="start" font-weight="bold" fill="#1a1a1a" textLength="6.00" lengthAdjust="spacingAndGlyphs">40</text>
<text x="536.40" y="319.11" font-size="6.3" text-anchor="start" font-weight="bold" fill="#1a1a1a" textLength="6.00" lengthAdjust="spacingAndGlyphs">60</text>
<text x="536.40" y="325.02" font-size="6.3" text-anchor="start" font-weight="bold" fill="#1a1a1a" textLength="6.00" lengthAdjust="spacingAndGlyphs">80</text>
<text x="536.40" y="330.92" font-size="6.3" text-anchor="start" font-weight="bold" fill="#1a1a1a" textLength="9.00" lengthAdjust="spacingAndGlyphs">100</text>
<text x="536.40" y="336.82" font-size="6.3" text-anchor="start" font-weight="bold" fill="#1a1a1a" textLength="9.00" lengthAdjust="spacingAndGlyphs">120</text>
<text x="536.40" y="342.73" font-size="6.3" text-anchor="start" font-weight="bold" fill="#1a1a1a" textLength="9.00" lengthAdjust="spacingAndGlyphs">140</text>
<text x="536.40" y="348.63" font-size="6.3" text-anchor="start" font-weight="bold" fill="#1a1a1a" textLength="9.00" lengthAdjust="spacingAndGlyphs">160</text>
<text x="536.40" y="354.54" font-size="6.3" text-anchor="start" font-weight="bold" fill="#1a1a1a" textLength="9.00" lengthAdjust="spacingAndGlyphs">180</text>
<text x="536.40" y="360.44" font-size="6.3" text-anchor="start" font-weight="bold" fill="#1a1a1a" textLength="9.00" lengthAdjust="spacingAndGlyphs">200</text>
<text x="536.40" y="366.34" font-size="6.3" text-anchor="start" font-weight="bold" fill="#1a1a1a" textLength="9.00" lengthAdjust="spacingAndGlyphs">220</text>
<text x="536.4" y="375.8" font-size="6.3" font-weight="bold" fill="#111">250<tspan font-weight="normal" font-size="5.3"> µm</tspan></text>
<text x="480.0" y="361.2" font-size="9" font-weight="bold" fill="#111" textLength="46.2" lengthAdjust="spacingAndGlyphs"><tspan font-style="italic">Sa</tspan>=31.2 µm</text>
<text x="480.0" y="371.7" font-size="9" font-weight="bold" fill="#111" textLength="46.2" lengthAdjust="spacingAndGlyphs"><tspan font-style="italic">Sq</tspan>=40.4 µm</text>
<text x="477.20" y="394.00" font-size="8.8" text-anchor="start" font-weight="bold" fill="#1a1a1a" textLength="48.20" lengthAdjust="spacingAndGlyphs">PG@PyC-90</text>
<rect x="486.2" y="398.4" width="34.8" height="43.30000000000001" fill="#777" filter="url(#tf2)"/>
<rect x="486.2" y="398.4" width="34.8" height="43.30000000000001" fill="#000" filter="url(#tf2o)" opacity="0.63"/>
<rect x="532.70" y="388.40" width="2.60" height="77.40" fill="url(#fcb)"/>
<line x1="531.90" y1="388.40" x2="533.00" y2="388.40" stroke="#555" stroke-width="0.6"/>
<line x1="531.90" y1="465.80" x2="533.00" y2="465.80" stroke="#555" stroke-width="0.6"/>
<text x="536.40" y="393.50" font-size="7.0" text-anchor="start" font-weight="bold" fill="#1a1a1a" textLength="3.35" lengthAdjust="spacingAndGlyphs">0</text>
<text x="536.40" y="403.39" font-size="7.0" text-anchor="start" font-weight="bold" fill="#1a1a1a" textLength="6.70" lengthAdjust="spacingAndGlyphs">50</text>
<text x="536.40" y="413.29" font-size="7.0" text-anchor="start" font-weight="bold" fill="#1a1a1a" textLength="10.05" lengthAdjust="spacingAndGlyphs">100</text>
<text x="536.40" y="423.18" font-size="7.0" text-anchor="start" font-weight="bold" fill="#1a1a1a" textLength="10.05" lengthAdjust="spacingAndGlyphs">150</text>
<text x="536.40" y="433.08" font-size="7.0" text-anchor="start" font-weight="bold" fill="#1a1a1a" textLength="10.05" lengthAdjust="spacingAndGlyphs">200</text>
<text x="536.40" y="442.97" font-size="7.0" text-anchor="start" font-weight="bold" fill="#1a1a1a" textLength="10.05" lengthAdjust="spacingAndGlyphs">250</text>
<text x="536.40" y="452.86" font-size="7.0" text-anchor="start" font-weight="bold" fill="#1a1a1a" textLength="10.05" lengthAdjust="spacingAndGlyphs">300</text>
<text x="536.40" y="462.76" font-size="7.0" text-anchor="start" font-weight="bold" fill="#1a1a1a" textLength="10.05" lengthAdjust="spacingAndGlyphs">350</text>
<text x="536.4" y="468.1" font-size="7" font-weight="bold" fill="#111">377<tspan font-weight="normal" font-size="6"> µm</tspan></text>
<text x="480.0" y="453.6" font-size="9" font-weight="bold" fill="#111" textLength="46.2" lengthAdjust="spacingAndGlyphs"><tspan font-style="italic">Sa</tspan>=44.1 µm</text>
<text x="480.0" y="463.7" font-size="9" font-weight="bold" fill="#111" textLength="46.2" lengthAdjust="spacingAndGlyphs"><tspan font-style="italic">Sq</tspan>=54.4 µm</text>
<text x="477.20" y="484.90" font-size="8.8" text-anchor="start" font-weight="bold" fill="#1a1a1a" textLength="52.70" lengthAdjust="spacingAndGlyphs">PG@PyC-120</text>
<rect x="486.2" y="491.4" width="34.8" height="42.60000000000002" fill="#777" filter="url(#tf3)"/>
<rect x="486.2" y="491.4" width="34.8" height="42.60000000000002" fill="#8a4a10" opacity="0.75" mask="url(#omask3)"/>
<rect x="486.2" y="491.4" width="34.8" height="42.60000000000002" fill="#000" filter="url(#tf3o)" opacity="0.9" mask="url(#omask3)"/>
<rect x="532.70" y="479.60" width="2.60" height="77.10" fill="url(#fcb)"/>
<line x1="531.90" y1="479.60" x2="533.00" y2="479.60" stroke="#555" stroke-width="0.6"/>
<line x1="531.90" y1="556.70" x2="533.00" y2="556.70" stroke="#555" stroke-width="0.6"/>
<text x="536.40" y="484.70" font-size="7.0" text-anchor="start" font-weight="bold" fill="#1a1a1a" textLength="3.35" lengthAdjust="spacingAndGlyphs">0</text>
<text x="536.40" y="494.23" font-size="7.0" text-anchor="start" font-weight="bold" fill="#1a1a1a" textLength="6.70" lengthAdjust="spacingAndGlyphs">50</text>
<text x="536.40" y="503.75" font-size="7.0" text-anchor="start" font-weight="bold" fill="#1a1a1a" textLength="10.05" lengthAdjust="spacingAndGlyphs">100</text>
<text x="536.40" y="513.28" font-size="7.0" text-anchor="start" font-weight="bold" fill="#1a1a1a" textLength="10.05" lengthAdjust="spacingAndGlyphs">150</text>
<text x="536.40" y="522.80" font-size="7.0" text-anchor="start" font-weight="bold" fill="#1a1a1a" textLength="10.05" lengthAdjust="spacingAndGlyphs">200</text>
<text x="536.40" y="532.33" font-size="7.0" text-anchor="start" font-weight="bold" fill="#1a1a1a" textLength="10.05" lengthAdjust="spacingAndGlyphs">250</text>
<text x="536.40" y="541.85" font-size="7.0" text-anchor="start" font-weight="bold" fill="#1a1a1a" textLength="10.05" lengthAdjust="spacingAndGlyphs">300</text>
<text x="536.40" y="551.38" font-size="7.0" text-anchor="start" font-weight="bold" fill="#1a1a1a" textLength="10.05" lengthAdjust="spacingAndGlyphs">350</text>
<text x="536.4" y="559.0" font-size="7" font-weight="bold" fill="#111">390<tspan font-weight="normal" font-size="6"> µm</tspan></text>
<text x="480.0" y="544.5" font-size="9" font-weight="bold" fill="#111" textLength="46.2" lengthAdjust="spacingAndGlyphs"><tspan font-style="italic">Sa</tspan>=51.9 µm</text>
<text x="480.0" y="554.4" font-size="9" font-weight="bold" fill="#111" textLength="46.2" lengthAdjust="spacingAndGlyphs"><tspan font-style="italic">Sq</tspan>=62.0 µm</text>
<rect x="597.00" y="221.00" width="66.00" height="39.20" fill="url(#dbg0)"/>
<rect x="597.00" y="221.00" width="66.00" height="39.20" fill="url(#dbg0v)"/>
<circle cx="627.0" cy="252.5" r="21.2" fill="#444" opacity="0.4"/>
<circle cx="627.0" cy="252.5" r="20.5" fill="#050505"/>
<rect x="597.00" y="260.20" width="66.00" height="18.80" fill="#050505"/>
<line x1="600.00" y1="260.20" x2="647.20" y2="260.20" stroke="#f5e020" stroke-width="1.1"/>
<line x1="647.20" y1="260.20" x2="652.30" y2="246.30" stroke="#f5e020" stroke-width="1.1"/>
<path d="M635.5,260.2 Q637.5,249.3 651.4,246.3" fill="none" stroke="#f5e020" stroke-width="1.1"/>
<text x="614.0" y="225.6" font-size="8.4" font-weight="bold" fill="#111" textLength="30.0" lengthAdjust="spacingAndGlyphs"><tspan font-style="italic">θ</tspan><tspan font-size="6" dy="1.8">1</tspan><tspan dy="-1.8">=111°</tspan></text>
<text x="622.9" y="250.5" font-size="9.5" font-weight="bold" fill="#f5e020"><tspan font-style="italic">θ</tspan><tspan font-size="6.5" dy="2">1</tspan></text>
<rect x="597.00" y="296.00" width="66.00" height="48.60" fill="url(#dbg1)"/>
<rect x="597.00" y="296.00" width="66.00" height="48.60" fill="url(#dbg1v)"/>
<circle cx="633.0" cy="334.0" r="21.5" fill="#444" opacity="0.4"/>
<circle cx="633.0" cy="334.0" r="20.8" fill="#050505"/>
<rect x="597.00" y="344.60" width="66.00" height="19.00" fill="#050505"/>
<line x1="602.70" y1="344.60" x2="649.70" y2="344.60" stroke="#f5e020" stroke-width="1.1"/>
<line x1="649.70" y1="344.60" x2="657.00" y2="333.70" stroke="#f5e020" stroke-width="1.1"/>
<path d="M638.5,344.6 Q640.5,337.0 656.5,334.0" fill="none" stroke="#f5e020" stroke-width="1.1"/>
<text x="617.0" y="306.0" font-size="8.4" font-weight="bold" fill="#111" textLength="31.0" lengthAdjust="spacingAndGlyphs"><tspan font-style="italic">θ</tspan><tspan font-size="6" dy="1.8">2</tspan><tspan dy="-1.8">=123°</tspan></text>
<text x="627.0" y="336.2" font-size="9.5" font-weight="bold" fill="#f5e020"><tspan font-style="italic">θ</tspan><tspan font-size="6.5" dy="2">2</tspan></text>
<rect x="598.20" y="386.00" width="64.80" height="53.70" fill="url(#dbg2)"/>
<rect x="598.20" y="386.00" width="64.80" height="53.70" fill="url(#dbg2v)"/>
<circle cx="630.3" cy="423.0" r="21.7" fill="#444" opacity="0.4"/>
<circle cx="630.3" cy="423.0" r="21.0" fill="#050505"/>
<rect x="598.20" y="439.70" width="64.80" height="20.90" fill="#050505"/>
<line x1="603.90" y1="439.70" x2="640.90" y2="439.70" stroke="#f5e020" stroke-width="1.1"/>
<line x1="640.90" y1="439.70" x2="654.00" y2="424.90" stroke="#f5e020" stroke-width="1.1"/>
<path d="M631.6,439.7 Q633.6,428.3 653.5,425.3" fill="none" stroke="#f5e020" stroke-width="1.1"/>
<text x="618.9" y="393.8" font-size="8.4" font-weight="bold" fill="#111" textLength="31.1" lengthAdjust="spacingAndGlyphs"><tspan font-style="italic">θ</tspan><tspan font-size="6" dy="1.8">3</tspan><tspan dy="-1.8">=131°</tspan></text>
<text x="626.8" y="428.9" font-size="9.5" font-weight="bold" fill="#f5e020"><tspan font-style="italic">θ</tspan><tspan font-size="6.5" dy="2">3</tspan></text>
<rect x="598.20" y="473.00" width="64.80" height="61.60" fill="url(#dbg3)"/>
<rect x="598.20" y="473.00" width="64.80" height="61.60" fill="url(#dbg3v)"/>
<circle cx="628.5" cy="517.5" r="22.2" fill="#444" opacity="0.4"/>
<circle cx="628.5" cy="517.5" r="21.5" fill="#050505"/>
<rect x="598.20" y="534.60" width="64.80" height="21.50" fill="#050505"/>
<line x1="603.40" y1="534.60" x2="640.40" y2="534.60" stroke="#f5e020" stroke-width="1.1"/>
<line x1="640.40" y1="534.60" x2="652.80" y2="518.00" stroke="#f5e020" stroke-width="1.1"/>
<path d="M630.1,534.6 Q632.1,521.4 652.3,518.4" fill="none" stroke="#f5e020" stroke-width="1.1"/>
<text x="616.5" y="491.0" font-size="8.4" font-weight="bold" fill="#111" textLength="31.8" lengthAdjust="spacingAndGlyphs"><tspan font-style="italic">θ</tspan><tspan font-size="6" dy="1.8">4</tspan><tspan dy="-1.8">=128°</tspan></text>
<text x="623.7" y="517.9" font-size="9.5" font-weight="bold" fill="#f5e020"><tspan font-style="italic">θ</tspan><tspan font-size="6.5" dy="2">4</tspan></text>
<text x="614.00" y="273.60" font-size="9.8" text-anchor="start" font-weight="bold" fill="#ffffff" textLength="31.50" lengthAdjust="spacingAndGlyphs">Preform</text>
<text x="568.40" y="202.10" font-size="8.6" text-anchor="start" font-weight="bold" fill="#1a1a1a" textLength="54.80" lengthAdjust="spacingAndGlyphs">Molten AZ91D</text>
<text x="581.40" y="211.90" font-size="8.6" text-anchor="start" font-weight="bold" fill="#1a1a1a" textLength="28.60" lengthAdjust="spacingAndGlyphs">droplet</text>
<line x1="600.20" y1="216.60" x2="613.60" y2="235.50" stroke="#ee1c1c" stroke-width="1.2"/>
<path d="M615.4,238.0 L610.6,233.9 L614.7,231.4 Z" fill="#ee1c1c"/>
<text x="625.40" y="545.80" font-size="10.2" text-anchor="start" font-weight="bold" fill="#ffffff" textLength="36.00" lengthAdjust="spacingAndGlyphs">500 µm</text>
<rect x="631.60" y="549.40" width="21.90" height="4.30" fill="#ffffff"/>
<text x="563.20" y="553.80" font-size="9.2" text-anchor="start" font-weight="bold" fill="#1a1a1a" textLength="23.30" lengthAdjust="spacingAndGlyphs">2 mm</text>
<rect x="561.50" y="558.30" width="27.50" height="2.60" fill="#050505"/>
<text x="14.00" y="389.00" font-size="12.5" text-anchor="start" font-weight="bold" fill="#1a1a1a">g</text>
<text x="32.93" y="463.10" font-size="11.2" text-anchor="middle" font-weight="bold" fill="#1a1a1a" textLength="67.50" lengthAdjust="spacingAndGlyphs" transform="rotate(-90 32.93 463.10)">Stress (kPa)</text>
<polyline points="46.2,531.3 74.9,531.0 118.0,528.5 132.4,526.6 138.1,523.8 143.9,520.2 149.6,514.7 155.4,507.8 172.6,478.7 178.4,467.6 181.2,460.7 187.0,444.1 189.9,433.0 191.9,420.5 189.9,430.2 188.4,444.1 187.0,455.1 182.7,496.7 181.2,507.8 178.4,516.1 175.5,521.6 169.8,525.8 161.1,527.7 132.4,529.7 74.9,531.9 46.2,532.7" fill="none" stroke="#a868e0" stroke-width="0.9" stroke-linejoin="round" stroke-linecap="round"/>
<polyline points="46.2,531.3 74.9,531.0 118.0,528.5 132.4,526.6 137.3,523.8 143.0,520.2 148.8,514.7 154.5,507.8 160.3,499.5 171.8,480.1 177.5,469.0 180.4,462.1 186.1,445.4 189.0,434.4 191.0,421.9 189.0,431.6 187.6,445.4 186.1,456.5 181.8,498.1 180.4,507.8 177.5,516.1 174.6,521.6 168.9,525.8 160.3,527.7 132.4,529.7 74.9,531.9 46.2,532.7" fill="none" stroke="#a868e0" stroke-width="0.9" stroke-linejoin="round" stroke-linecap="round"/>
<rect x="46.20" y="394.20" width="172.40" height="138.50" fill="none" stroke="#1a1a1a" stroke-width="1.1"/>
<line x1="46.20" y1="532.70" x2="46.20" y2="535.50" stroke="#1a1a1a" stroke-width="0.9"/>
<line x1="74.93" y1="532.70" x2="74.93" y2="535.50" stroke="#1a1a1a" stroke-width="0.9"/>
<line x1="103.67" y1="532.70" x2="103.67" y2="535.50" stroke="#1a1a1a" stroke-width="0.9"/>
<line x1="132.40" y1="532.70" x2="132.40" y2="535.50" stroke="#1a1a1a" stroke-width="0.9"/>
<line x1="161.13" y1="532.70" x2="161.13" y2="535.50" stroke="#1a1a1a" stroke-width="0.9"/>
<line x1="189.87" y1="532.70" x2="189.87" y2="535.50" stroke="#1a1a1a" stroke-width="0.9"/>
<line x1="218.60" y1="532.70" x2="218.60" y2="535.50" stroke="#1a1a1a" stroke-width="0.9"/>
<line x1="60.57" y1="532.70" x2="60.57" y2="534.30" stroke="#1a1a1a" stroke-width="0.9"/>
<line x1="89.30" y1="532.70" x2="89.30" y2="534.30" stroke="#1a1a1a" stroke-width="0.9"/>
<line x1="118.03" y1="532.70" x2="118.03" y2="534.30" stroke="#1a1a1a" stroke-width="0.9"/>
<line x1="146.77" y1="532.70" x2="146.77" y2="534.30" stroke="#1a1a1a" stroke-width="0.9"/>
<line x1="175.50" y1="532.70" x2="175.50" y2="534.30" stroke="#1a1a1a" stroke-width="0.9"/>
<line x1="204.23" y1="532.70" x2="204.23" y2="534.30" stroke="#1a1a1a" stroke-width="0.9"/>
<line x1="46.20" y1="532.70" x2="43.40" y2="532.70" stroke="#1a1a1a" stroke-width="0.9"/>
<line x1="46.20" y1="505.00" x2="43.40" y2="505.00" stroke="#1a1a1a" stroke-width="0.9"/>
<line x1="46.20" y1="477.30" x2="43.40" y2="477.30" stroke="#1a1a1a" stroke-width="0.9"/>
<line x1="46.20" y1="449.60" x2="43.40" y2="449.60" stroke="#1a1a1a" stroke-width="0.9"/>
<line x1="46.20" y1="421.90" x2="43.40" y2="421.90" stroke="#1a1a1a" stroke-width="0.9"/>
<line x1="46.20" y1="394.20" x2="43.40" y2="394.20" stroke="#1a1a1a" stroke-width="0.9"/>
<line x1="46.20" y1="518.85" x2="44.60" y2="518.85" stroke="#1a1a1a" stroke-width="0.9"/>
<line x1="46.20" y1="491.15" x2="44.60" y2="491.15" stroke="#1a1a1a" stroke-width="0.9"/>
<line x1="46.20" y1="463.45" x2="44.60" y2="463.45" stroke="#1a1a1a" stroke-width="0.9"/>
<line x1="46.20" y1="435.75" x2="44.60" y2="435.75" stroke="#1a1a1a" stroke-width="0.9"/>
<line x1="46.20" y1="408.05" x2="44.60" y2="408.05" stroke="#1a1a1a" stroke-width="0.9"/>
<text x="46.20" y="545.00" font-size="8.2" text-anchor="middle" font-weight="bold" fill="#1a1a1a">0.0</text>
<text x="74.93" y="545.00" font-size="8.2" text-anchor="middle" font-weight="bold" fill="#1a1a1a">0.1</text>
<text x="103.67" y="545.00" font-size="8.2" text-anchor="middle" font-weight="bold" fill="#1a1a1a">0.2</text>
<text x="132.40" y="545.00" font-size="8.2" text-anchor="middle" font-weight="bold" fill="#1a1a1a">0.3</text>
<text x="161.13" y="545.00" font-size="8.2" text-anchor="middle" font-weight="bold" fill="#1a1a1a">0.4</text>
<text x="189.87" y="545.00" font-size="8.2" text-anchor="middle" font-weight="bold" fill="#1a1a1a">0.5</text>
<text x="218.60" y="545.00" font-size="8.2" text-anchor="middle" font-weight="bold" fill="#1a1a1a">0.6</text>
<text x="42.20" y="535.90" font-size="9.0" text-anchor="end" font-weight="bold" fill="#1a1a1a">0</text>
<text x="42.20" y="508.20" font-size="9.0" text-anchor="end" font-weight="bold" fill="#1a1a1a">1</text>
<text x="42.20" y="480.50" font-size="9.0" text-anchor="end" font-weight="bold" fill="#1a1a1a">2</text>
<text x="42.20" y="452.80" font-size="9.0" text-anchor="end" font-weight="bold" fill="#1a1a1a">3</text>
<text x="42.20" y="425.10" font-size="9.0" text-anchor="end" font-weight="bold" fill="#1a1a1a">4</text>
<text x="42.20" y="397.40" font-size="9.0" text-anchor="end" font-weight="bold" fill="#1a1a1a">5</text>
<line x1="51.20" y1="403.80" x2="67.40" y2="403.80" stroke="#a868e0" stroke-width="1.2"/>
<text x="69.70" y="406.80" font-size="9.0" text-anchor="start" font-weight="bold" fill="#222" textLength="50.00" lengthAdjust="spacingAndGlyphs">PG preform</text>
<text x="132.30" y="557.20" font-size="11.2" text-anchor="middle" font-weight="bold" fill="#1a1a1a" textLength="33.30" lengthAdjust="spacingAndGlyphs">Strain</text>
<text x="232.30" y="392.60" font-size="12.5" text-anchor="start" font-weight="bold" fill="#1a1a1a">h</text>
<text x="242.63" y="461.00" font-size="11.2" text-anchor="middle" font-weight="bold" fill="#1a1a1a" textLength="67.50" lengthAdjust="spacingAndGlyphs" transform="rotate(-90 242.63 461.00)">Stress (kPa)</text>
<polyline points="265.0,530.3 267.8,530.1 270.6,529.7 273.4,529.6 276.2,529.1 279.0,529.0 280.4,528.6 283.2,528.7 284.6,528.3 286.0,528.3 288.9,527.2 291.8,527.8 293.2,527.4 294.6,526.2 296.1,526.8 298.9,526.1 300.4,526.1 301.8,525.6 303.2,524.9 304.7,525.3 306.1,524.2 307.5,524.2 308.9,524.7 310.4,524.0 311.8,523.6 313.2,523.6 316.1,522.6 317.5,522.5 319.0,521.4 320.6,521.5 322.1,520.7 323.6,521.6 326.6,520.4 328.1,519.3 329.6,519.9 331.2,518.7 332.8,519.0 337.3,517.5 338.6,516.3 339.9,516.6 341.2,515.7 343.8,515.0 345.4,513.7 347.0,513.4 348.6,512.8 350.1,511.9 351.7,512.5 354.9,510.9 356.4,510.4 358.0,510.4 359.6,508.7 362.7,508.5 365.9,507.2 367.5,506.4 369.0,506.0 370.6,506.3 372.2,505.5 373.8,506.0 376.9,505.4 378.5,504.1 380.1,504.0 381.7,503.1 383.2,503.1 384.8,502.3 388.0,502.7 389.5,502.0 391.1,501.0 392.9,500.7 394.6,501.4 396.4,500.0 398.1,500.7 399.9,500.3 401.6,498.7 403.1,499.7 406.0,498.3 408.9,498.0 410.3,497.5 410.3,498.0 408.8,498.4 407.3,497.9 405.8,497.8 404.3,499.2 401.0,499.5 399.3,499.0 397.7,499.3 396.4,501.1 395.1,501.1 393.7,501.9 392.8,503.9 391.8,504.2 390.8,506.1 389.8,506.6 388.7,510.2 388.1,510.7 387.5,512.8 384.3,521.0 383.8,522.9 380.6,527.2 379.3,527.1 378.0,528.2 375.4,529.7 372.2,529.8 370.6,530.2 369.0,530.0 363.3,530.3 340.8,530.3 339.4,530.2 335.2,530.3 333.8,530.2 332.4,530.3 311.3,530.3 309.9,530.2 308.5,530.3 286.1,530.3 284.7,530.2 265.0,530.3" fill="none" stroke="#d9a22a" stroke-width="1.2" stroke-linejoin="round" stroke-linecap="round"/>
<polyline points="265.0,530.2 266.4,530.2 269.3,529.6 272.2,529.2 275.0,528.5 277.9,528.4 279.3,527.8 280.8,527.9 282.3,526.8 283.8,527.3 285.3,527.1 286.8,526.0 289.8,525.5 291.3,524.7 294.2,524.1 295.7,524.6 297.1,524.2 298.6,524.6 303.0,523.8 304.4,523.5 305.9,522.3 307.3,522.3 308.8,523.5 311.7,522.8 316.1,522.4 317.5,522.0 319.0,522.5 321.9,521.7 323.4,522.7 324.8,522.3 326.3,522.6 327.8,521.8 329.2,522.1 330.7,521.6 332.2,522.2 333.7,521.2 335.2,521.7 336.7,521.4 339.7,520.4 341.2,520.9 342.8,520.5 344.3,520.6 345.9,519.4 349.1,518.8 350.7,518.9 352.2,517.6 353.8,517.6 355.4,516.3 357.0,515.8 358.5,516.3 361.7,514.8 364.8,515.2 366.4,514.1 368.0,514.0 369.6,513.5 371.1,513.3 372.7,512.4 374.3,513.2 377.5,511.7 380.6,510.7 382.2,511.2 383.8,510.6 385.3,509.4 386.9,509.2 388.5,508.6 391.1,506.7 392.4,507.2 393.7,505.8 395.1,505.8 396.4,504.4 399.0,503.1 400.3,503.0 401.6,502.1 402.9,502.1 405.6,500.4 406.9,499.2 408.6,499.6 410.3,498.0 410.3,498.5 410.0,499.0 409.6,501.8 408.4,507.1 407.4,512.8 407.0,513.6 405.6,521.0 404.9,521.4 404.3,523.2 403.6,524.1 402.9,526.2 400.7,528.1 399.5,528.8 398.1,529.0 395.2,529.9 393.7,530.3 392.2,530.0 390.7,530.3 387.7,530.3 377.6,530.3 374.8,530.1 373.4,530.3 369.2,530.2 367.8,530.3 338.2,530.2 336.8,530.3 305.8,530.3 304.4,530.1 303.0,530.3 296.0,530.2 290.3,530.3 288.9,530.2 286.1,530.3 272.0,530.2 265.0,530.3" fill="none" stroke="#f04a4a" stroke-width="1.0" stroke-linejoin="round" stroke-linecap="round"/>
<polyline points="265.0,530.3 269.3,529.6 272.2,529.5 273.6,529.0 282.3,528.2 283.8,527.9 285.3,526.8 286.8,526.9 288.3,526.2 292.9,525.4 294.4,524.3 296.0,524.8 297.6,523.5 299.2,523.2 300.7,524.2 302.3,524.6 303.9,523.9 305.5,525.0 307.0,523.9 308.5,524.8 310.0,523.3 311.5,522.7 313.0,523.3 314.5,522.0 316.0,522.4 317.5,521.0 320.7,520.7 322.3,520.0 323.9,520.2 325.4,519.6 326.7,519.6 328.1,518.7 329.4,518.8 330.7,518.0 332.0,516.5 333.3,517.0 334.6,516.3 335.9,515.2 337.3,514.5 338.6,513.3 340.3,512.9 343.8,511.5 345.1,511.4 346.5,510.4 347.8,510.3 349.1,509.4 350.4,509.1 351.7,507.4 353.0,507.8 354.3,506.7 356.1,506.3 357.8,505.3 359.6,505.4 360.9,503.9 362.2,503.2 363.5,501.9 364.8,500.1 366.2,499.5 367.5,499.3 368.8,497.4 370.1,497.4 371.4,496.4 372.7,495.7 374.0,494.2 376.7,492.7 378.0,492.2 379.3,490.4 380.6,490.2 381.9,488.9 383.2,488.6 384.5,487.2 387.2,485.2 388.5,485.0 389.8,483.2 391.1,482.8 392.4,481.7 393.7,480.2 395.1,479.8 396.4,478.2 397.7,478.3 400.3,474.9 401.6,474.4 404.3,472.6 405.6,471.1 406.9,471.0 409.2,467.7 410.3,467.7 408.5,491.8 407.3,503.6 406.2,511.3 405.8,515.6 404.7,519.0 403.9,523.2 403.5,523.6 402.4,526.2 400.3,528.9 398.6,529.1 396.8,529.8 392.0,530.3 387.4,530.1 381.6,530.3 370.4,530.2 369.0,530.3 353.5,530.3 352.1,530.1 349.3,530.3 314.2,530.2 308.6,530.3 307.2,530.2 305.8,530.3 279.1,530.3 276.2,530.2 273.4,530.3 272.0,530.1 265.0,530.3" fill="none" stroke="#2d6fe6" stroke-width="1.1" stroke-linejoin="round" stroke-linecap="round"/>
<polyline points="265.0,530.2 271.0,529.3 272.5,529.3 274.0,529.1 275.5,528.6 276.8,528.4 278.1,527.7 280.8,525.3 282.1,525.4 283.4,523.7 284.7,523.0 286.0,523.6 287.3,521.8 288.6,522.0 290.0,521.0 291.3,519.2 292.6,518.4 293.9,518.3 295.2,516.8 298.1,516.4 299.7,515.5 301.3,515.6 302.8,515.0 304.4,515.6 306.0,514.8 309.1,513.7 310.7,512.4 312.3,513.0 314.9,510.9 317.5,509.3 318.9,509.1 321.5,507.3 322.8,507.1 325.4,505.2 328.1,504.7 329.4,503.6 330.7,502.1 332.0,501.9 333.3,501.4 337.3,499.4 340.3,498.8 342.1,497.8 343.8,497.6 345.1,496.6 346.5,494.9 349.1,493.3 351.7,492.2 353.0,491.3 354.3,491.6 357.0,489.7 359.6,489.4 360.9,487.8 363.5,487.9 364.8,486.5 366.2,486.6 367.5,485.8 368.8,484.5 370.1,483.6 371.4,483.9 372.7,482.7 374.0,481.9 378.0,480.7 379.3,480.1 380.6,479.2 381.9,477.7 383.2,477.3 384.5,476.2 385.9,475.8 387.2,474.9 388.5,473.7 389.8,473.0 391.8,473.2 393.7,474.6 396.4,472.8 400.3,473.1 401.6,474.8 403.6,474.1 405.6,473.6 406.7,471.8 407.9,470.8 409.1,470.4 410.3,468.6 409.3,478.7 409.1,479.0 408.6,484.5 407.4,494.1 406.7,498.1 406.5,500.6 406.0,502.6 405.8,505.1 405.6,505.4 405.3,506.9 404.7,510.8 404.4,511.3 403.5,516.8 402.4,518.4 401.4,522.0 400.8,523.0 400.3,524.7 399.0,525.2 396.4,528.1 394.6,528.9 389.6,530.0 388.1,529.8 383.6,530.3 377.8,530.2 375.0,530.3 373.6,530.1 372.1,530.3 359.5,530.3 358.0,530.1 356.6,530.3 310.1,530.2 298.8,530.3 297.4,530.2 296.0,530.3 294.6,530.1 293.2,530.3 284.7,530.2 283.3,530.3 273.5,530.2 265.0,530.3" fill="none" stroke="#ff3c9c" stroke-width="1.3" stroke-linejoin="round" stroke-linecap="round"/>
<polyline points="265.0,530.3 267.9,530.2 269.4,529.9 270.8,530.0 272.3,529.7 275.2,529.8 276.7,529.5 281.1,529.4 282.5,529.1 285.4,529.2 288.4,528.8 292.7,528.7 294.2,528.1 295.7,527.9 297.1,527.2 300.0,528.0 301.5,527.5 303.0,526.3 304.4,526.7 305.7,526.0 307.0,526.3 309.7,524.8 311.0,523.8 313.6,523.2 314.9,522.5 316.2,522.3 317.5,521.1 318.9,520.7 320.2,520.6 321.5,518.9 325.4,516.8 326.7,515.8 328.1,514.3 329.4,513.8 330.7,512.0 332.0,511.6 333.3,509.8 337.1,507.4 338.2,507.0 339.3,505.0 340.4,505.3 341.6,503.3 342.7,503.5 345.1,501.1 347.8,499.6 349.1,497.9 350.2,497.6 351.3,495.5 352.5,495.6 353.6,494.5 354.7,493.7 355.8,491.9 357.0,490.9 358.3,490.4 360.9,488.6 361.9,486.7 363.9,485.4 364.8,483.2 365.6,482.7 366.4,481.6 368.0,478.2 369.6,475.6 371.1,472.5 372.7,470.0 373.4,469.7 374.0,467.6 374.7,467.0 375.4,465.3 376.1,464.4 376.9,463.1 379.1,458.2 379.9,457.4 380.6,455.7 381.4,455.1 382.1,452.7 382.9,452.2 383.6,450.5 384.4,449.3 385.1,448.2 385.9,447.5 386.4,446.2 386.9,444.0 387.4,443.5 388.5,440.3 389.4,439.0 390.2,437.2 391.1,436.7 392.4,435.3 395.1,433.9 396.4,432.5 397.7,431.9 399.0,431.1 400.3,429.8 401.6,429.6 403.4,428.5 405.1,428.0 406.9,428.5 408.6,426.9 410.3,425.8 407.4,443.5 406.7,450.6 405.1,463.5 404.6,469.2 403.9,473.7 403.2,480.6 403.0,480.9 402.5,486.6 402.3,486.9 401.5,493.8 401.3,494.0 400.7,499.5 400.5,499.9 399.8,505.6 399.5,506.9 399.3,507.3 399.0,509.4 397.6,515.9 396.7,518.1 396.3,519.8 395.0,523.6 393.3,525.6 392.4,527.6 391.1,528.2 389.8,528.1 387.2,529.4 385.7,529.7 381.3,530.1 378.3,530.1 376.8,530.3 373.9,530.2 372.5,530.3 355.5,530.2 354.1,530.3 352.7,530.2 351.3,530.3 340.0,530.2 338.6,530.3 314.5,530.3 311.7,530.1 310.3,530.3 290.5,530.3 287.6,530.2 280.6,530.3 279.1,530.1 270.7,530.3 269.2,530.1 265.0,530.3" fill="none" stroke="#8a3ff0" stroke-width="1.6" stroke-linejoin="round" stroke-linecap="round"/>
<polyline points="265.0,530.3 266.6,529.8 268.2,529.8 272.9,528.9 274.2,528.2 275.5,527.8 276.8,526.6 279.5,525.9 280.8,527.8 282.1,528.2 283.2,527.8 284.4,526.7 285.5,525.9 287.8,523.2 290.1,521.7 291.3,519.7 292.3,519.3 294.2,517.2 295.2,515.5 297.2,513.8 298.2,512.1 300.1,510.6 301.1,508.7 303.1,506.5 304.1,505.9 305.1,503.9 308.0,500.9 309.0,498.8 310.0,498.7 311.0,496.7 312.0,495.7 313.9,492.1 314.9,491.3 315.8,490.2 316.7,488.2 317.5,488.2 320.2,482.9 322.5,480.2 328.3,467.2 329.1,466.7 329.9,465.2 330.7,464.2 331.2,463.2 331.7,461.0 332.3,460.4 332.8,458.2 334.6,455.6 335.9,455.6 337.9,454.6 339.9,454.1 342.8,450.2 345.8,448.9 347.8,447.5 349.6,449.6 350.7,451.7 351.9,451.9 353.0,453.1 355.0,453.1 357.0,452.4 359.6,452.7 361.2,451.4 362.7,448.9 364.8,446.3 366.2,445.7 367.5,444.4 368.8,443.9 369.8,443.0 370.8,440.7 372.7,438.4 374.0,437.9 375.4,437.0 376.7,436.7 378.0,435.6 381.9,433.8 383.2,432.5 384.5,432.3 385.9,431.0 387.2,430.9 388.5,430.5 389.8,429.7 391.1,427.9 392.4,427.4 393.7,427.9 395.1,427.1 396.4,426.7 398.1,425.1 399.9,425.2 401.6,423.8 403.4,424.2 405.1,423.6 406.9,422.4 408.0,421.0 409.2,421.2 410.3,420.7 410.3,420.2 407.9,422.1 406.7,423.9 405.5,425.3 404.3,425.6 402.9,426.2 401.6,428.2 400.3,428.3 397.7,429.9 395.1,433.0 393.7,433.6 391.8,436.1 390.6,439.3 389.0,447.4 384.8,494.6 383.6,503.6 383.2,507.8 383.0,508.1 382.8,510.8 381.7,518.1 380.8,520.3 380.4,523.0 379.6,525.9 378.2,526.3 376.8,527.7 375.4,528.8 370.6,529.7 369.0,530.2 367.5,530.3 346.4,530.3 343.6,530.1 342.2,530.3 321.1,530.3 319.7,530.2 318.3,530.3 298.7,530.3 295.9,530.1 293.1,530.3 280.4,530.3 279.0,530.1 277.6,530.3 270.6,530.3 269.2,530.1 265.0,530.3" fill="none" stroke="#3cb86e" stroke-width="1.1" stroke-linejoin="round" stroke-linecap="round"/>
<rect x="266.40" y="391.40" width="172.20" height="138.90" fill="none" stroke="#1a1a1a" stroke-width="1.1"/>
<line x1="266.40" y1="530.30" x2="266.40" y2="533.10" stroke="#1a1a1a" stroke-width="0.9"/>
<line x1="295.10" y1="530.30" x2="295.10" y2="533.10" stroke="#1a1a1a" stroke-width="0.9"/>
<line x1="323.80" y1="530.30" x2="323.80" y2="533.10" stroke="#1a1a1a" stroke-width="0.9"/>
<line x1="352.50" y1="530.30" x2="352.50" y2="533.10" stroke="#1a1a1a" stroke-width="0.9"/>
<line x1="381.20" y1="530.30" x2="381.20" y2="533.10" stroke="#1a1a1a" stroke-width="0.9"/>
<line x1="409.90" y1="530.30" x2="409.90" y2="533.10" stroke="#1a1a1a" stroke-width="0.9"/>
<line x1="438.60" y1="530.30" x2="438.60" y2="533.10" stroke="#1a1a1a" stroke-width="0.9"/>
<line x1="280.75" y1="530.30" x2="280.75" y2="531.90" stroke="#1a1a1a" stroke-width="0.9"/>
<line x1="309.45" y1="530.30" x2="309.45" y2="531.90" stroke="#1a1a1a" stroke-width="0.9"/>
<line x1="338.15" y1="530.30" x2="338.15" y2="531.90" stroke="#1a1a1a" stroke-width="0.9"/>
<line x1="366.85" y1="530.30" x2="366.85" y2="531.90" stroke="#1a1a1a" stroke-width="0.9"/>
<line x1="395.55" y1="530.30" x2="395.55" y2="531.90" stroke="#1a1a1a" stroke-width="0.9"/>
<line x1="424.25" y1="530.30" x2="424.25" y2="531.90" stroke="#1a1a1a" stroke-width="0.9"/>
<line x1="266.40" y1="530.30" x2="263.60" y2="530.30" stroke="#1a1a1a" stroke-width="0.9"/>
<line x1="266.40" y1="502.52" x2="263.60" y2="502.52" stroke="#1a1a1a" stroke-width="0.9"/>
<line x1="266.40" y1="474.74" x2="263.60" y2="474.74" stroke="#1a1a1a" stroke-width="0.9"/>
<line x1="266.40" y1="446.96" x2="263.60" y2="446.96" stroke="#1a1a1a" stroke-width="0.9"/>
<line x1="266.40" y1="419.18" x2="263.60" y2="419.18" stroke="#1a1a1a" stroke-width="0.9"/>
<line x1="266.40" y1="391.40" x2="263.60" y2="391.40" stroke="#1a1a1a" stroke-width="0.9"/>
<line x1="266.40" y1="516.41" x2="264.80" y2="516.41" stroke="#1a1a1a" stroke-width="0.9"/>
<line x1="266.40" y1="488.63" x2="264.80" y2="488.63" stroke="#1a1a1a" stroke-width="0.9"/>
<line x1="266.40" y1="460.85" x2="264.80" y2="460.85" stroke="#1a1a1a" stroke-width="0.9"/>
<line x1="266.40" y1="433.07" x2="264.80" y2="433.07" stroke="#1a1a1a" stroke-width="0.9"/>
<line x1="266.40" y1="405.29" x2="264.80" y2="405.29" stroke="#1a1a1a" stroke-width="0.9"/>
<text x="266.40" y="541.60" font-size="8.2" text-anchor="middle" font-weight="bold" fill="#1a1a1a">0.0</text>
<text x="295.10" y="541.60" font-size="8.2" text-anchor="middle" font-weight="bold" fill="#1a1a1a">0.1</text>
<text x="323.80" y="541.60" font-size="8.2" text-anchor="middle" font-weight="bold" fill="#1a1a1a">0.2</text>
<text x="352.50" y="541.60" font-size="8.2" text-anchor="middle" font-weight="bold" fill="#1a1a1a">0.3</text>
<text x="381.20" y="541.60" font-size="8.2" text-anchor="middle" font-weight="bold" fill="#1a1a1a">0.4</text>
<text x="409.90" y="541.60" font-size="8.2" text-anchor="middle" font-weight="bold" fill="#1a1a1a">0.5</text>
<text x="438.60" y="541.60" font-size="8.2" text-anchor="middle" font-weight="bold" fill="#1a1a1a">0.6</text>
<text x="262.30" y="533.50" font-size="9.2" text-anchor="end" font-weight="bold" fill="#1a1a1a">0</text>
<text x="262.30" y="505.72" font-size="9.2" text-anchor="end" font-weight="bold" fill="#1a1a1a">30</text>
<text x="262.30" y="477.94" font-size="9.2" text-anchor="end" font-weight="bold" fill="#1a1a1a">60</text>
<text x="262.30" y="450.16" font-size="9.2" text-anchor="end" font-weight="bold" fill="#1a1a1a">90</text>
<text x="262.30" y="422.38" font-size="9.2" text-anchor="end" font-weight="bold" fill="#1a1a1a">120</text>
<text x="262.30" y="394.60" font-size="9.2" text-anchor="end" font-weight="bold" fill="#1a1a1a">150</text>
<line x1="270.20" y1="398.00" x2="286.70" y2="398.00" stroke="#f04a4a" stroke-width="1.3"/>
<text x="288.60" y="400.90" font-size="7.8" text-anchor="start" font-weight="bold" fill="#222" textLength="41.70" lengthAdjust="spacingAndGlyphs">PG@PyC-60</text>
<line x1="270.20" y1="407.20" x2="286.70" y2="407.20" stroke="#2d6fe6" stroke-width="1.3"/>
<text x="288.60" y="410.10" font-size="7.8" text-anchor="start" font-weight="bold" fill="#222" textLength="41.70" lengthAdjust="spacingAndGlyphs">PG@PyC-90</text>
<line x1="270.20" y1="416.40" x2="286.70" y2="416.40" stroke="#3cb86e" stroke-width="1.3"/>
<text x="288.60" y="419.30" font-size="7.8" text-anchor="start" font-weight="bold" fill="#222" textLength="45.60" lengthAdjust="spacingAndGlyphs">PG@PyC-120</text>
<line x1="270.20" y1="425.60" x2="286.70" y2="425.60" stroke="#d9a22a" stroke-width="1.3"/>
<text x="288.60" y="428.50" font-size="7.8" text-anchor="start" font-weight="bold" fill="#222" textLength="24.20" lengthAdjust="spacingAndGlyphs">PyC-60</text>
<line x1="270.20" y1="434.80" x2="286.70" y2="434.80" stroke="#ff3c9c" stroke-width="1.3"/>
<text x="288.60" y="437.70" font-size="7.8" text-anchor="start" font-weight="bold" fill="#222" textLength="24.20" lengthAdjust="spacingAndGlyphs">PyC-90</text>
<line x1="270.20" y1="444.00" x2="286.70" y2="444.00" stroke="#8a3ff0" stroke-width="1.9"/>
<text x="288.60" y="446.90" font-size="7.8" text-anchor="start" font-weight="bold" fill="#222" textLength="28.10" lengthAdjust="spacingAndGlyphs">PyC-120</text>
<text x="352.80" y="556.50" font-size="11.2" text-anchor="middle" font-weight="bold" fill="#1a1a1a" textLength="32.50" lengthAdjust="spacingAndGlyphs">Strain</text>
<text x="16.30" y="598.50" font-size="13" text-anchor="start" font-weight="bold" fill="#1a1a1a">i</text>
<text x="137.90" y="597.50" font-size="10.3" text-anchor="start" font-weight="bold" fill="#f01414" textLength="82.60" lengthAdjust="spacingAndGlyphs">Heating process</text>
<text x="250.3" y="597.5" font-size="10.3" font-weight="bold" fill="#f01414" textLength="131.2" lengthAdjust="spacingAndGlyphs">Stage temperature: 180 <tspan font-size="9.5">℃</tspan></text>
<text x="113.60" y="622.30" font-size="8.2" text-anchor="middle" font-weight="bold" fill="#1a1a1a">0 s</text>
<rect x="97.10" y="631.20" width="33.00" height="30.00" fill="url(#thbg0)"/>
<path d="M108.3,659.0 L108.3,648.5 Q109.8,647.7 111.3,648.2 L121.5,648.7 L121.5,659.0 Z" fill="url(#thsamp0)"/>
<rect x="105.02" y="631.20" width="3.00" height="18.60" fill="#2c0848" opacity="0.6"/>
<rect x="122.18" y="631.20" width="3.00" height="18.60" fill="#2c0848" opacity="0.6"/>
<rect x="97.10" y="658.90" width="33.00" height="2.30" fill="#ffec10"/>
<rect x="107.00" y="657.90" width="13.20" height="1.10" fill="#ffc020" opacity="0.9"/>
<rect x="97.10" y="669.90" width="33.00" height="29.60" fill="url(#thbg1)"/>
<path d="M108.3,697.3 L108.3,687.0 Q109.8,686.2 111.3,686.7 L121.5,687.2 L121.5,697.3 Z" fill="url(#thsamp0)"/>
<rect x="105.02" y="669.90" width="3.00" height="18.35" fill="#2c0848" opacity="0.6"/>
<rect x="122.18" y="669.90" width="3.00" height="18.35" fill="#2c0848" opacity="0.6"/>
<rect x="97.10" y="697.20" width="33.00" height="2.30" fill="#ffec10"/>
<rect x="107.00" y="696.20" width="13.20" height="1.10" fill="#ffc020" opacity="0.9"/>
<rect x="97.10" y="709.50" width="33.00" height="29.80" fill="url(#thbg2)"/>
<path d="M108.3,737.1 L108.3,726.7 Q109.8,725.9 111.3,726.4 L121.5,726.9 L121.5,737.1 Z" fill="url(#thsamp0)"/>
<rect x="105.02" y="709.50" width="3.00" height="18.48" fill="#2c0848" opacity="0.6"/>
<rect x="122.18" y="709.50" width="3.00" height="18.48" fill="#2c0848" opacity="0.6"/>
<rect x="97.10" y="737.00" width="33.00" height="2.30" fill="#ffec10"/>
<rect x="107.00" y="736.00" width="13.20" height="1.10" fill="#ffc020" opacity="0.9"/>
<rect x="97.10" y="751.20" width="33.00" height="29.60" fill="url(#thbg3)"/>
<path d="M108.3,778.6 L108.3,768.3 Q109.8,767.5 111.3,768.0 L121.5,768.5 L121.5,778.6 Z" fill="url(#thsamp0)"/>
<rect x="105.02" y="751.20" width="3.00" height="18.35" fill="#2c0848" opacity="0.6"/>
<rect x="122.18" y="751.20" width="3.00" height="18.35" fill="#2c0848" opacity="0.6"/>
<rect x="97.10" y="778.50" width="33.00" height="2.30" fill="#ffec10"/>
<rect x="107.00" y="777.50" width="13.20" height="1.10" fill="#ffc020" opacity="0.9"/>
<text x="151.90" y="622.30" font-size="8.2" text-anchor="middle" font-weight="bold" fill="#1a1a1a">1 s</text>
<rect x="135.40" y="631.20" width="33.00" height="30.00" fill="url(#thbg0)"/>
<path d="M144.6,659.0 L144.6,647.9 L147.1,647.1 L151.7,648.7 L156.3,647.1 L158.8,647.9 L158.8,659.0 Z" fill="url(#thsampr0)"/>
<rect x="135.40" y="658.90" width="33.00" height="2.30" fill="#ffec10"/>
<rect x="145.30" y="657.90" width="13.20" height="1.10" fill="#ffc020" opacity="0.9"/>
<rect x="135.40" y="669.90" width="33.00" height="29.60" fill="url(#thbg1)"/>
<path d="M144.6,697.3 L144.6,686.4 L147.1,685.6 L151.7,687.2 L156.3,685.6 L158.8,686.4 L158.8,697.3 Z" fill="url(#thsampr1)"/>
<rect x="135.40" y="697.20" width="33.00" height="2.30" fill="#ffec10"/>
<rect x="145.30" y="696.20" width="13.20" height="1.10" fill="#ffc020" opacity="0.9"/>
<rect x="135.40" y="709.50" width="33.00" height="29.80" fill="url(#thbg2)"/>
<path d="M144.6,737.1 L144.6,726.1 L147.1,725.3 L151.7,726.9 L156.3,725.3 L158.8,726.1 L158.8,737.1 Z" fill="url(#thsampr2)"/>
<rect x="135.40" y="737.00" width="33.00" height="2.30" fill="#ffec10"/>
<rect x="145.30" y="736.00" width="13.20" height="1.10" fill="#ffc020" opacity="0.9"/>
<rect x="135.40" y="751.20" width="33.00" height="29.60" fill="url(#thbg3)"/>
<path d="M144.6,778.6 L144.6,768.6 L147.1,767.8 L151.7,769.4 L156.3,767.8 L158.8,768.6 L158.8,778.6 Z" fill="url(#thsampr3)"/>
<rect x="135.40" y="778.50" width="33.00" height="2.30" fill="#ffec10"/>
<rect x="145.30" y="777.50" width="13.20" height="1.10" fill="#ffc020" opacity="0.9"/>
<text x="190.20" y="622.30" font-size="8.2" text-anchor="middle" font-weight="bold" fill="#1a1a1a">2 s</text>
<rect x="173.70" y="631.20" width="33.00" height="30.00" fill="url(#thbg0)"/>
<path d="M182.9,659.0 L182.9,647.9 L185.4,647.1 L190.0,648.7 L194.6,647.1 L197.1,647.9 L197.1,659.0 Z" fill="url(#thsampr0)"/>
<rect x="173.70" y="658.90" width="33.00" height="2.30" fill="#ffec10"/>
<rect x="183.60" y="657.90" width="13.20" height="1.10" fill="#ffc020" opacity="0.9"/>
<rect x="173.70" y="669.90" width="33.00" height="29.60" fill="url(#thbg1)"/>
<path d="M182.9,697.3 L182.9,686.4 L185.4,685.6 L190.0,687.2 L194.6,685.6 L197.1,686.4 L197.1,697.3 Z" fill="url(#thsampr1)"/>
<rect x="173.70" y="697.20" width="33.00" height="2.30" fill="#ffec10"/>
<rect x="183.60" y="696.20" width="13.20" height="1.10" fill="#ffc020" opacity="0.9"/>
<rect x="173.70" y="709.50" width="33.00" height="29.80" fill="url(#thbg2)"/>
<path d="M182.9,737.1 L182.9,726.1 L185.4,725.3 L190.0,726.9 L194.6,725.3 L197.1,726.1 L197.1,737.1 Z" fill="url(#thsampr2)"/>
<rect x="173.70" y="737.00" width="33.00" height="2.30" fill="#ffec10"/>
<rect x="183.60" y="736.00" width="13.20" height="1.10" fill="#ffc020" opacity="0.9"/>
<rect x="173.70" y="751.20" width="33.00" height="29.60" fill="url(#thbg3)"/>
<path d="M182.9,778.6 L182.9,768.6 L185.4,767.8 L190.0,769.4 L194.6,767.8 L197.1,768.6 L197.1,778.6 Z" fill="url(#thsampr3)"/>
<rect x="173.70" y="778.50" width="33.00" height="2.30" fill="#ffec10"/>
<rect x="183.60" y="777.50" width="13.20" height="1.10" fill="#ffc020" opacity="0.9"/>
<text x="228.50" y="622.30" font-size="8.2" text-anchor="middle" font-weight="bold" fill="#1a1a1a">3 s</text>
<rect x="212.00" y="631.20" width="33.00" height="30.00" fill="url(#thbg0)"/>
<path d="M221.2,659.0 L221.2,647.9 L223.7,647.1 L228.3,648.7 L232.9,647.1 L235.4,647.9 L235.4,659.0 Z" fill="url(#thsampr0)"/>
<rect x="212.00" y="658.90" width="33.00" height="2.30" fill="#ffec10"/>
<rect x="221.90" y="657.90" width="13.20" height="1.10" fill="#ffc020" opacity="0.9"/>
<rect x="212.00" y="669.90" width="33.00" height="29.60" fill="url(#thbg1)"/>
<path d="M221.2,697.3 L221.2,686.4 L223.7,685.6 L228.3,687.2 L232.9,685.6 L235.4,686.4 L235.4,697.3 Z" fill="url(#thsampr1)"/>
<rect x="212.00" y="697.20" width="33.00" height="2.30" fill="#ffec10"/>
<rect x="221.90" y="696.20" width="13.20" height="1.10" fill="#ffc020" opacity="0.9"/>
<rect x="212.00" y="709.50" width="33.00" height="29.80" fill="url(#thbg2)"/>
<path d="M221.2,737.1 L221.2,726.1 L223.7,725.3 L228.3,726.9 L232.9,725.3 L235.4,726.1 L235.4,737.1 Z" fill="url(#thsampr2)"/>
<rect x="212.00" y="737.00" width="33.00" height="2.30" fill="#ffec10"/>
<rect x="221.90" y="736.00" width="13.20" height="1.10" fill="#ffc020" opacity="0.9"/>
<rect x="212.00" y="751.20" width="33.00" height="29.60" fill="url(#thbg3)"/>
<path d="M221.2,778.6 L221.2,768.6 L223.7,767.8 L228.3,769.4 L232.9,767.8 L235.4,768.6 L235.4,778.6 Z" fill="url(#thsampr3)"/>
<rect x="212.00" y="778.50" width="33.00" height="2.30" fill="#ffec10"/>
<rect x="221.90" y="777.50" width="13.20" height="1.10" fill="#ffc020" opacity="0.9"/>
<text x="266.80" y="622.30" font-size="8.2" text-anchor="middle" font-weight="bold" fill="#1a1a1a">5 s</text>
<rect x="250.30" y="631.20" width="33.00" height="30.00" fill="url(#thbg0)"/>
<path d="M259.5,659.0 L259.5,647.9 L262.0,647.1 L266.6,648.7 L271.2,647.1 L273.7,647.9 L273.7,659.0 Z" fill="url(#thsampr0)"/>
<rect x="250.30" y="658.90" width="33.00" height="2.30" fill="#ffec10"/>
<rect x="260.20" y="657.90" width="13.20" height="1.10" fill="#ffc020" opacity="0.9"/>
<rect x="250.30" y="669.90" width="33.00" height="29.60" fill="url(#thbg1)"/>
<path d="M259.5,697.3 L259.5,686.4 L262.0,685.6 L266.6,687.2 L271.2,685.6 L273.7,686.4 L273.7,697.3 Z" fill="url(#thsampr1)"/>
<rect x="250.30" y="697.20" width="33.00" height="2.30" fill="#ffec10"/>
<rect x="260.20" y="696.20" width="13.20" height="1.10" fill="#ffc020" opacity="0.9"/>
<rect x="250.30" y="709.50" width="33.00" height="29.80" fill="url(#thbg2)"/>
<path d="M259.5,737.1 L259.5,726.1 L262.0,725.3 L266.6,726.9 L271.2,725.3 L273.7,726.1 L273.7,737.1 Z" fill="url(#thsampr2)"/>
<rect x="250.30" y="737.00" width="33.00" height="2.30" fill="#ffec10"/>
<rect x="260.20" y="736.00" width="13.20" height="1.10" fill="#ffc020" opacity="0.9"/>
<rect x="250.30" y="751.20" width="33.00" height="29.60" fill="url(#thbg3)"/>
<path d="M259.5,778.6 L259.5,768.6 L262.0,767.8 L266.6,769.4 L271.2,767.8 L273.7,768.6 L273.7,778.6 Z" fill="url(#thsampr3)"/>
<rect x="250.30" y="778.50" width="33.00" height="2.30" fill="#ffec10"/>
<rect x="260.20" y="777.50" width="13.20" height="1.10" fill="#ffc020" opacity="0.9"/>
<text x="305.10" y="622.30" font-size="8.2" text-anchor="middle" font-weight="bold" fill="#1a1a1a">8 s</text>
<rect x="288.60" y="631.20" width="33.00" height="30.00" fill="url(#thbg0)"/>
<path d="M297.8,659.0 L297.8,647.9 L300.3,647.1 L304.9,648.7 L309.5,647.1 L312.0,647.9 L312.0,659.0 Z" fill="url(#thsampr0)"/>
<rect x="288.60" y="658.90" width="33.00" height="2.30" fill="#ffec10"/>
<rect x="298.50" y="657.90" width="13.20" height="1.10" fill="#ffc020" opacity="0.9"/>
<rect x="288.60" y="669.90" width="33.00" height="29.60" fill="url(#thbg1)"/>
<path d="M297.8,697.3 L297.8,686.4 L300.3,685.6 L304.9,687.2 L309.5,685.6 L312.0,686.4 L312.0,697.3 Z" fill="url(#thsampr1)"/>
<rect x="288.60" y="697.20" width="33.00" height="2.30" fill="#ffec10"/>
<rect x="298.50" y="696.20" width="13.20" height="1.10" fill="#ffc020" opacity="0.9"/>
<rect x="288.60" y="709.50" width="33.00" height="29.80" fill="url(#thbg2)"/>
<path d="M297.8,737.1 L297.8,726.1 L300.3,725.3 L304.9,726.9 L309.5,725.3 L312.0,726.1 L312.0,737.1 Z" fill="url(#thsampr2)"/>
<rect x="288.60" y="737.00" width="33.00" height="2.30" fill="#ffec10"/>
<rect x="298.50" y="736.00" width="13.20" height="1.10" fill="#ffc020" opacity="0.9"/>
<rect x="288.60" y="751.20" width="33.00" height="29.60" fill="url(#thbg3)"/>
<path d="M297.8,778.6 L297.8,768.6 L300.3,767.8 L304.9,769.4 L309.5,767.8 L312.0,768.6 L312.0,778.6 Z" fill="url(#thsampr3)"/>
<rect x="288.60" y="778.50" width="33.00" height="2.30" fill="#ffec10"/>
<rect x="298.50" y="777.50" width="13.20" height="1.10" fill="#ffc020" opacity="0.9"/>
<text x="343.40" y="622.30" font-size="8.2" text-anchor="middle" font-weight="bold" fill="#1a1a1a">15 s</text>
<rect x="326.90" y="631.20" width="33.00" height="30.00" fill="url(#thbg0)"/>
<path d="M336.1,659.0 L336.1,647.9 L338.6,647.1 L343.2,648.7 L347.8,647.1 L350.3,647.9 L350.3,659.0 Z" fill="url(#thsampr0)"/>
<rect x="326.90" y="658.90" width="33.00" height="2.30" fill="#ffec10"/>
<rect x="336.80" y="657.90" width="13.20" height="1.10" fill="#ffc020" opacity="0.9"/>
<rect x="326.90" y="669.90" width="33.00" height="29.60" fill="url(#thbg1)"/>
<path d="M336.1,697.3 L336.1,686.4 L338.6,685.6 L343.2,687.2 L347.8,685.6 L350.3,686.4 L350.3,697.3 Z" fill="url(#thsampr1)"/>
<rect x="326.90" y="697.20" width="33.00" height="2.30" fill="#ffec10"/>
<rect x="336.80" y="696.20" width="13.20" height="1.10" fill="#ffc020" opacity="0.9"/>
<rect x="326.90" y="709.50" width="33.00" height="29.80" fill="url(#thbg2)"/>
<path d="M336.1,737.1 L336.1,726.1 L338.6,725.3 L343.2,726.9 L347.8,725.3 L350.3,726.1 L350.3,737.1 Z" fill="url(#thsampr2)"/>
<rect x="326.90" y="737.00" width="33.00" height="2.30" fill="#ffec10"/>
<rect x="336.80" y="736.00" width="13.20" height="1.10" fill="#ffc020" opacity="0.9"/>
<rect x="326.90" y="751.20" width="33.00" height="29.60" fill="url(#thbg3)"/>
<path d="M336.1,778.6 L336.1,768.6 L338.6,767.8 L343.2,769.4 L347.8,767.8 L350.3,768.6 L350.3,778.6 Z" fill="url(#thsampr3)"/>
<rect x="326.90" y="778.50" width="33.00" height="2.30" fill="#ffec10"/>
<rect x="336.80" y="777.50" width="13.20" height="1.10" fill="#ffc020" opacity="0.9"/>
<text x="381.70" y="622.30" font-size="8.2" text-anchor="middle" font-weight="bold" fill="#1a1a1a">20 s</text>
<rect x="365.20" y="631.20" width="33.00" height="30.00" fill="url(#thbg0)"/>
<path d="M374.4,659.0 L374.4,647.9 L376.9,647.1 L381.5,648.7 L386.1,647.1 L388.6,647.9 L388.6,659.0 Z" fill="url(#thsampr0)"/>
<rect x="365.20" y="658.90" width="33.00" height="2.30" fill="#ffec10"/>
<rect x="375.10" y="657.90" width="13.20" height="1.10" fill="#ffc020" opacity="0.9"/>
<rect x="365.20" y="669.90" width="33.00" height="29.60" fill="url(#thbg1)"/>
<path d="M374.4,697.3 L374.4,686.4 L376.9,685.6 L381.5,687.2 L386.1,685.6 L388.6,686.4 L388.6,697.3 Z" fill="url(#thsampr1)"/>
<rect x="365.20" y="697.20" width="33.00" height="2.30" fill="#ffec10"/>
<rect x="375.10" y="696.20" width="13.20" height="1.10" fill="#ffc020" opacity="0.9"/>
<rect x="365.20" y="709.50" width="33.00" height="29.80" fill="url(#thbg2)"/>
<path d="M374.4,737.1 L374.4,726.1 L376.9,725.3 L381.5,726.9 L386.1,725.3 L388.6,726.1 L388.6,737.1 Z" fill="url(#thsampr2)"/>
<rect x="365.20" y="737.00" width="33.00" height="2.30" fill="#ffec10"/>
<rect x="375.10" y="736.00" width="13.20" height="1.10" fill="#ffc020" opacity="0.9"/>
<rect x="365.20" y="751.20" width="33.00" height="29.60" fill="url(#thbg3)"/>
<path d="M374.4,778.6 L374.4,768.6 L376.9,767.8 L381.5,769.4 L386.1,767.8 L388.6,768.6 L388.6,778.6 Z" fill="url(#thsampr3)"/>
<rect x="365.20" y="778.50" width="33.00" height="2.30" fill="#ffec10"/>
<rect x="375.10" y="777.50" width="13.20" height="1.10" fill="#ffc020" opacity="0.9"/>
<text x="21.50" y="650.20" font-size="10.5" text-anchor="start" font-weight="bold" fill="#1a1a1a" textLength="58.20" lengthAdjust="spacingAndGlyphs">PG preform</text>
<text x="18.80" y="689.00" font-size="10.5" text-anchor="start" font-weight="bold" fill="#1a1a1a" textLength="61.30" lengthAdjust="spacingAndGlyphs">PG@PyC-60</text>
<text x="19.40" y="727.00" font-size="10.5" text-anchor="start" font-weight="bold" fill="#1a1a1a" textLength="61.70" lengthAdjust="spacingAndGlyphs">PG@PyC-90</text>
<text x="15.90" y="768.30" font-size="10.5" text-anchor="start" font-weight="bold" fill="#1a1a1a" textLength="67.90" lengthAdjust="spacingAndGlyphs">PG@PyC-120</text>
<text x="118.50" y="651.00" font-size="6.0" text-anchor="start" font-weight="bold" fill="#f0e020">1</text>
<text x="115.00" y="650.20" font-size="4.2" text-anchor="start" font-weight="normal" fill="#f0e020">+</text>
<text x="118.50" y="656.60" font-size="6.0" text-anchor="start" font-weight="bold" fill="#f0e020">2</text>
<text x="115.00" y="655.80" font-size="4.2" text-anchor="start" font-weight="normal" fill="#f0e020">+</text>
<text x="118.50" y="689.70" font-size="6.0" text-anchor="start" font-weight="bold" fill="#f0e020">3</text>
<text x="115.00" y="688.90" font-size="4.2" text-anchor="start" font-weight="normal" fill="#f0e020">+</text>
<text x="118.50" y="695.30" font-size="6.0" text-anchor="start" font-weight="bold" fill="#f0e020">4</text>
<text x="115.00" y="694.50" font-size="4.2" text-anchor="start" font-weight="normal" fill="#f0e020">+</text>
<text x="118.50" y="729.30" font-size="6.0" text-anchor="start" font-weight="bold" fill="#f0e020">5</text>
<text x="115.00" y="728.50" font-size="4.2" text-anchor="start" font-weight="normal" fill="#f0e020">+</text>
<text x="118.50" y="734.90" font-size="6.0" text-anchor="start" font-weight="bold" fill="#f0e020">6</text>
<text x="115.00" y="734.10" font-size="4.2" text-anchor="start" font-weight="normal" fill="#f0e020">+</text>
<text x="118.50" y="772.50" font-size="6.0" text-anchor="start" font-weight="bold" fill="#f0e020">7</text>
<text x="115.00" y="771.70" font-size="4.2" text-anchor="start" font-weight="normal" fill="#f0e020">+</text>
<text x="118.50" y="778.10" font-size="6.0" text-anchor="start" font-weight="bold" fill="#f0e020">8</text>
<text x="115.00" y="777.30" font-size="4.2" text-anchor="start" font-weight="normal" fill="#f0e020">+</text>
<rect x="412.20" y="626.30" width="17.50" height="153.60" fill="url(#tcb)" stroke="#888" stroke-width="0.6"/>
<text x="421.50" y="645.30" font-size="7.4" text-anchor="middle" font-weight="bold" fill="#111">180</text>
<line x1="412.20" y1="642.70" x2="414.00" y2="642.70" stroke="#111" stroke-width="0.6"/>
<line x1="427.90" y1="642.70" x2="429.70" y2="642.70" stroke="#111" stroke-width="0.6"/>
<text x="421.50" y="662.80" font-size="7.4" text-anchor="middle" font-weight="bold" fill="#111">160</text>
<line x1="412.20" y1="660.20" x2="414.00" y2="660.20" stroke="#111" stroke-width="0.6"/>
<line x1="427.90" y1="660.20" x2="429.70" y2="660.20" stroke="#111" stroke-width="0.6"/>
<text x="421.50" y="681.50" font-size="7.4" text-anchor="middle" font-weight="bold" fill="#111">140</text>
<line x1="412.20" y1="678.90" x2="414.00" y2="678.90" stroke="#111" stroke-width="0.6"/>
<line x1="427.90" y1="678.90" x2="429.70" y2="678.90" stroke="#111" stroke-width="0.6"/>
<text x="421.50" y="698.50" font-size="7.4" text-anchor="middle" font-weight="bold" fill="#111">120</text>
<line x1="412.20" y1="695.90" x2="414.00" y2="695.90" stroke="#111" stroke-width="0.6"/>
<line x1="427.90" y1="695.90" x2="429.70" y2="695.90" stroke="#111" stroke-width="0.6"/>
<text x="421.50" y="716.50" font-size="7.4" text-anchor="middle" font-weight="bold" fill="#f0f0f0">100</text>
<line x1="412.20" y1="713.90" x2="414.00" y2="713.90" stroke="#f0f0f0" stroke-width="0.6"/>
<line x1="427.90" y1="713.90" x2="429.70" y2="713.90" stroke="#f0f0f0" stroke-width="0.6"/>
<text x="421.50" y="734.40" font-size="7.4" text-anchor="middle" font-weight="bold" fill="#f0f0f0">80</text>
<line x1="412.20" y1="731.80" x2="414.00" y2="731.80" stroke="#f0f0f0" stroke-width="0.6"/>
<line x1="427.90" y1="731.80" x2="429.70" y2="731.80" stroke="#f0f0f0" stroke-width="0.6"/>
<text x="421.50" y="752.20" font-size="7.4" text-anchor="middle" font-weight="bold" fill="#f0f0f0">60</text>
<line x1="412.20" y1="749.60" x2="414.00" y2="749.60" stroke="#f0f0f0" stroke-width="0.6"/>
<line x1="427.90" y1="749.60" x2="429.70" y2="749.60" stroke="#f0f0f0" stroke-width="0.6"/>
<text x="421.50" y="769.50" font-size="7.4" text-anchor="middle" font-weight="bold" fill="#f0f0f0">40</text>
<line x1="412.20" y1="766.90" x2="414.00" y2="766.90" stroke="#f0f0f0" stroke-width="0.6"/>
<line x1="427.90" y1="766.90" x2="429.70" y2="766.90" stroke="#f0f0f0" stroke-width="0.6"/>
<text x="411.7" y="620.5" font-size="7" font-weight="bold" fill="#111" textLength="19.2" lengthAdjust="spacingAndGlyphs">200 <tspan font-size="6.5">℃</tspan></text>
<text x="413.4" y="787.0" font-size="7" font-weight="bold" fill="#111" textLength="15.8" lengthAdjust="spacingAndGlyphs">25 <tspan font-size="6.5">℃</tspan></text>
<text x="373.70" y="786.20" font-size="9.6" text-anchor="start" font-weight="bold" fill="#1a1a1a" textLength="20.50" lengthAdjust="spacingAndGlyphs">1 cm</text>
<rect x="377.20" y="788.60" width="13.50" height="3.50" fill="#050505"/>
<rect x="491.20" y="688.54" width="19.60" height="71.66" fill="url(#barg)"/>
<rect x="515.50" y="669.25" width="19.60" height="90.95" fill="url(#barg)"/>
<rect x="539.60" y="660.98" width="19.60" height="99.22" fill="url(#barg)"/>
<rect x="563.90" y="656.85" width="19.60" height="103.35" fill="url(#barg)"/>
<rect x="588.80" y="706.46" width="19.60" height="53.74" fill="url(#barg)"/>
<rect x="613.00" y="691.30" width="19.60" height="68.90" fill="url(#barg)"/>
<rect x="637.60" y="669.94" width="19.60" height="90.26" fill="url(#barg)"/>
<rect x="487.60" y="622.40" width="171.80" height="137.80" fill="none" stroke="#1a1a1a" stroke-width="1.1"/>
<line x1="487.60" y1="760.20" x2="484.80" y2="760.20" stroke="#1a1a1a" stroke-width="0.9"/>
<line x1="487.60" y1="732.64" x2="484.80" y2="732.64" stroke="#1a1a1a" stroke-width="0.9"/>
<line x1="487.60" y1="705.08" x2="484.80" y2="705.08" stroke="#1a1a1a" stroke-width="0.9"/>
<line x1="487.60" y1="677.52" x2="484.80" y2="677.52" stroke="#1a1a1a" stroke-width="0.9"/>
<line x1="487.60" y1="649.96" x2="484.80" y2="649.96" stroke="#1a1a1a" stroke-width="0.9"/>
<line x1="487.60" y1="622.40" x2="484.80" y2="622.40" stroke="#1a1a1a" stroke-width="0.9"/>
<line x1="487.60" y1="746.42" x2="486.00" y2="746.42" stroke="#1a1a1a" stroke-width="0.9"/>
<line x1="487.60" y1="718.86" x2="486.00" y2="718.86" stroke="#1a1a1a" stroke-width="0.9"/>
<line x1="487.60" y1="691.30" x2="486.00" y2="691.30" stroke="#1a1a1a" stroke-width="0.9"/>
<line x1="487.60" y1="663.74" x2="486.00" y2="663.74" stroke="#1a1a1a" stroke-width="0.9"/>
<line x1="487.60" y1="636.18" x2="486.00" y2="636.18" stroke="#1a1a1a" stroke-width="0.9"/>
<text x="484.20" y="763.40" font-size="9.1" text-anchor="end" font-weight="bold" fill="#1a1a1a">0.00</text>
<text x="484.20" y="735.84" font-size="9.1" text-anchor="end" font-weight="bold" fill="#1a1a1a">0.02</text>
<text x="484.20" y="708.28" font-size="9.1" text-anchor="end" font-weight="bold" fill="#1a1a1a">0.04</text>
<text x="484.20" y="680.72" font-size="9.1" text-anchor="end" font-weight="bold" fill="#1a1a1a">0.06</text>
<text x="484.20" y="653.16" font-size="9.1" text-anchor="end" font-weight="bold" fill="#1a1a1a">0.08</text>
<text x="484.20" y="625.60" font-size="9.1" text-anchor="end" font-weight="bold" fill="#1a1a1a">0.10</text>
<line x1="501.00" y1="686.48" x2="501.00" y2="690.61" stroke="#ee3030" stroke-width="1.0"/>
<line x1="499.40" y1="686.48" x2="502.60" y2="686.48" stroke="#ee3030" stroke-width="0.9"/>
<line x1="499.40" y1="690.61" x2="502.60" y2="690.61" stroke="#ee3030" stroke-width="0.9"/>
<circle cx="495.0" cy="689.5" r="1.5" fill="#fff" stroke="#777" stroke-width="0.55"/>
<circle cx="498.0" cy="689.5" r="1.5" fill="#fff" stroke="#777" stroke-width="0.55"/>
<circle cx="507.0" cy="687.2" r="1.5" fill="#fff" stroke="#777" stroke-width="0.55"/>
<text x="501.00" y="684.18" font-size="8.4" text-anchor="middle" font-weight="bold" fill="#1a1a1a">0.052</text>
<line x1="525.30" y1="667.18" x2="525.30" y2="671.32" stroke="#ee3030" stroke-width="1.0"/>
<line x1="523.70" y1="667.18" x2="526.90" y2="667.18" stroke="#ee3030" stroke-width="0.9"/>
<line x1="523.70" y1="671.32" x2="526.90" y2="671.32" stroke="#ee3030" stroke-width="0.9"/>
<circle cx="519.3" cy="671.3" r="1.5" fill="#fff" stroke="#777" stroke-width="0.55"/>
<circle cx="525.8" cy="669.9" r="1.5" fill="#fff" stroke="#777" stroke-width="0.55"/>
<circle cx="530.3" cy="666.5" r="1.5" fill="#fff" stroke="#777" stroke-width="0.55"/>
<text x="525.30" y="664.88" font-size="8.4" text-anchor="middle" font-weight="bold" fill="#1a1a1a">0.066</text>
<line x1="549.40" y1="660.57" x2="549.40" y2="661.40" stroke="#ee3030" stroke-width="1.0"/>
<line x1="547.80" y1="660.57" x2="551.00" y2="660.57" stroke="#ee3030" stroke-width="0.9"/>
<line x1="547.80" y1="661.40" x2="551.00" y2="661.40" stroke="#ee3030" stroke-width="0.9"/>
<circle cx="546.4" cy="661.0" r="1.5" fill="#fff" stroke="#777" stroke-width="0.55"/>
<circle cx="549.4" cy="661.0" r="1.5" fill="#fff" stroke="#777" stroke-width="0.55"/>
<circle cx="552.4" cy="661.0" r="1.5" fill="#fff" stroke="#777" stroke-width="0.55"/>
<text x="549.40" y="658.27" font-size="8.4" text-anchor="middle" font-weight="bold" fill="#1a1a1a">0.072</text>
<line x1="573.70" y1="651.34" x2="573.70" y2="662.36" stroke="#ee3030" stroke-width="1.0"/>
<line x1="572.10" y1="651.34" x2="575.30" y2="651.34" stroke="#ee3030" stroke-width="0.9"/>
<line x1="572.10" y1="662.36" x2="575.30" y2="662.36" stroke="#ee3030" stroke-width="0.9"/>
<circle cx="568.7" cy="663.1" r="1.5" fill="#fff" stroke="#777" stroke-width="0.55"/>
<circle cx="578.7" cy="653.4" r="1.5" fill="#fff" stroke="#777" stroke-width="0.55"/>
<circle cx="581.2" cy="653.4" r="1.5" fill="#fff" stroke="#777" stroke-width="0.55"/>
<text x="573.70" y="649.04" font-size="8.4" text-anchor="middle" font-weight="bold" fill="#1a1a1a">0.075</text>
<line x1="598.60" y1="705.77" x2="598.60" y2="707.15" stroke="#ee3030" stroke-width="1.0"/>
<line x1="597.00" y1="705.77" x2="600.20" y2="705.77" stroke="#ee3030" stroke-width="0.9"/>
<line x1="597.00" y1="707.15" x2="600.20" y2="707.15" stroke="#ee3030" stroke-width="0.9"/>
<circle cx="594.6" cy="707.1" r="1.5" fill="#fff" stroke="#777" stroke-width="0.55"/>
<circle cx="598.6" cy="706.5" r="1.5" fill="#fff" stroke="#777" stroke-width="0.55"/>
<circle cx="602.1" cy="706.0" r="1.5" fill="#fff" stroke="#777" stroke-width="0.55"/>
<text x="598.60" y="703.47" font-size="8.4" text-anchor="middle" font-weight="bold" fill="#1a1a1a">0.039</text>
<line x1="622.80" y1="680.55" x2="622.80" y2="702.05" stroke="#ee3030" stroke-width="1.0"/>
<line x1="621.20" y1="680.55" x2="624.40" y2="680.55" stroke="#ee3030" stroke-width="0.9"/>
<line x1="621.20" y1="702.05" x2="624.40" y2="702.05" stroke="#ee3030" stroke-width="0.9"/>
<circle cx="615.8" cy="700.9" r="1.5" fill="#fff" stroke="#777" stroke-width="0.55"/>
<circle cx="619.3" cy="694.1" r="1.5" fill="#fff" stroke="#777" stroke-width="0.55"/>
<circle cx="625.3" cy="681.7" r="1.5" fill="#fff" stroke="#777" stroke-width="0.55"/>
<text x="622.80" y="678.25" font-size="8.4" text-anchor="middle" font-weight="bold" fill="#1a1a1a">0.050</text>
<line x1="647.40" y1="668.15" x2="647.40" y2="671.73" stroke="#ee3030" stroke-width="1.0"/>
<line x1="645.80" y1="668.15" x2="649.00" y2="668.15" stroke="#ee3030" stroke-width="0.9"/>
<line x1="645.80" y1="671.73" x2="649.00" y2="671.73" stroke="#ee3030" stroke-width="0.9"/>
<circle cx="642.4" cy="670.6" r="1.5" fill="#fff" stroke="#777" stroke-width="0.55"/>
<circle cx="645.4" cy="669.9" r="1.5" fill="#fff" stroke="#777" stroke-width="0.55"/>
<circle cx="652.4" cy="668.1" r="1.5" fill="#fff" stroke="#777" stroke-width="0.55"/>
<text x="647.40" y="665.85" font-size="8.4" text-anchor="middle" font-weight="bold" fill="#1a1a1a">0.065</text>
<text x="469.00" y="775.90" font-size="9.0" text-anchor="start" font-weight="bold" fill="#1a1a1a" textLength="45.00" lengthAdjust="spacingAndGlyphs" transform="rotate(-12.5 469.00 775.90)">PG preform</text>
<text x="490.70" y="779.10" font-size="9.0" text-anchor="start" font-weight="bold" fill="#1a1a1a" textLength="47.00" lengthAdjust="spacingAndGlyphs" transform="rotate(-12.5 490.70 779.10)">PG@PyC-60</text>
<text x="518.00" y="779.90" font-size="9.0" text-anchor="start" font-weight="bold" fill="#1a1a1a" textLength="47.00" lengthAdjust="spacingAndGlyphs" transform="rotate(-12.5 518.00 779.90)">PG@PyC-90</text>
<text x="543.30" y="780.60" font-size="9.0" text-anchor="start" font-weight="bold" fill="#1a1a1a" textLength="50.90" lengthAdjust="spacingAndGlyphs" transform="rotate(-12.5 543.30 780.60)">PG@PyC-120</text>
<text x="588.00" y="775.40" font-size="9.0" text-anchor="start" font-weight="bold" fill="#1a1a1a" textLength="25.60" lengthAdjust="spacingAndGlyphs" transform="rotate(-12.5 588.00 775.40)">PyC-60</text>
<text x="614.60" y="775.40" font-size="9.0" text-anchor="start" font-weight="bold" fill="#1a1a1a" textLength="27.20" lengthAdjust="spacingAndGlyphs" transform="rotate(-12.5 614.60 775.40)">PyC-90</text>
<text x="640.10" y="776.50" font-size="9.0" text-anchor="start" font-weight="bold" fill="#1a1a1a" textLength="30.50" lengthAdjust="spacingAndGlyphs" transform="rotate(-12.5 640.10 776.50)">PyC-120</text>
<text x="462.6" y="686.9" font-size="11" font-weight="bold" fill="#1a1a1a" text-anchor="middle" transform="rotate(-90 462.6 686.9)" textLength="171" lengthAdjust="spacingAndGlyphs">Thermal conductivity (W·m<tspan font-size="7" dy="-4">-1</tspan><tspan dy="4">·K</tspan><tspan font-size="7" dy="-4">-1</tspan><tspan dy="4">)</tspan></text>
</svg>
</body></html>
